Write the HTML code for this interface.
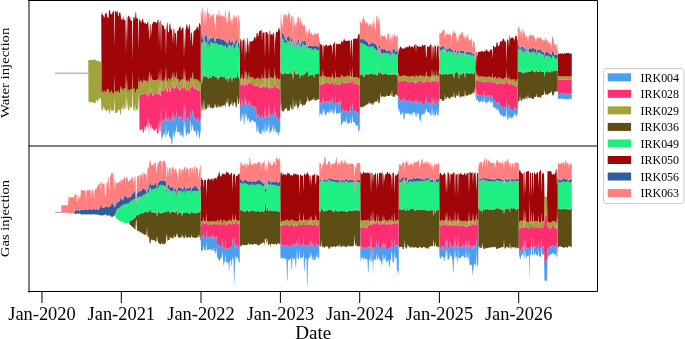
<!DOCTYPE html>
<html><head><meta charset="utf-8"><style>
html,body{margin:0;padding:0;background:#fff;width:685px;height:339px;overflow:hidden}
svg{display:block}
.t{font-family:"Liberation Serif",serif;font-size:18px;fill:#000}
.y{font-family:"Liberation Serif",serif;font-size:12.6px;fill:#000}
.l{font-family:"Liberation Serif",serif;font-size:11.6px;fill:#000}
</style></head><body>
<svg width="685" height="339" viewBox="0 0 685 339">
<rect width="685" height="339" fill="#fff"/>
<g>
<line x1="55" y1="73.2" x2="88.5" y2="73.2" stroke="#a08c8c" stroke-width="0.9"/>
<path fill="#4b9ef0" d="M160.75 108.6l0.25 0l0.5 15.3l0.5 -1.1l0.5 -0.1l0.5 -2.4l0.5 -0.2l0.5 0l0.5 -1.7l0.5 2.3l0.5 0.3l0.5 -12.9l0.5 13.5l0.5 -0.6l0.5 0.7l0.5 -4.3l0.5 -0.3l0.5 -0.3l0.5 3.9l0.5 2.7l0.5 -1.6l0.5 -3l0.5 -0.6l0.5 -0.6l0.5 -6.6l0.5 10.8l0.5 -0.7l0.5 -7.5l0.5 8.6l0.5 -4.4l0.5 0l0.5 -1.6l0.5 -6.3l0.5 7.9l0.5 -0.1l0.5 0.9l0.5 -1.2l0.5 -1.2l0.5 1l0.5 1.4l0.5 0.3l0.5 -3.5l0.5 4.6l0.5 0l0.5 -0.1l0.5 1.1l0.5 -0.7l0.5 -17.6l0.5 13.8l0.5 -10.1l0.5 9.8l0.5 4.4l0.5 1.8l0.5 -1.8l0.5 -3.1l0.5 0l0.5 0.4l0.5 0.8l0.5 1.9l0.5 -1.5l0.5 -9.6l0.5 7.7l0.5 -0.6l0.5 -0.4l0.5 -6.4l0.5 0.5l0.5 5.1l0.5 1.6l0.5 0.6l0.5 0l0.5 0.6l0.5 0.2l0.5 3.3l0.5 1l0.5 -2.9l0.5 -1l0.5 -2.1l0.5 3.2l0.5 3.3l0.5 0.3l0.5 -4.3l0.25 0L200.75 131.2l-0.25 0l-0.5 4.3l-0.5 4.4l-0.5 -3.3l-0.5 -3.1l-0.5 -4.2l-0.5 1.1l-0.5 6.7l-0.5 -0.9l-0.5 -3.2l-0.5 -1.8l-0.5 -0.6l-0.5 0l-0.5 1.2l-0.5 -1.5l-0.5 -5.1l-0.5 -0.5l-0.5 6.1l-0.5 0.5l-0.5 -8.5l-0.5 -1.8l-0.5 11.6l-0.5 1.5l-0.5 -1.8l-0.5 2.1l-0.5 -0.3l-0.5 -2.9l-0.5 3.2l-0.5 1.8l-0.5 -1.7l-0.5 -3.9l-0.5 -9.7l-0.5 10.1l-0.5 -13.8l-0.5 20l-0.5 0.7l-0.5 -2.5l-0.5 0.2l-0.5 0l-0.5 -4.6l-0.5 4.8l-0.5 -0.3l-0.5 -2.8l-0.5 -1.1l-0.5 -0.2l-0.5 1.3l-0.5 -0.8l-0.5 0l-0.5 -7.8l-0.5 6.3l-0.5 1.7l-0.5 1.3l-0.5 6.2l-0.5 -8.6l-0.5 7.6l-0.5 -8.8l-0.5 12.2l-0.5 2.3l-0.5 0.6l-0.5 -9.2l-0.5 3l-0.5 0.5l-0.5 -2.6l-0.5 -2.2l-0.5 -4.5l-0.5 1l-0.5 4.3l-0.5 -0.6l-0.5 0.6l-0.5 -11.4l-0.5 13.8l-0.5 -0.3l-0.5 -5.4l-0.5 1.8l-0.5 1.1l-0.5 0.6l-0.5 2.4l-0.5 0.2l-0.5 2.7l-0.5 -14.4ZM239.75 105.1l0.25 0l0.5 1.4l0.5 -1.2l0.5 -0.4l0.5 -7.9l0.5 8.1l0.5 0.5l0.5 0.7l0.5 -0.6l0.5 -1.8l0.5 -8.8l0.5 13.1l0.5 -7.4l0.5 -0.1l0.5 5.8l0.5 1l0.5 -3.8l0.5 2l0.5 -6.1l0.5 6.2l0.5 -0.6l0.5 -0.1l0.5 -0.2l0.5 0.3l0.5 1.4l0.5 0l0.5 0.3l0.5 -1.1l0.5 1.4l0.5 0.2l0.5 0l0.5 0.1l0.5 -1.2l0.5 9.7l0.5 1.9l0.5 -2.3l0.5 -1.2l0.5 -0.4l0.5 1l0.5 2.6l0.5 0.5l0.5 0l0.5 0.3l0.5 -0.5l0.5 -3.8l0.5 4l0.5 0.7l0.5 -1.4l0.5 0.5l0.5 -0.7l0.5 -12.3l0.5 12.8l0.5 -0.3l0.5 0l0.5 0.1l0.5 -2.3l0.5 0.3l0.5 -0.3l0.5 -10.9l0.5 13.3l0.5 0.8l0.5 -2.2l0.5 -1.4l0.5 -0.2l0.5 -1.4l0.5 0.4l0.5 1.2l0.5 1.6l0.5 -0.1l0.5 -10.1l0.5 11.4l0.5 -6.4l0.5 5l0.5 0l0.5 0.1l0.5 0.7l0.5 1.9l0.5 1.7l0.5 0.5l0.5 -1.1l0.5 -3.1l0.25 0L280.25 130.8l-0.25 0l-0.5 3.2l-0.5 -3.6l-0.5 5.9l-0.5 -1.6l-0.5 -1.9l-0.5 -0.7l-0.5 -0.2l-0.5 0l-0.5 -3.8l-0.5 6.4l-0.5 -10.2l-0.5 8.6l-0.5 -2l-0.5 -1.6l-0.5 -5l-0.5 5.3l-0.5 1.3l-0.5 0.3l-0.5 1.3l-0.5 1.1l-0.5 -0.8l-0.5 -13.3l-0.5 11l-0.5 -5.5l-0.5 4l-0.5 2.3l-0.5 -0.1l-0.5 0.6l-0.5 -1.9l-0.5 -8.5l-0.5 12.3l-0.5 -1.7l-0.5 0.2l-0.5 -4.3l-0.5 4.4l-0.5 -4.1l-0.5 6.5l-0.5 -0.8l-0.5 -0.3l-0.5 0l-0.5 -0.5l-0.5 -0.9l-0.5 -1l-0.5 -6.1l-0.5 4.7l-0.5 2.4l-0.5 -0.2l-0.5 -10.5l-0.5 0.4l-0.5 0l-0.5 0.7l-0.5 -0.2l-0.5 -2.4l-0.5 0.9l-0.5 -0.3l-0.5 0.1l-0.5 -1.5l-0.5 3l-0.5 0.2l-0.5 -1.6l-0.5 3.2l-0.5 -6.1l-0.5 1.9l-0.5 -2l-0.5 3.8l-0.5 -1.2l-0.5 -5.8l-0.5 0l-0.5 4.1l-0.5 -7.4l-0.5 12.3l-0.5 1.8l-0.5 -5.8l-0.5 -7.2l-0.5 7.2l-0.5 -7l-0.5 7.9l-0.5 0.4l-0.5 1.2l-0.5 -7.2ZM319.25 105.8l0.25 0l0.5 -1.6l0.5 -2l0.5 2.6l0.5 0.1l0.5 -3.5l0.5 3.2l0.5 -8.7l0.5 6.3l0.5 0.2l0.5 -0.8l0.5 1.2l0.5 -0.2l0.5 -0.1l0.5 -1.7l0.5 1.4l0.5 -0.8l0.5 -0.3l0.5 1.6l0.5 0.1l0.5 0.6l0.5 -4.6l0.5 3.3l0.5 0.1l0.5 -0.7l0.5 0.3l0.5 -5.2l0.5 5.5l0.5 0.5l0.5 0.4l0.5 1.7l0.5 -0.4l0.5 -8.1l0.5 7l0.5 0.5l0.5 0.1l0.5 -2l0.5 2.1l0.5 -1.7l0.5 -0.3l0.5 0.2l0.5 0.1l0.5 -3.7l0.5 13.6l0.5 0l0.5 0.1l0.5 -0.4l0.5 -3.2l0.5 1.6l0.5 0.7l0.5 0.8l0.5 -0.8l0.5 0l0.5 1.8l0.5 -2.9l0.5 2.6l0.5 0.1l0.5 0l0.5 -0.1l0.5 -1.8l0.5 0.1l0.5 1.2l0.5 -7.4l0.5 7l0.5 -0.5l0.5 0.1l0.5 -9.5l0.5 9.1l0.5 0.5l0.5 0l0.5 0.2l0.5 -1l0.5 0l0.5 2.4l0.5 -1.1l0.5 0.1l0.5 0.9l0.5 1.2l0.5 0.7l0.5 -1.2l0.5 2.3l0.25 0L359.75 129.9l-0.25 0l-0.5 1.3l-0.5 1.1l-0.5 -6.4l-0.5 -1.3l-0.5 1l-0.5 0l-0.5 1l-0.5 -2.4l-0.5 -0.8l-0.5 -1.2l-0.5 -0.1l-0.5 -0.1l-0.5 0.6l-0.5 -9.2l-0.5 9.5l-0.5 0.3l-0.5 0.5l-0.5 -7l-0.5 7.4l-0.5 -1.4l-0.5 0l-0.5 1.8l-0.5 -1.6l-0.5 -0.1l-0.5 0l-0.5 -7.2l-0.5 8.8l-0.5 -3.2l-0.5 -0.1l-0.5 0.8l-0.5 -0.7l-0.5 0.7l-0.5 -1.5l-0.5 3.1l-0.5 0.5l-0.5 1.4l-0.5 0l-0.5 -15.6l-0.5 3.3l-0.5 0.3l-0.5 -0.2l-0.5 -0.7l-0.5 1.7l-0.5 -2l-0.5 2l-0.5 -0.1l-0.5 -0.5l-0.5 -8.5l-0.5 8.1l-0.5 -3.8l-0.5 4.7l-0.5 -0.4l-0.5 -0.5l-0.5 -5.2l-0.5 5.2l-0.5 -2.9l-0.5 3.2l-0.5 -2l-0.5 -3.2l-0.5 4.5l-0.5 -0.6l-0.5 1.1l-0.5 -1.6l-0.5 0.3l-0.5 0.9l-0.5 0.5l-0.5 1.8l-0.5 0l-0.5 0.2l-0.5 -3.7l-0.5 -2l-0.5 3.3l-0.5 -6.2l-0.5 8.6l-0.5 -3.1l-0.5 3.1l-0.5 -0.1l-0.5 -2.6l-0.5 2l-0.5 2.9ZM397.75 97.3l0.25 0l0.5 -1.3l0.5 4.3l0.5 -1.8l0.5 1l0.5 2.6l0.5 -0.4l0.5 -0.7l0.5 -1.6l0.5 1l0.5 -1.5l0.5 -0.6l0.5 0.4l0.5 0l0.5 2.7l0.5 0.1l0.5 0l0.5 -0.1l0.5 -0.2l0.5 0l0.5 -1.2l0.5 0.8l0.5 -0.2l0.5 0.7l0.5 -0.6l0.5 -0.6l0.5 2.7l0.5 -0.5l0.5 -0.2l0.5 0.6l0.5 -1.2l0.5 0.1l0.5 -0.7l0.5 0.5l0.5 1.8l0.5 -0.1l0.5 -5.9l0.5 6l0.5 0l0.5 -0.9l0.5 -0.7l0.5 0.3l0.5 0.2l0.5 -0.4l0.5 -0.4l0.5 1.5l0.5 0.1l0.5 0.2l0.5 -0.8l0.5 2.2l0.5 0.3l0.5 -0.8l0.5 -0.3l0.5 0.2l0.5 -0.9l0.5 -0.2l0.5 -5.1l0.5 -1.4l0.5 5.6l0.5 0.7l0.5 -0.2l0.5 -0.7l0.5 0l0.5 0.6l0.5 0.1l0.5 2.8l0.5 0.7l0.5 -1l0.5 -8.7l0.5 8.2l0.5 -1l0.5 -0.4l0.5 -5.5l0.5 7.2l0.5 -0.7l0.5 0.4l0.5 -0.8l0.5 -6.1l0.5 7.3l0.5 -1.3l0.5 0.3l0.5 0l0.5 -6.4l0.25 0L439.25 106.2l-0.25 0l-0.5 9.8l-0.5 -1.3l-0.5 -0.3l-0.5 1.3l-0.5 -6.6l-0.5 6.1l-0.5 0.8l-0.5 -1.2l-0.5 1.9l-0.5 -7.2l-0.5 5.5l-0.5 0.1l-0.5 -0.5l-0.5 -8.4l-0.5 8.7l-0.5 1l-0.5 -0.1l-0.5 -2.8l-0.5 0.2l-0.5 -0.6l-0.5 0l-0.5 -0.5l-0.5 0.2l-0.5 -0.7l-0.5 -3.1l-0.5 1.3l-0.5 3.8l-0.5 -3.3l-0.5 4.4l-0.5 -0.2l-0.5 0.3l-0.5 -2.3l-0.5 2.9l-0.5 -1.4l-0.5 0.8l-0.5 6.4l-0.5 0l-0.5 -1.8l-0.5 0.5l-0.5 -6.2l-0.5 0l-0.5 -0.2l-0.5 -0.3l-0.5 3.9l-0.5 0l-0.5 -6l-0.5 6l-0.5 -2.2l-0.5 -2.3l-0.5 -0.5l-0.5 0.6l-0.5 -0.4l-0.5 1.2l-0.5 3.9l-0.5 -4.3l-0.5 0.8l-0.5 0l-0.5 0.6l-0.5 0.7l-0.5 -3.1l-0.5 1.8l-0.5 -0.9l-0.5 0.5l-0.5 -0.1l-0.5 0.3l-0.5 0.1l-0.5 -1l-0.5 -0.2l-0.5 7l-0.5 0l-0.5 -0.4l-0.5 -9.1l-0.5 3.4l-0.5 -1l-0.5 1.7l-0.5 0.7l-0.5 0.2l-0.5 -2.6l-0.5 -3.1l-0.5 3.4l-0.5 -4.3l-0.5 -0.1ZM475.25 94.4l0.25 0l0.5 -6.5l0.5 7.6l0.5 0.1l0.5 -2.8l0.5 2.5l0.5 0.1l0.5 -0.6l0.5 0.7l0.5 -0.2l0.5 -0.7l0.5 1.3l0.5 -0.4l0.5 0.6l0.5 -0.1l0.5 -0.2l0.5 -0.8l0.5 -4.7l0.5 6.4l0.5 -1l0.5 0l0.5 1.2l0.5 0.4l0.5 -1.7l0.5 0.1l0.5 0.5l0.5 -0.5l0.5 -0.9l0.5 0.4l0.5 0.9l0.5 1.5l0.5 -0.9l0.5 -0.3l0.5 0.1l0.5 -2.5l0.5 5.7l0.5 0.3l0.5 0.5l0.5 -0.5l0.5 1.3l0.5 0.4l0.5 0.4l0.5 2.1l0.5 -0.9l0.5 0.3l0.5 -1.8l0.5 0.1l0.5 0.7l0.5 0.2l0.5 1.7l0.5 1.4l0.5 0.4l0.5 0.3l0.5 -0.4l0.5 1.5l0.5 0.7l0.5 -0.5l0.5 0.6l0.5 -0.9l0.5 -0.4l0.5 0.2l0.5 0.2l0.5 -9.6l0.5 9.7l0.5 1.1l0.5 -0.7l0.5 -1.4l0.5 -2.9l0.5 6l0.5 0l0.5 -1.8l0.5 1.9l0.5 -0.1l0.5 0.2l0.5 -0.1l0.5 -0.9l0.5 -0.1l0.5 -0.2l0.5 -3.3l0.5 2.5l0.5 0.3l0.5 2.3l0.5 -0.2l0.5 -1.7l0.5 -1l0.25 0L517.75 113.8l-0.25 0l-0.5 1.3l-0.5 1.1l-0.5 0.3l-0.5 -2l-0.5 -0.1l-0.5 -1.8l-0.5 3.3l-0.5 0.3l-0.5 0.4l-0.5 1.1l-0.5 1.3l-0.5 -1.5l-0.5 0.9l-0.5 -1.9l-0.5 1.9l-0.5 0.3l-0.5 -4l-0.5 3.1l-0.5 1.7l-0.5 0.7l-0.5 -2.6l-0.5 -11.8l-0.5 11.5l-0.5 -0.3l-0.5 -1.3l-0.5 0.3l-0.5 1l-0.5 -0.6l-0.5 0.4l-0.5 -0.9l-0.5 -1.3l-0.5 1l-0.5 -0.4l-0.5 -0.5l-0.5 -0.5l-0.5 -1.8l-0.5 -0.3l-0.5 -2.9l-0.5 -0.2l-0.5 1.7l-0.5 -3.3l-0.5 3.3l-0.5 -2.2l-0.5 0l-0.5 -0.5l-0.5 -1.4l-0.5 1.1l-0.5 0.3l-0.5 -1.7l-0.5 -5.8l-0.5 2l-0.5 -0.2l-0.5 0.2l-0.5 0.4l-0.5 -3.7l-0.5 2.4l-0.5 -0.9l-0.5 1l-0.5 0.5l-0.5 -0.5l-0.5 0.5l-0.5 1.3l-0.5 -0.4l-0.5 -1.7l-0.5 -0.1l-0.5 1.7l-0.5 -6.4l-0.5 4.8l-0.5 0.7l-0.5 0.2l-0.5 -1.1l-0.5 -0.6l-0.5 0.4l-0.5 0.5l-0.5 0.7l-0.5 0.2l-0.5 -0.7l-0.5 -0.2l-0.5 -0.2l-0.5 -2.4l-0.5 1.6l-0.5 0.9l-0.5 -7.6l-0.5 6.5ZM557.75 93.9l0.25 0l0.5 0.2l0.5 -0.4l0.5 0l0.5 -0.2l0.5 0.2l0.5 -0.4l0.5 -0.4l0.5 0.6l0.5 -0.1l0.5 0.3l0.5 -0.1l0.5 0.6l0.5 -0.4l0.5 -0.1l0.5 0.2l0.5 -0.1l0.5 -0.3l0.5 0.9l0.5 0.3l0.5 -0.8l0.5 0.7l0.5 -1.1l0.5 0.4l0.5 -0.8l0.5 1l0.5 -0.7l0.5 1.1l0.25 0L571.75 99.8l-0.25 0l-0.5 -1l-0.5 0.7l-0.5 -1.3l-0.5 0.9l-0.5 -0.4l-0.5 1.2l-0.5 -1l-0.5 0.9l-0.5 0l-0.5 -0.7l-0.5 0.1l-0.5 0.1l-0.5 -0.2l-0.5 0l-0.5 0.5l-0.5 -0.8l-0.5 0.2l-0.5 -0.4l-0.5 0.2l-0.5 -0.5l-0.5 0.6l-0.5 0.2l-0.5 -0.3l-0.5 0l-0.5 0.1l-0.5 0l-0.5 0.2Z"/>
<path fill="#fd2f72" d="M139.25 94.8l0.25 0l0.5 0l0.5 0.7l0.5 -1.3l0.5 -0.7l0.5 1.4l0.5 0.4l0.5 -1.1l0.5 -1l0.5 0l0.5 -1.8l0.5 3.2l0.5 -1.7l0.5 1.2l0.5 0.2l0.5 0l0.5 -0.5l0.5 4.1l0.5 -9.5l0.5 9.2l0.5 -11.7l0.5 1.1l0.5 6.4l0.5 0.6l0.5 -6.3l0.5 5.4l0.5 1.8l0.5 1.2l0.5 0.1l0.5 -2.5l0.5 0.2l0.5 -0.1l0.5 -0.1l0.5 0.3l0.5 0l0.5 -0.1l0.5 0.6l0.5 -0.2l0.5 0l0.5 -11.2l0.5 10.8l0.5 1.7l0.5 0.9l0.5 -18.3l0.5 13.3l0.5 -1.1l0.5 -0.1l0.5 0.5l0.5 -0.2l0.5 0.1l0.5 -1.7l0.5 -0.8l0.5 0.3l0.5 -12.4l0.5 13.5l0.5 2.9l0.5 -0.2l0.5 -4.2l0.5 -0.3l0.5 -0.3l0.5 3.9l0.5 0.7l0.5 -1.6l0.5 -1.3l0.5 -0.6l0.5 -0.5l0.5 -6.6l0.5 7.3l0.5 -0.6l0.5 -7.5l0.5 8.6l0.5 -1.4l0.5 0.1l0.5 -1.7l0.5 -6.8l0.5 7.9l0.5 0l0.5 0.9l0.5 1l0.5 -1.2l0.5 1.1l0.5 1.3l0.5 -0.8l0.5 -1.5l0.5 -0.2l0.5 0l0.5 -0.4l0.5 1.1l0.5 -0.6l0.5 -13.1l0.5 13.8l0.5 -10l0.5 9.7l0.5 0.7l0.5 1.8l0.5 0.1l0.5 -2.2l0.5 0l0.5 0.4l0.5 0.8l0.5 1.9l0.5 -1.5l0.5 -9.6l0.5 7.2l0.5 -0.6l0.5 0l0.5 -6.3l0.5 0.6l0.5 5.1l0.5 1.5l0.5 -0.2l0.5 0l0.5 0.6l0.5 0.2l0.5 -0.7l0.5 0.9l0.5 1.9l0.5 -1l0.5 -2.1l0.5 3.2l0.5 -0.8l0.5 0.3l0.5 0.3l0.25 0L200.75 119.2l-0.25 0l-0.5 4.3l-0.5 -0.3l-0.5 -3.3l-0.5 -3.2l-0.5 2.1l-0.5 1l-0.5 2.9l-0.5 -1l-0.5 -3.3l-0.5 -0.2l-0.5 -0.6l-0.5 0l-0.5 -0.6l-0.5 -1.6l-0.5 -5.1l-0.5 -0.5l-0.5 6.4l-0.5 0.4l-0.5 0.6l-0.5 -7.7l-0.5 9.6l-0.5 1.5l-0.5 -1.9l-0.5 -0.8l-0.5 -0.4l-0.5 0l-0.5 3.1l-0.5 1.8l-0.5 -1.8l-0.5 -4.4l-0.5 -9.8l-0.5 10.1l-0.5 -13.8l-0.5 17.6l-0.5 0.7l-0.5 -1.1l-0.5 0.1l-0.5 0l-0.5 -4.6l-0.5 3.5l-0.5 -0.3l-0.5 -1.4l-0.5 -1l-0.5 1.2l-0.5 1.2l-0.5 -0.9l-0.5 0.1l-0.5 -7.9l-0.5 6.3l-0.5 1.6l-0.5 0l-0.5 4.4l-0.5 -8.6l-0.5 7.5l-0.5 0.7l-0.5 -10.8l-0.5 6.6l-0.5 0.6l-0.5 0.6l-0.5 3l-0.5 1.6l-0.5 -2.7l-0.5 -3.9l-0.5 0.3l-0.5 0.3l-0.5 4.3l-0.5 -0.7l-0.5 0.6l-0.5 -13.5l-0.5 12.9l-0.5 -0.3l-0.5 -2.3l-0.5 1.7l-0.5 0l-0.5 0.2l-0.5 2.4l-0.5 0.1l-0.5 1.1l-0.5 -15.3l-0.5 23.3l-0.5 -1.1l-0.5 -0.6l-0.5 -10.9l-0.5 14.3l-0.5 0l-0.5 0.1l-0.5 -0.5l-0.5 -5.2l-0.5 0l-0.5 2.5l-0.5 0.1l-0.5 0.1l-0.5 -0.2l-0.5 -0.9l-0.5 -0.1l-0.5 -1.2l-0.5 0.2l-0.5 -5.4l-0.5 6.3l-0.5 -0.6l-0.5 -4.9l-0.5 -1.1l-0.5 11.7l-0.5 -9.2l-0.5 -9.2l-0.5 13.7l-0.5 -3.9l-0.5 0l-0.5 -0.3l-0.5 5.3l-0.5 -1.6l-0.5 -3.3l-0.5 6.3l-0.5 -0.2l-0.5 1l-0.5 -4.6l-0.5 1.7l-0.5 -1.4l-0.5 0.6l-0.5 1.3l-0.5 -0.7l-0.5 0ZM239.75 83.2l0.25 0l0.5 1.4l0.5 0.3l0.5 -0.4l0.5 -8l0.5 8.2l0.5 0.4l0.5 -0.6l0.5 1.2l0.5 -1.8l0.5 -8.8l0.5 12.3l0.5 -7.4l0.5 -0.1l0.5 5.9l0.5 -0.3l0.5 -3.8l0.5 2l0.5 -6l0.5 6l0.5 -0.5l0.5 -0.1l0.5 -0.2l0.5 1.5l0.5 -0.4l0.5 0l0.5 0.3l0.5 0.2l0.5 0.9l0.5 0l0.5 0l0.5 0.1l0.5 -1.2l0.5 1.5l0.5 0.5l0.5 0l0.5 -1.1l0.5 -0.4l0.5 0.9l0.5 1.5l0.5 0.5l0.5 0.1l0.5 0.2l0.5 0.1l0.5 -5.6l0.5 4.1l0.5 0.7l0.5 -0.8l0.5 0.6l0.5 0l0.5 -12.3l0.5 12.7l0.5 -0.3l0.5 0l0.5 0.1l0.5 -0.3l0.5 0.3l0.5 -0.3l0.5 -10.9l0.5 12.7l0.5 0.8l0.5 -2.2l0.5 -1.3l0.5 1.9l0.5 -1.4l0.5 0.4l0.5 1.2l0.5 -1.1l0.5 -0.1l0.5 -10.6l0.5 11.3l0.5 -5.2l0.5 4.9l0.5 0l0.5 0.1l0.5 -0.1l0.5 -0.4l0.5 1.6l0.5 0.6l0.5 -1.1l0.5 -0.8l0.25 0L280.25 116.9l-0.25 0l-0.5 3.1l-0.5 1.1l-0.5 -0.5l-0.5 -1.7l-0.5 -1.9l-0.5 -0.7l-0.5 -0.1l-0.5 0l-0.5 -5l-0.5 6.4l-0.5 -11.4l-0.5 10.1l-0.5 0.1l-0.5 -1.6l-0.5 -1.2l-0.5 -0.4l-0.5 1.4l-0.5 0.2l-0.5 1.4l-0.5 2.2l-0.5 -0.8l-0.5 -13.3l-0.5 10.9l-0.5 0.3l-0.5 -0.3l-0.5 2.3l-0.5 -0.1l-0.5 0l-0.5 0.3l-0.5 -12.8l-0.5 12.3l-0.5 0.7l-0.5 -0.5l-0.5 1.4l-0.5 -0.7l-0.5 -4l-0.5 3.8l-0.5 0.5l-0.5 -0.3l-0.5 0l-0.5 -0.5l-0.5 -2.6l-0.5 -1l-0.5 0.4l-0.5 1.2l-0.5 2.3l-0.5 -1.9l-0.5 -9.7l-0.5 1.2l-0.5 -0.1l-0.5 0l-0.5 -0.2l-0.5 -1.4l-0.5 1.1l-0.5 -0.3l-0.5 0l-0.5 -1.4l-0.5 -0.3l-0.5 0.2l-0.5 0.1l-0.5 0.6l-0.5 -6.2l-0.5 6.1l-0.5 -2l-0.5 3.8l-0.5 -1l-0.5 -5.8l-0.5 0.1l-0.5 7.4l-0.5 -13.1l-0.5 8.8l-0.5 1.8l-0.5 0.6l-0.5 -0.7l-0.5 -0.5l-0.5 -8.1l-0.5 7.9l-0.5 0.4l-0.5 1.2l-0.5 -1.4ZM319.25 83.9l0.25 0l0.5 -0.1l0.5 0.5l0.5 0.8l0.5 0l0.5 -1.4l0.5 1.2l0.5 -8.7l0.5 7.9l0.5 0.2l0.5 -2.3l0.5 1.2l0.5 0l0.5 -0.1l0.5 0.2l0.5 -0.2l0.5 -0.8l0.5 -1.4l0.5 1.6l0.5 0l0.5 0.7l0.5 1l0.5 -0.5l0.5 -0.2l0.5 -0.6l0.5 0.3l0.5 -4.6l0.5 5.5l0.5 -0.1l0.5 -0.4l0.5 1.7l0.5 -0.5l0.5 -8l0.5 7.1l0.5 0.4l0.5 0l0.5 -2l0.5 2.1l0.5 0.2l0.5 -0.3l0.5 0l0.5 0l0.5 0.3l0.5 -3.4l0.5 0.1l0.5 0.1l0.5 -0.5l0.5 0.3l0.5 1.5l0.5 0.8l0.5 -0.1l0.5 -0.8l0.5 0l0.5 -0.4l0.5 1.2l0.5 -1.1l0.5 0.1l0.5 0l0.5 -0.1l0.5 0.5l0.5 0.1l0.5 -0.5l0.5 -7.4l0.5 8.1l0.5 -0.5l0.5 0.1l0.5 -9.5l0.5 10.3l0.5 0.4l0.5 0.1l0.5 0.1l0.5 0.1l0.5 0l0.5 -0.4l0.5 -1.1l0.5 0l0.5 0.8l0.5 1.3l0.5 0.6l0.5 -1.1l0.5 0.7l0.25 0L359.75 115.7l-0.25 0l-0.5 -2.3l-0.5 1.2l-0.5 -0.7l-0.5 -1.2l-0.5 -0.9l-0.5 -0.1l-0.5 1.1l-0.5 -2.4l-0.5 0l-0.5 1l-0.5 -0.2l-0.5 0l-0.5 -0.5l-0.5 -9.1l-0.5 9.5l-0.5 -0.1l-0.5 0.5l-0.5 -7l-0.5 7.4l-0.5 -1.2l-0.5 -0.1l-0.5 1.8l-0.5 0.1l-0.5 0l-0.5 -0.1l-0.5 -2.6l-0.5 2.9l-0.5 -1.8l-0.5 0l-0.5 0.8l-0.5 -0.8l-0.5 -0.7l-0.5 -1.6l-0.5 3.2l-0.5 0.4l-0.5 -0.1l-0.5 0l-0.5 -13.6l-0.5 3.7l-0.5 -0.1l-0.5 -0.2l-0.5 0.3l-0.5 1.7l-0.5 -2.1l-0.5 2l-0.5 -0.1l-0.5 -0.5l-0.5 -7l-0.5 8.1l-0.5 0.4l-0.5 -1.7l-0.5 -0.4l-0.5 -0.5l-0.5 -5.5l-0.5 5.2l-0.5 -0.3l-0.5 0.7l-0.5 -0.1l-0.5 -3.3l-0.5 4.6l-0.5 -0.6l-0.5 -0.1l-0.5 -1.6l-0.5 0.3l-0.5 0.8l-0.5 -1.4l-0.5 1.7l-0.5 0.1l-0.5 0.2l-0.5 -1.2l-0.5 0.8l-0.5 -0.2l-0.5 -6.3l-0.5 8.7l-0.5 -3.2l-0.5 3.5l-0.5 -0.1l-0.5 -2.6l-0.5 2l-0.5 1.6ZM397.75 79.7l0.25 0l0.5 -1.4l0.5 4.2l0.5 -1.8l0.5 0.9l0.5 -0.3l0.5 -0.4l0.5 -0.8l0.5 0.4l0.5 -0.2l0.5 0.9l0.5 -0.6l0.5 0.3l0.5 0l0.5 0.2l0.5 0l0.5 -0.1l0.5 -0.1l0.5 1.2l0.5 0l0.5 -0.8l0.5 0.8l0.5 0.2l0.5 0.6l0.5 -0.6l0.5 -0.7l0.5 0.5l0.5 -0.5l0.5 -0.3l0.5 0.6l0.5 -0.2l0.5 0l0.5 0.5l0.5 0.4l0.5 0.8l0.5 -0.1l0.5 -4.1l0.5 3.1l0.5 0l0.5 0.1l0.5 -0.7l0.5 -0.3l0.5 0.2l0.5 -0.4l0.5 -0.5l0.5 0.1l0.5 0l0.5 0.2l0.5 -0.4l0.5 2.1l0.5 0.2l0.5 -0.8l0.5 0.1l0.5 0.1l0.5 0.2l0.5 -0.2l0.5 -5.2l0.5 -0.9l0.5 5.5l0.5 0.6l0.5 -0.2l0.5 -1.2l0.5 -0.1l0.5 0.6l0.5 0.1l0.5 0.6l0.5 0.5l0.5 -1l0.5 -8l0.5 8.1l0.5 -1.1l0.5 0.4l0.5 -5.5l0.5 6.2l0.5 -0.8l0.5 0.3l0.5 0.2l0.5 -6.2l0.5 6.8l0.5 -1.3l0.5 1.2l0.5 -0.1l0.5 -6.4l0.25 0L439.25 97.4l-0.25 0l-0.5 6.4l-0.5 0l-0.5 -0.3l-0.5 1.3l-0.5 -7.3l-0.5 6.1l-0.5 0.8l-0.5 -0.4l-0.5 0.7l-0.5 -7.2l-0.5 5.5l-0.5 0.4l-0.5 1l-0.5 -8.2l-0.5 8.7l-0.5 1l-0.5 -0.7l-0.5 -2.8l-0.5 -0.1l-0.5 -0.6l-0.5 0l-0.5 0.7l-0.5 0.2l-0.5 -0.7l-0.5 -5.6l-0.5 1.4l-0.5 5.1l-0.5 0.2l-0.5 0.9l-0.5 -0.2l-0.5 0.3l-0.5 0.8l-0.5 -0.3l-0.5 -2.2l-0.5 0.8l-0.5 -0.2l-0.5 -0.1l-0.5 -1.5l-0.5 0.4l-0.5 0.4l-0.5 -0.2l-0.5 -0.3l-0.5 0.7l-0.5 0.9l-0.5 0l-0.5 -6l-0.5 5.9l-0.5 0.1l-0.5 -1.8l-0.5 -0.5l-0.5 0.7l-0.5 -0.1l-0.5 1.2l-0.5 -0.6l-0.5 0.2l-0.5 0.5l-0.5 -2.7l-0.5 0.6l-0.5 0.6l-0.5 -0.7l-0.5 0.2l-0.5 -0.8l-0.5 1.2l-0.5 0l-0.5 0.2l-0.5 0.1l-0.5 0l-0.5 -0.1l-0.5 -2.7l-0.5 0l-0.5 -0.4l-0.5 0.6l-0.5 1.5l-0.5 -1l-0.5 1.6l-0.5 0.7l-0.5 0.4l-0.5 -2.6l-0.5 -1l-0.5 1.8l-0.5 -4.3l-0.5 1.3ZM475.25 80.8l0.25 0l0.5 -6.6l0.5 6.8l0.5 0.1l0.5 -2.9l0.5 2.3l0.5 0.1l0.5 0.1l0.5 0.7l0.5 -0.4l0.5 -0.8l0.5 1.3l0.5 0.1l0.5 0.6l0.5 -0.3l0.5 -0.8l0.5 -0.9l0.5 2.5l0.5 -0.9l0.5 -0.3l0.5 0l0.5 1.1l0.5 -0.8l0.5 -0.7l0.5 0l0.5 0.6l0.5 -0.6l0.5 0.2l0.5 -0.1l0.5 0.9l0.5 0l0.5 0.3l0.5 -0.5l0.5 -0.3l0.5 -4.5l0.5 6.1l0.5 0l0.5 0.1l0.5 -0.8l0.5 -0.8l0.5 0.1l0.5 0l0.5 1.8l0.5 0.9l0.5 -0.1l0.5 -2.1l0.5 -0.6l0.5 0.5l0.5 0.4l0.5 1.4l0.5 -0.6l0.5 -0.1l0.5 0l0.5 -0.6l0.5 1.2l0.5 -0.1l0.5 0.5l0.5 0.2l0.5 -1.1l0.5 -0.6l0.5 -0.1l0.5 0.1l0.5 -9.9l0.5 9.8l0.5 0.9l0.5 -0.3l0.5 -1.3l0.5 -2.7l0.5 5.4l0.5 0.1l0.5 -1.6l0.5 0.8l0.5 0.1l0.5 0.3l0.5 0.1l0.5 -0.1l0.5 0l0.5 0.1l0.5 -1l0.5 2.7l0.5 0.4l0.5 -0.5l0.5 0.1l0.5 -1.6l0.5 -0.8l0.25 0L517.75 107.6l-0.25 0l-0.5 1l-0.5 1.7l-0.5 0.2l-0.5 -2.3l-0.5 -0.3l-0.5 -2.5l-0.5 3.3l-0.5 0.2l-0.5 0.1l-0.5 0.9l-0.5 0.1l-0.5 -0.2l-0.5 0.1l-0.5 -1.9l-0.5 1.8l-0.5 0l-0.5 -6l-0.5 2.9l-0.5 1.4l-0.5 0.7l-0.5 -1.1l-0.5 -9.7l-0.5 9.6l-0.5 -0.2l-0.5 -0.2l-0.5 0.4l-0.5 0.9l-0.5 -0.6l-0.5 0.5l-0.5 -0.7l-0.5 -1.5l-0.5 0.4l-0.5 -0.3l-0.5 -0.4l-0.5 -1.4l-0.5 -1.7l-0.5 -0.2l-0.5 -0.7l-0.5 -0.1l-0.5 1.8l-0.5 -0.3l-0.5 0.9l-0.5 -2.1l-0.5 -0.4l-0.5 -0.4l-0.5 -1.3l-0.5 0.5l-0.5 -0.5l-0.5 -0.3l-0.5 -5.7l-0.5 2.5l-0.5 -0.1l-0.5 0.3l-0.5 0.9l-0.5 -1.5l-0.5 -0.9l-0.5 -0.4l-0.5 0.9l-0.5 0.5l-0.5 -0.5l-0.5 -0.1l-0.5 1.7l-0.5 -0.4l-0.5 -1.2l-0.5 0l-0.5 1l-0.5 -6.4l-0.5 4.7l-0.5 0.8l-0.5 0.2l-0.5 0.1l-0.5 -0.6l-0.5 0.4l-0.5 -1.3l-0.5 0.7l-0.5 0.2l-0.5 -0.7l-0.5 0.6l-0.5 -0.1l-0.5 -2.5l-0.5 2.8l-0.5 -0.1l-0.5 -7.6l-0.5 6.5ZM557.75 79.5l0.25 0l0.5 0.1l0.5 0l0.5 -0.3l0.5 0.1l0.5 0.4l0.5 0.1l0.5 -0.2l0.5 0.1l0.5 0.2l0.5 -0.7l0.5 -0.2l0.5 0.6l0.5 -0.2l0.5 0.4l0.5 -0.5l0.5 0.4l0.5 0.3l0.5 -0.5l0.5 0l0.5 0.4l0.5 0l0.5 -0.3l0.5 0.3l0.5 -0.7l0.5 0.1l0.5 0.1l0.5 0.2l0.25 0L571.75 94.5l-0.25 0l-0.5 -1.1l-0.5 0.7l-0.5 -1l-0.5 0.8l-0.5 -0.4l-0.5 1.1l-0.5 -0.7l-0.5 0.8l-0.5 -0.3l-0.5 -0.9l-0.5 0.3l-0.5 0.1l-0.5 -0.2l-0.5 0.1l-0.5 0.4l-0.5 -0.6l-0.5 0.1l-0.5 -0.3l-0.5 0.1l-0.5 -0.6l-0.5 0.4l-0.5 0.4l-0.5 -0.2l-0.5 0.2l-0.5 0l-0.5 0.4l-0.5 -0.2Z"/>
<path fill="#a2a33a" d="M88.25 60.2l0.25 0l0.5 0l0.5 0l0.5 -0.2l0.5 0l0.5 0l0.5 0.1l0.5 0l0.5 0l0.5 0l0.5 -0.4l0.5 -0.1l0.5 0l0.5 0l0.5 0l0.5 1.5l0.5 0l0.5 -0.7l0.5 0l0.5 0l0.5 1l0.5 0l0.5 0.3l0.5 0l0.5 0l0.5 0l0.5 29.7l0.5 1.6l0.5 -1.7l0.5 0l0.5 2.4l0.5 -3.5l0.5 0.2l0.5 1.9l0.5 0l0.5 -0.1l0.5 -0.8l0.5 -2.2l0.5 -0.4l0.5 0l0.5 0.5l0.5 3.4l0.5 -0.9l0.5 0.5l0.5 2.7l0.5 -4.4l0.5 0l0.5 1.2l0.5 1.1l0.5 -0.1l0.5 0.9l0.5 0.5l0.5 -18.7l0.5 17.1l0.5 -1.1l0.5 -0.1l0.5 0l0.5 -0.1l0.5 2l0.5 -3l0.5 -0.1l0.5 3l0.5 0l0.5 -1.4l0.5 -4.2l0.5 -1.8l0.5 2.2l0.5 1.3l0.5 -0.6l0.5 2.6l0.5 -1.1l0.5 -2.1l0.5 0.3l0.5 -0.3l0.5 0l0.5 -16.1l0.5 19.8l0.5 -13.7l0.5 13.8l0.5 -0.9l0.5 -1.3l0.5 -0.2l0.5 3.4l0.5 -3.2l0.5 -0.7l0.5 0l0.5 0l0.5 -0.4l0.5 -17.7l0.5 17.6l0.5 0.2l0.5 0l0.5 -0.1l0.5 3.1l0.5 1.9l0.5 -1.6l0.5 -3.2l0.5 0l0.5 0.1l0.5 0l0.5 -13.3l0.5 13.4l0.5 -7.6l0.5 0l0.5 -0.3l0.5 -1.3l0.5 1.4l0.5 1.4l0.5 0.3l0.5 -1l0.5 -2.1l0.5 0l0.5 2l0.5 -1.5l0.5 -0.5l0.5 1.2l0.5 -0.1l0.5 0l0.5 0.5l0.5 4.2l0.5 -10.1l0.5 7.2l0.5 -10.7l0.5 1.1l0.5 6.4l0.5 -0.2l0.5 -5.1l0.5 5.4l0.5 -0.2l0.5 0.6l0.5 0.1l0.5 0.2l0.5 -0.1l0.5 0l0.5 -0.1l0.5 0.6l0.5 0l0.5 -1.9l0.5 0.6l0.5 1.3l0.5 0l0.5 -11.2l0.5 10.8l0.5 -0.4l0.5 0.9l0.5 -13l0.5 13.4l0.5 -0.8l0.5 -0.1l0.5 0.6l0.5 0.1l0.5 0.1l0.5 -1.7l0.5 -0.8l0.5 -0.1l0.5 -12.4l0.5 13.6l0.5 2.9l0.5 -0.1l0.5 -4.2l0.5 0.1l0.5 -0.3l0.5 3.9l0.5 -0.9l0.5 -1.5l0.5 -1.3l0.5 -0.7l0.5 0.3l0.5 -6.6l0.5 8l0.5 -0.6l0.5 -7.5l0.5 7l0.5 -1.3l0.5 0l0.5 0.8l0.5 -6.8l0.5 7.9l0.5 0l0.5 -0.4l0.5 1l0.5 2.6l0.5 -0.5l0.5 -0.7l0.5 0l0.5 -1.5l0.5 -0.2l0.5 -0.3l0.5 1.5l0.5 -0.6l0.5 -0.7l0.5 -13.1l0.5 13.9l0.5 -9.2l0.5 9.7l0.5 -0.8l0.5 1.8l0.5 0.5l0.5 1.2l0.5 -3.4l0.5 -0.2l0.5 3.5l0.5 -0.8l0.5 -1.5l0.5 -4.9l0.5 3l0.5 -0.6l0.5 0.1l0.5 -6.4l0.5 2.2l0.5 5.1l0.5 0.3l0.5 -0.2l0.5 0l0.5 0.6l0.5 -0.3l0.5 -0.7l0.5 1l0.5 0.8l0.5 0.5l0.5 -2.1l0.5 3.2l0.5 -0.7l0.5 0.2l0.5 0.4l0.25 0L200.75 91.0l-0.25 0l-0.5 -0.3l-0.5 -0.3l-0.5 0.8l-0.5 -3.2l-0.5 2.1l-0.5 1l-0.5 -1.9l-0.5 -0.9l-0.5 0.7l-0.5 -0.2l-0.5 -0.6l-0.5 0l-0.5 0.2l-0.5 -1.5l-0.5 -5.1l-0.5 -0.6l-0.5 6.3l-0.5 0l-0.5 0.6l-0.5 -7.2l-0.5 9.6l-0.5 1.5l-0.5 -1.9l-0.5 -0.8l-0.5 -0.4l-0.5 0l-0.5 2.2l-0.5 -0.1l-0.5 -1.8l-0.5 -0.7l-0.5 -9.7l-0.5 10l-0.5 -13.8l-0.5 13.1l-0.5 0.6l-0.5 -1.1l-0.5 0.4l-0.5 0l-0.5 0.2l-0.5 1.5l-0.5 0.8l-0.5 -1.3l-0.5 -1.1l-0.5 1.2l-0.5 -1l-0.5 -0.9l-0.5 0l-0.5 -7.9l-0.5 6.8l-0.5 1.7l-0.5 -0.1l-0.5 1.4l-0.5 -8.6l-0.5 7.5l-0.5 0.6l-0.5 -7.3l-0.5 6.6l-0.5 0.5l-0.5 0.6l-0.5 1.3l-0.5 1.6l-0.5 -0.7l-0.5 -3.9l-0.5 0.3l-0.5 0.3l-0.5 4.2l-0.5 0.2l-0.5 -2.9l-0.5 -13.5l-0.5 12.4l-0.5 -0.3l-0.5 0.8l-0.5 1.7l-0.5 -0.1l-0.5 0.2l-0.5 -0.5l-0.5 0.1l-0.5 1.1l-0.5 -13.3l-0.5 18.3l-0.5 -0.9l-0.5 -1.7l-0.5 -10.8l-0.5 11.2l-0.5 0l-0.5 0.2l-0.5 -0.6l-0.5 0.1l-0.5 0l-0.5 -0.3l-0.5 0.1l-0.5 0.1l-0.5 -0.2l-0.5 2.5l-0.5 -0.1l-0.5 -1.2l-0.5 -1.8l-0.5 -5.4l-0.5 6.3l-0.5 -0.6l-0.5 -6.4l-0.5 -1.1l-0.5 11.7l-0.5 -9.2l-0.5 9.5l-0.5 -4.1l-0.5 0.5l-0.5 0l-0.5 -0.2l-0.5 -1.2l-0.5 1.7l-0.5 -3.2l-0.5 1.8l-0.5 0l-0.5 1l-0.5 1.1l-0.5 -0.4l-0.5 -1.4l-0.5 0.7l-0.5 1.3l-0.5 -0.7l-0.5 0l-0.5 15.8l-0.5 -17.6l-0.5 16l-0.5 0l-0.5 0.4l-0.5 0.1l-0.5 3.1l-0.5 -3.4l-0.5 -5.3l-0.5 6.9l-0.5 0l-0.5 0l-0.5 -4.8l-0.5 -17.6l-0.5 17.8l-0.5 0.9l-0.5 0.1l-0.5 0l-0.5 3.8l-0.5 -7.1l-0.5 6.9l-0.5 0.2l-0.5 -2.7l-0.5 -2l-0.5 -8.4l-0.5 13.8l-0.5 -19.2l-0.5 16l-0.5 0.1l-0.5 -0.6l-0.5 0.7l-0.5 2l-0.5 -7.1l-0.5 5.7l-0.5 -1.1l-0.5 0.4l-0.5 5l-0.5 1.8l-0.5 -3l-0.5 -2.9l-0.5 0l-0.5 0.2l-0.5 0l-0.5 3l-0.5 0l-0.5 0l-0.5 0.1l-0.5 0l-0.5 0.7l-0.5 -17l-0.5 13.7l-0.5 1.3l-0.5 -0.8l-0.5 0l-0.5 -1.1l-0.5 1.6l-0.5 0.1l-0.5 -4.5l-0.5 6.1l-0.5 1.2l-0.5 -1.8l-0.5 -3.4l-0.5 1.1l-0.5 0.1l-0.5 0.3l-0.5 2.2l-0.5 -2.7l-0.5 0.1l-0.5 0l-0.5 -1.9l-0.5 0.6l-0.5 -2.7l-0.5 3.7l-0.5 0.1l-0.5 1.5l-0.5 -1.6l-0.5 -11.1l-0.5 0l-0.5 0l-0.5 0l-0.5 0.5l-0.5 0l-0.5 2.2l-0.5 0l-0.5 0l-0.5 -1.4l-0.5 0l-0.5 3.3l-0.5 0l-0.5 0l-0.5 0l-0.5 -0.2l-0.5 -0.9l-0.5 0l-0.5 0l-0.5 0l-0.5 0.1l-0.5 0l-0.5 0l-0.5 -0.4l-0.5 0l-0.5 0ZM239.75 77.5l0.25 0l0.5 1.4l0.5 0.3l0.5 -1.3l0.5 -4.9l0.5 5.6l0.5 0.4l0.5 -0.6l0.5 0.9l0.5 -1.7l0.5 -9.5l0.5 11l0.5 -7l0.5 0.1l0.5 7.1l0.5 -0.2l0.5 -3.9l0.5 2.1l0.5 -6.1l0.5 6.9l0.5 -0.6l0.5 -0.1l0.5 -0.2l0.5 0.4l0.5 -0.3l0.5 0l0.5 0.2l0.5 0.3l0.5 1.6l0.5 0l0.5 0.1l0.5 0l0.5 -1.3l0.5 -0.3l0.5 0.1l0.5 0.7l0.5 -1.1l0.5 -0.4l0.5 2.6l0.5 -0.8l0.5 -0.3l0.5 0.1l0.5 0.2l0.5 0.1l0.5 -6l0.5 6.5l0.5 -1.7l0.5 0l0.5 -0.2l0.5 0l0.5 -12.2l0.5 12.7l0.5 0.2l0.5 0.1l0.5 0.1l0.5 -0.4l0.5 0.3l0.5 -0.3l0.5 -11l0.5 10.8l0.5 0.8l0.5 -2.2l0.5 0.6l0.5 0.9l0.5 -0.6l0.5 0.4l0.5 1.3l0.5 -1.4l0.5 -0.2l0.5 -10.6l0.5 11.4l0.5 -4.4l0.5 5l0.5 0l0.5 -0.6l0.5 -0.1l0.5 -0.4l0.5 1.5l0.5 0.4l0.5 0l0.5 -0.8l0.25 0L280.25 87.3l-0.25 0l-0.5 0.8l-0.5 1.1l-0.5 -0.6l-0.5 -1.6l-0.5 0.4l-0.5 0.1l-0.5 -0.1l-0.5 0l-0.5 -4.9l-0.5 5.2l-0.5 -11.3l-0.5 10.6l-0.5 0.1l-0.5 1.1l-0.5 -1.2l-0.5 -0.4l-0.5 1.4l-0.5 -1.9l-0.5 1.3l-0.5 2.2l-0.5 -0.8l-0.5 -12.7l-0.5 10.9l-0.5 0.3l-0.5 -0.3l-0.5 0.3l-0.5 -0.1l-0.5 0l-0.5 0.3l-0.5 -12.7l-0.5 12.3l-0.5 0l-0.5 -0.6l-0.5 0.8l-0.5 -0.7l-0.5 -4.1l-0.5 5.6l-0.5 -0.1l-0.5 -0.2l-0.5 -0.1l-0.5 -0.5l-0.5 -1.5l-0.5 -0.9l-0.5 0.4l-0.5 1.1l-0.5 0l-0.5 -0.5l-0.5 -1.5l-0.5 1.2l-0.5 -0.1l-0.5 0l-0.5 0l-0.5 -0.9l-0.5 -0.2l-0.5 -0.3l-0.5 0l-0.5 0.4l-0.5 -1.5l-0.5 0.2l-0.5 0.1l-0.5 0.5l-0.5 -6l-0.5 6l-0.5 -2l-0.5 3.8l-0.5 0.3l-0.5 -5.9l-0.5 0.1l-0.5 7.4l-0.5 -12.3l-0.5 8.8l-0.5 1.8l-0.5 -1.2l-0.5 0.6l-0.5 -0.4l-0.5 -8.2l-0.5 8l-0.5 0.4l-0.5 -0.3l-0.5 -1.4ZM319.25 77.6l0.25 0l0.5 -0.7l0.5 0.5l0.5 -1.8l0.5 0.1l0.5 0.5l0.5 -1l0.5 -6.1l0.5 7.9l0.5 0.2l0.5 -1.1l0.5 -0.1l0.5 0.1l0.5 1.3l0.5 0.1l0.5 -0.1l0.5 -0.9l0.5 0.9l0.5 -0.7l0.5 0.1l0.5 0.3l0.5 1.1l0.5 -0.6l0.5 -0.1l0.5 -0.8l0.5 -0.3l0.5 -4.3l0.5 5.5l0.5 -0.1l0.5 0l0.5 1.7l0.5 -1.3l0.5 -8.1l0.5 6.9l0.5 0.5l0.5 0l0.5 0.3l0.5 -0.2l0.5 0.2l0.5 0l0.5 0l0.5 0l0.5 1l0.5 -3.2l0.5 0l0.5 0.1l0.5 0.3l0.5 0.3l0.5 1.5l0.5 -0.1l0.5 -0.1l0.5 -0.9l0.5 0.1l0.5 -0.5l0.5 1.2l0.5 -1.5l0.5 0l0.5 0.1l0.5 0l0.5 0.5l0.5 0.1l0.5 -0.2l0.5 -7.4l0.5 8.2l0.5 -0.5l0.5 0.1l0.5 -9.5l0.5 10.2l0.5 0l0.5 0.1l0.5 -0.1l0.5 0.1l0.5 0l0.5 -1l0.5 0.6l0.5 0.1l0.5 -0.2l0.5 1.3l0.5 0.6l0.5 -0.7l0.5 0.6l0.25 0L359.75 85.0l-0.25 0l-0.5 -0.7l-0.5 1.1l-0.5 -0.6l-0.5 -1.3l-0.5 -0.8l-0.5 0l-0.5 1.1l-0.5 0.4l-0.5 0l-0.5 -0.1l-0.5 -0.1l-0.5 -0.1l-0.5 -0.4l-0.5 -10.3l-0.5 9.5l-0.5 -0.1l-0.5 0.5l-0.5 -8.1l-0.5 7.4l-0.5 0.5l-0.5 -0.1l-0.5 -0.5l-0.5 0.1l-0.5 0l-0.5 -0.1l-0.5 1.1l-0.5 -1.2l-0.5 0.4l-0.5 0l-0.5 0.8l-0.5 0.1l-0.5 -0.8l-0.5 -1.5l-0.5 -0.3l-0.5 0.5l-0.5 -0.1l-0.5 -0.1l-0.5 3.4l-0.5 -0.3l-0.5 0l-0.5 0l-0.5 0.3l-0.5 -0.2l-0.5 -2.1l-0.5 2l-0.5 0l-0.5 -0.4l-0.5 -7.1l-0.5 8l-0.5 0.5l-0.5 -1.7l-0.5 0.4l-0.5 0.1l-0.5 -5.5l-0.5 4.6l-0.5 -0.3l-0.5 0.6l-0.5 0.2l-0.5 0.5l-0.5 -1l-0.5 -0.7l-0.5 0l-0.5 -1.6l-0.5 1.4l-0.5 0.8l-0.5 0.2l-0.5 -0.2l-0.5 0.1l-0.5 0l-0.5 -1.2l-0.5 2.3l-0.5 -0.2l-0.5 -7.9l-0.5 8.7l-0.5 -1.2l-0.5 1.4l-0.5 0l-0.5 -0.8l-0.5 -0.5l-0.5 0.1ZM397.75 76.4l0.25 0l0.5 -3.5l0.5 4.2l0.5 -1.5l0.5 1l0.5 -0.4l0.5 0.2l0.5 -0.8l0.5 0.4l0.5 -0.2l0.5 0.3l0.5 -0.6l0.5 -0.6l0.5 0l0.5 1.2l0.5 -0.1l0.5 0l0.5 -0.1l0.5 0.5l0.5 0.1l0.5 -0.8l0.5 1l0.5 0.2l0.5 0.6l0.5 -1.1l0.5 -0.6l0.5 0.4l0.5 0l0.5 -0.3l0.5 0.1l0.5 -0.2l0.5 0l0.5 1.2l0.5 0.5l0.5 -0.6l0.5 -0.1l0.5 -2.7l0.5 2.1l0.5 0l0.5 0.6l0.5 -0.6l0.5 0l0.5 -0.1l0.5 -0.4l0.5 -0.3l0.5 -0.5l0.5 0l0.5 0.6l0.5 1.7l0.5 -0.9l0.5 0.2l0.5 -0.8l0.5 0.1l0.5 1l0.5 0.6l0.5 -0.2l0.5 -5.2l0.5 -0.9l0.5 5.5l0.5 -0.2l0.5 -0.3l0.5 0.4l0.5 -0.1l0.5 0.6l0.5 0.1l0.5 -0.9l0.5 0.5l0.5 -0.6l0.5 -8.1l0.5 8.2l0.5 -1.1l0.5 0.9l0.5 -5.6l0.5 6.2l0.5 -0.8l0.5 -0.3l0.5 0.2l0.5 -6.2l0.5 7.1l0.5 -1.3l0.5 1.1l0.5 -0.1l0.5 -6.3l0.25 0L439.25 75.4l-0.25 0l-0.5 6.4l-0.5 0.1l-0.5 -1.2l-0.5 1.3l-0.5 -6.8l-0.5 6.2l-0.5 -0.2l-0.5 -0.3l-0.5 0.8l-0.5 -6.2l-0.5 5.5l-0.5 -0.4l-0.5 1.1l-0.5 -8.1l-0.5 8l-0.5 1l-0.5 -0.5l-0.5 -0.6l-0.5 -0.1l-0.5 -0.6l-0.5 0.1l-0.5 1.2l-0.5 0.2l-0.5 -0.6l-0.5 -5.5l-0.5 0.9l-0.5 5.2l-0.5 0.2l-0.5 -0.2l-0.5 -0.1l-0.5 -0.1l-0.5 0.8l-0.5 -0.2l-0.5 -2.1l-0.5 0.4l-0.5 -0.2l-0.5 0l-0.5 -0.1l-0.5 0.5l-0.5 0.4l-0.5 -0.2l-0.5 0.3l-0.5 0.7l-0.5 -0.1l-0.5 0l-0.5 -3.1l-0.5 4.1l-0.5 0.1l-0.5 -0.8l-0.5 -0.4l-0.5 -0.5l-0.5 0l-0.5 0.2l-0.5 -0.6l-0.5 0.3l-0.5 0.5l-0.5 -0.5l-0.5 0.7l-0.5 0.6l-0.5 -0.6l-0.5 -0.2l-0.5 -0.8l-0.5 0.8l-0.5 0l-0.5 -1.2l-0.5 0.1l-0.5 0.1l-0.5 0l-0.5 -0.2l-0.5 0l-0.5 -0.3l-0.5 0.6l-0.5 -0.9l-0.5 0.2l-0.5 -0.4l-0.5 0.8l-0.5 0.4l-0.5 0.3l-0.5 -0.9l-0.5 1.8l-0.5 -4.2l-0.5 1.4ZM475.25 76.1l0.25 0l0.5 -6.5l0.5 6.7l0.5 0.1l0.5 -2.4l0.5 2.3l0.5 0.1l0.5 0.1l0.5 -0.2l0.5 -0.5l0.5 1.1l0.5 -0.4l0.5 0.2l0.5 -0.3l0.5 -0.3l0.5 0.3l0.5 0.4l0.5 1.4l0.5 -1.5l0.5 -0.3l0.5 0l0.5 1l0.5 0.1l0.5 -0.7l0.5 0.1l0.5 0.5l0.5 -1.2l0.5 0.2l0.5 -0.1l0.5 0.9l0.5 -0.4l0.5 0.3l0.5 0.4l0.5 -0.2l0.5 -4.6l0.5 5.2l0.5 0l0.5 0.1l0.5 -0.8l0.5 -0.4l0.5 0l0.5 0.1l0.5 1.8l0.5 0.5l0.5 -0.1l0.5 -2.1l0.5 0.2l0.5 -0.3l0.5 0.5l0.5 1.2l0.5 0l0.5 -0.2l0.5 0l0.5 -0.6l0.5 1.2l0.5 -0.1l0.5 0.5l0.5 -0.1l0.5 -1.1l0.5 -0.7l0.5 0l0.5 0.1l0.5 -9.9l0.5 11.3l0.5 -0.5l0.5 -0.2l0.5 0.6l0.5 -3.7l0.5 5.4l0.5 0.1l0.5 -1.5l0.5 0.1l0.5 0.1l0.5 0.3l0.5 0.1l0.5 -0.5l0.5 0.1l0.5 0l0.5 -0.7l0.5 2.7l0.5 -0.2l0.5 -0.5l0.5 0.1l0.5 -1.6l0.5 -0.6l0.25 0L517.75 83.8l-0.25 0l-0.5 0.8l-0.5 1.6l-0.5 -0.1l-0.5 0.5l-0.5 -0.4l-0.5 -2.7l-0.5 1l-0.5 -0.1l-0.5 0l-0.5 0.1l-0.5 -0.1l-0.5 -0.3l-0.5 -0.1l-0.5 -0.8l-0.5 1.6l-0.5 -0.1l-0.5 -5.4l-0.5 2.7l-0.5 1.3l-0.5 0.3l-0.5 -0.9l-0.5 -9.8l-0.5 9.9l-0.5 -0.1l-0.5 0.1l-0.5 0.6l-0.5 1.1l-0.5 -0.2l-0.5 -0.5l-0.5 0.1l-0.5 -1.2l-0.5 0.6l-0.5 0l-0.5 0.1l-0.5 0.6l-0.5 -1.4l-0.5 -0.4l-0.5 -0.5l-0.5 0.6l-0.5 2.1l-0.5 0.1l-0.5 -0.9l-0.5 -1.8l-0.5 0l-0.5 -0.1l-0.5 0.8l-0.5 0.8l-0.5 -0.1l-0.5 0l-0.5 -6.1l-0.5 4.5l-0.5 0.3l-0.5 0.5l-0.5 -0.3l-0.5 0l-0.5 -0.9l-0.5 0.1l-0.5 -0.2l-0.5 0.6l-0.5 -0.6l-0.5 0l-0.5 0.7l-0.5 0.8l-0.5 -1.1l-0.5 0l-0.5 0.3l-0.5 0.9l-0.5 -2.5l-0.5 0.9l-0.5 0.8l-0.5 0.3l-0.5 -0.6l-0.5 -0.1l-0.5 -1.3l-0.5 0.8l-0.5 0.4l-0.5 -0.7l-0.5 -0.1l-0.5 -0.1l-0.5 -2.3l-0.5 2.9l-0.5 -0.1l-0.5 -6.8l-0.5 6.6ZM557.75 76.1l0.25 0l0.5 0.3l0.5 -0.2l0.5 -0.1l0.5 0.3l0.5 0.1l0.5 -0.1l0.5 0.1l0.5 0l0.5 0.1l0.5 -0.5l0.5 -0.1l0.5 0.5l0.5 -0.3l0.5 0.2l0.5 -0.2l0.5 0.2l0.5 0.4l0.5 -0.6l0.5 0.1l0.5 0.2l0.5 0.2l0.5 -0.3l0.5 0.2l0.5 -0.4l0.5 -0.2l0.5 0.4l0.5 -0.1l0.25 0L571.75 79.7l-0.25 0l-0.5 -0.2l-0.5 -0.1l-0.5 -0.1l-0.5 0.7l-0.5 -0.3l-0.5 0.3l-0.5 0l-0.5 -0.4l-0.5 0l-0.5 0.5l-0.5 -0.3l-0.5 -0.4l-0.5 0.5l-0.5 -0.4l-0.5 0.2l-0.5 -0.6l-0.5 0.2l-0.5 0.7l-0.5 -0.2l-0.5 -0.1l-0.5 0.2l-0.5 -0.1l-0.5 -0.4l-0.5 -0.1l-0.5 0.3l-0.5 0l-0.5 -0.1Z"/>
<path fill="#5c4e15" d="M200.75 78.3l0.25 0l0.5 0.2l0.5 6.5l0.5 -7l0.5 0l0.5 -1.6l0.5 -9.2l0.5 10.3l0.5 -3l0.5 3.1l0.5 -2l0.5 0.8l0.5 -0.1l0.5 2.3l0.5 -4.1l0.5 4.4l0.5 0.2l0.5 -8l0.5 7.3l0.5 -0.7l0.5 0.1l0.5 0l0.5 -2.3l0.5 0.5l0.5 -0.1l0.5 -0.2l0.5 0.1l0.5 -1l0.5 3.5l0.5 -4.4l0.5 4l0.5 -0.6l0.5 -1l0.5 0.4l0.5 3.5l0.5 -2.5l0.5 0.5l0.5 -0.9l0.5 -0.1l0.5 -1.7l0.5 0.1l0.5 1.3l0.5 0l0.5 -0.8l0.5 1l0.5 0.2l0.5 0l0.5 -0.2l0.5 -0.1l0.5 1.4l0.5 1.6l0.5 -2.4l0.5 -0.5l0.5 0.7l0.5 5.2l0.5 -5.7l0.5 1.3l0.5 0l0.5 -0.7l0.5 -2.5l0.5 2.3l0.5 0.2l0.5 4.5l0.5 -5l0.5 0l0.5 -1l0.5 2.1l0.5 0l0.5 -0.6l0.5 -2.6l0.5 2.8l0.5 0l0.5 -2.5l0.5 -7.8l0.5 9.7l0.5 -0.5l0.5 -0.2l0.5 2.7l0.25 0L239.75 98.9l-0.25 0l-0.5 5l-0.5 0.3l-0.5 -1.7l-0.5 -7.2l-0.5 9.6l-0.5 2.7l-0.5 0.1l-0.5 -2.7l-0.5 -3.3l-0.5 0.8l-0.5 0l-0.5 2.4l-0.5 1.1l-0.5 0.1l-0.5 -6.4l-0.5 4.9l-0.5 -0.1l-0.5 -0.8l-0.5 2.6l-0.5 0.4l-0.5 0.1l-0.5 -1.2l-0.5 -8.5l-0.5 6.6l-0.5 -0.6l-0.5 0.6l-0.5 -3.8l-0.5 7.7l-0.5 -1.3l-0.5 -1.7l-0.5 0.7l-0.5 0.1l-0.5 -0.1l-0.5 1.5l-0.5 -1.3l-0.5 0.1l-0.5 2l-0.5 -0.1l-0.5 -1.7l-0.5 0.6l-0.5 1l-0.5 -0.4l-0.5 -3.2l-0.5 4.2l-0.5 -0.3l-0.5 -0.6l-0.5 0.7l-0.5 -2.1l-0.5 -2.8l-0.5 3.8l-0.5 1.1l-0.5 0.3l-0.5 0.3l-0.5 0l-0.5 -0.4l-0.5 -0.4l-0.5 0l-0.5 0l-0.5 0.8l-0.5 -5.3l-0.5 4.5l-0.5 -0.2l-0.5 -4.3l-0.5 4.1l-0.5 1.7l-0.5 0.1l-0.5 -0.7l-0.5 0.2l-0.5 3.6l-0.5 -3.7l-0.5 -10.2l-0.5 10.4l-0.5 1.6l-0.5 0.1l-0.5 -9.5l-0.5 9.2l-0.5 -0.1ZM280.25 73.3l0.25 0l0.5 -8.5l0.5 8.9l0.5 0.4l0.5 -0.4l0.5 0.6l0.5 0.7l0.5 -2.1l0.5 0l0.5 -0.5l0.5 0l0.5 1.2l0.5 0.9l0.5 -2.3l0.5 1.6l0.5 -0.1l0.5 -0.1l0.5 0.2l0.5 -0.8l0.5 1l0.5 -5.2l0.5 5l0.5 0.3l0.5 -1.5l0.5 0l0.5 8.5l0.5 -7.9l0.5 0l0.5 -7.6l0.5 6.9l0.5 2.3l0.5 -5.8l0.5 6l0.5 -0.7l0.5 0l0.5 -1.9l0.5 1.1l0.5 0.2l0.5 0l0.5 5.5l0.5 -4.8l0.5 0.1l0.5 -0.2l0.5 0.3l0.5 1.4l0.5 -0.5l0.5 -1.7l0.5 0.7l0.5 0l0.5 -0.5l0.5 -1.6l0.5 0.4l0.5 -4.7l0.5 5.4l0.5 -6.1l0.5 6.6l0.5 2.8l0.5 -1.4l0.5 -0.2l0.5 -0.2l0.5 0l0.5 0.2l0.5 0.1l0.5 -0.8l0.5 -0.3l0.5 0.1l0.5 -0.1l0.5 4l0.5 -3.1l0.5 -0.7l0.5 -0.9l0.5 -0.1l0.5 0l0.5 0l0.5 0.2l0.5 0l0.5 -0.1l0.5 -0.3l0.25 0L319.25 98.9l-0.25 0l-0.5 0.4l-0.5 0.2l-0.5 0.1l-0.5 0.2l-0.5 0.1l-0.5 0l-0.5 0.2l-0.5 1.1l-0.5 -0.8l-0.5 -3.3l-0.5 2.5l-0.5 0.2l-0.5 0l-0.5 -0.6l-0.5 1.2l-0.5 0l-0.5 -0.1l-0.5 0.5l-0.5 0.5l-0.5 0.4l-0.5 -2.3l-0.5 2.5l-0.5 -6.3l-0.5 6.7l-0.5 -1.3l-0.5 2.8l-0.5 -0.2l-0.5 1.9l-0.5 -0.6l-0.5 0.2l-0.5 -0.5l-0.5 1.9l-0.5 -0.5l-0.5 -1.2l-0.5 -1.3l-0.5 0.4l-0.5 0.8l-0.5 -6.2l-0.5 6l-0.5 2.3l-0.5 0l-0.5 3.3l-0.5 -2.2l-0.5 -2.8l-0.5 0.8l-0.5 -5.8l-0.5 5.9l-0.5 1.6l-0.5 -3.2l-0.5 4.1l-0.5 0.3l-0.5 -11.9l-0.5 13.1l-0.5 0.2l-0.5 -1.7l-0.5 -0.1l-0.5 -4.6l-0.5 5.3l-0.5 1.3l-0.5 0.3l-0.5 -0.1l-0.5 0.3l-0.5 0.3l-0.5 -2l-0.5 -1.2l-0.5 -0.7l-0.5 1.7l-0.5 0.1l-0.5 0.6l-0.5 0.3l-0.5 1.9l-0.5 -0.5l-0.5 -0.5l-0.5 0.5l-0.5 -1.4l-0.5 -8.8l-0.5 12.6ZM359.75 75.2l0.25 0l0.5 -0.7l0.5 0.1l0.5 -0.2l0.5 -0.7l0.5 0.4l0.5 2l0.5 0.9l0.5 -0.3l0.5 -0.8l0.5 -1.3l0.5 -0.1l0.5 -1.4l0.5 1.1l0.5 0l0.5 -0.3l0.5 0.8l0.5 -1.2l0.5 1.8l0.5 -2.2l0.5 0.6l0.5 0l0.5 0.1l0.5 0l0.5 -1.5l0.5 1.2l0.5 0.3l0.5 0.8l0.5 0.7l0.5 -0.8l0.5 -0.8l0.5 -0.1l0.5 1.1l0.5 0.5l0.5 0.4l0.5 0l0.5 -9l0.5 5.8l0.5 0.4l0.5 0l0.5 1.7l0.5 -7.4l0.5 6.4l0.5 0.1l0.5 0.7l0.5 0l0.5 0.7l0.5 -2.1l0.5 0.4l0.5 0.5l0.5 0l0.5 -0.2l0.5 0l0.5 0.4l0.5 -0.5l0.5 1.5l0.5 0l0.5 0.1l0.5 0l0.5 -0.7l0.5 -0.5l0.5 -1.5l0.5 2.9l0.5 0l0.5 -6.2l0.5 5.6l0.5 0l0.5 -0.7l0.5 0.4l0.5 0.1l0.5 -1l0.5 1.2l0.5 0l0.5 -0.1l0.5 0.6l0.5 0.2l0.25 0L397.75 95.8l-0.25 0l-0.5 -0.1l-0.5 -0.6l-0.5 -0.9l-0.5 0.1l-0.5 1.6l-0.5 1l-0.5 0l-0.5 -0.3l-0.5 0.1l-0.5 0l-0.5 -7.1l-0.5 6.3l-0.5 0.1l-0.5 -3l-0.5 2.4l-0.5 0.5l-0.5 0.1l-0.5 0.1l-0.5 -0.1l-0.5 0.1l-0.5 -1l-0.5 0.7l-0.5 0.6l-0.5 0.1l-0.5 0.3l-0.5 0l-0.5 0.2l-0.5 -0.3l-0.5 -0.1l-0.5 -0.6l-0.5 0l-0.5 1.4l-0.5 0l-0.5 -5.4l-0.5 8.4l-0.5 2.8l-0.5 0.3l-0.5 -0.2l-0.5 -5.5l-0.5 3.6l-0.5 0.3l-0.5 -0.2l-0.5 -0.3l-0.5 0.4l-0.5 0.3l-0.5 -0.3l-0.5 2.1l-0.5 -0.6l-0.5 2l-0.5 0l-0.5 -1.1l-0.5 -1l-0.5 0.2l-0.5 0l-0.5 1.1l-0.5 -0.3l-0.5 -2.7l-0.5 2l-0.5 1.2l-0.5 -0.6l-0.5 0.5l-0.5 0.2l-0.5 1.6l-0.5 -1.3l-0.5 0.4l-0.5 1.5l-0.5 -0.5l-0.5 0.5l-0.5 -0.7l-0.5 1.9l-0.5 -0.3l-0.5 -1.3l-0.5 0.4l-0.5 0.1l-0.5 1.2ZM439.25 73.2l0.25 0l0.5 0l0.5 0.6l0.5 0.5l0.5 0.1l0.5 0.9l0.5 -1.6l0.5 0l0.5 0.3l0.5 -0.6l0.5 2.3l0.5 -6.8l0.5 4.9l0.5 0.3l0.5 -0.9l0.5 1.5l0.5 0.3l0.5 -0.1l0.5 -1.1l0.5 0.1l0.5 -0.4l0.5 -0.3l0.5 0l0.5 1l0.5 -0.4l0.5 0.5l0.5 -1.4l0.5 1.3l0.5 0l0.5 4.5l0.5 -4.1l0.5 -2l0.5 0.5l0.5 0l0.5 -3.5l0.5 2.6l0.5 0.9l0.5 -0.2l0.5 0.5l0.5 6.4l0.5 -6.4l0.5 0l0.5 0.8l0.5 0l0.5 0.3l0.5 0l0.5 -0.9l0.5 -0.8l0.5 0.3l0.5 -0.5l0.5 0.4l0.5 5.8l0.5 -6l0.5 -0.3l0.5 0.2l0.5 0.1l0.5 0.3l0.5 0.3l0.5 0.2l0.5 -1l0.5 1.2l0.5 -0.3l0.5 0.2l0.5 -0.1l0.5 -0.8l0.5 0.3l0.5 -0.7l0.5 2.5l0.5 -2l0.5 -0.1l0.5 -0.1l0.5 -4.3l0.25 0L475.25 88.3l-0.25 0l-0.5 4.4l-0.5 0l-0.5 1.2l-0.5 -2.6l-0.5 2.1l-0.5 0.7l-0.5 -0.4l-0.5 0.8l-0.5 0.1l-0.5 -0.1l-0.5 0.4l-0.5 -1.1l-0.5 0.9l-0.5 1l-0.5 0l-0.5 -0.1l-0.5 -0.1l-0.5 -0.2l-0.5 1l-0.5 -7.6l-0.5 8l-0.5 -0.3l-0.5 -0.2l-0.5 -0.2l-0.5 0.9l-0.5 -0.3l-0.5 0l-0.5 -0.1l-0.5 0l-0.5 1.1l-0.5 0.1l-0.5 -7.8l-0.5 6.2l-0.5 -0.5l-0.5 0.3l-0.5 0.4l-0.5 -2.5l-0.5 3.6l-0.5 0.1l-0.5 0.7l-0.5 -1.4l-0.5 -5.2l-0.5 5l-0.5 0.1l-0.5 0.8l-0.5 -0.7l-0.5 -0.4l-0.5 0.5l-0.5 1.4l-0.5 0.1l-0.5 0.3l-0.5 -0.4l-0.5 0l-0.5 -1.3l-0.5 0.1l-0.5 -0.2l-0.5 1.9l-0.5 0.7l-0.5 -0.3l-0.5 -5.6l-0.5 6.9l-0.5 -0.1l-0.5 0.6l-0.5 -0.2l-0.5 0.1l-0.5 -0.8l-0.5 -0.9l-0.5 0l-0.5 -0.4l-0.5 0.8l-0.5 0.1ZM517.75 71.9l0.25 0l0.5 0.1l0.5 -0.9l0.5 1l0.5 -6.7l0.5 6.1l0.5 0.6l0.5 0.1l0.5 -1.9l0.5 2.4l0.5 0.9l0.5 -0.2l0.5 -3.6l0.5 3.2l0.5 -0.5l0.5 -0.3l0.5 -2.7l0.5 3.1l0.5 -0.1l0.5 -0.2l0.5 -5.4l0.5 5.1l0.5 -0.5l0.5 0l0.5 0.3l0.5 -0.2l0.5 -0.3l0.5 -0.7l0.5 -0.5l0.5 0.5l0.5 0l0.5 1.2l0.5 0.3l0.5 0l0.5 0.1l0.5 0.1l0.5 -0.4l0.5 -3.6l0.5 3.4l0.5 0.1l0.5 0.2l0.5 -0.3l0.5 0l0.5 -0.1l0.5 -0.7l0.5 0l0.5 0.1l0.5 1l0.5 -0.2l0.5 0l0.5 0.6l0.5 -0.8l0.5 0.1l0.5 5.1l0.5 -4.2l0.5 -1.3l0.5 0.7l0.5 0.5l0.5 -1.6l0.5 0l0.5 -0.4l0.5 1.7l0.5 -0.2l0.5 0.1l0.5 -0.4l0.5 0.5l0.5 0.5l0.5 -6.3l0.5 6.1l0.5 -1.6l0.5 -0.3l0.5 -0.1l0.5 -0.8l0.5 1.6l0.5 0l0.5 -0.3l0.5 -0.6l0.5 0l0.5 -0.4l0.5 0.7l0.25 0L557.75 91.5l-0.25 0l-0.5 -0.5l-0.5 0.6l-0.5 0.2l-0.5 -0.6l-0.5 0.5l-0.5 0.1l-0.5 2.3l-0.5 0.8l-0.5 0.3l-0.5 0.5l-0.5 -1.9l-0.5 -3.5l-0.5 3l-0.5 -1.5l-0.5 0.9l-0.5 0.5l-0.5 0.2l-0.5 0.3l-0.5 0.7l-0.5 0.6l-0.5 0.2l-0.5 -1.2l-0.5 -0.4l-0.5 1.6l-0.5 -0.9l-0.5 -4.9l-0.5 4.9l-0.5 0.2l-0.5 0.9l-0.5 -0.5l-0.5 0.1l-0.5 0.5l-0.5 2.1l-0.5 0.2l-0.5 0.2l-0.5 -1.3l-0.5 0.2l-0.5 0.1l-0.5 0.4l-0.5 -0.5l-0.5 0l-0.5 -3.3l-0.5 3.7l-0.5 -0.6l-0.5 0.1l-0.5 -0.1l-0.5 1.2l-0.5 1.1l-0.5 -0.1l-0.5 0.1l-0.5 -0.4l-0.5 -0.5l-0.5 -0.3l-0.5 0.4l-0.5 -0.4l-0.5 0.3l-0.5 0.1l-0.5 0.2l-0.5 -5l-0.5 5.4l-0.5 -0.2l-0.5 0.1l-0.5 -3l-0.5 2.8l-0.5 0.4l-0.5 1.5l-0.5 -3.1l-0.5 1.5l-0.5 0.3l-0.5 -0.8l-0.5 4.1l-0.5 -2.4l-0.5 -0.1l-0.5 0.9l-0.5 -6l-0.5 6.8l-0.5 -1l-0.5 1.4l-0.5 0Z"/>
<path fill="#1fef82" d="M200.75 42.7l0.25 0l0.5 -0.3l0.5 6.6l0.5 -7l0.5 0.1l0.5 1.1l0.5 12.6l0.5 -12.9l0.5 -2.9l0.5 3.1l0.5 -1.3l0.5 0.7l0.5 0.2l0.5 2.3l0.5 5.3l0.5 -6.8l0.5 0.4l0.5 6.9l0.5 -7.4l0.5 -1.4l0.5 0.1l0.5 0.2l0.5 0.2l0.5 0.6l0.5 0.1l0.5 0.3l0.5 0.2l0.5 -1l0.5 3.7l0.5 -3.7l0.5 1.1l0.5 -0.5l0.5 0l0.5 0.5l0.5 3.1l0.5 -2.4l0.5 0.6l0.5 -0.4l0.5 0.7l0.5 -1.4l0.5 0.2l0.5 1.3l0.5 0l0.5 -0.7l0.5 1.1l0.5 0.1l0.5 0.1l0.5 -0.2l0.5 0l0.5 -1.8l0.5 6l0.5 -2.3l0.5 -0.5l0.5 -0.7l0.5 5.3l0.5 -5.6l0.5 -1.5l0.5 0.1l0.5 -0.7l0.5 2.4l0.5 -0.9l0.5 0.3l0.5 3l0.5 -5l0.5 0.1l0.5 1.9l0.5 2.2l0.5 0.1l0.5 1.2l0.5 -2.6l0.5 -3.9l0.5 0.1l0.5 3.2l0.5 11.3l0.5 -9.8l0.5 -0.4l0.5 -0.1l0.5 4.1l0.25 0L239.75 79.5l-0.25 0l-0.5 -2.7l-0.5 0.2l-0.5 0.5l-0.5 -9.7l-0.5 7.8l-0.5 2.5l-0.5 0l-0.5 -2.8l-0.5 2.6l-0.5 0.6l-0.5 0l-0.5 -2.1l-0.5 1l-0.5 0l-0.5 5l-0.5 -4.5l-0.5 -0.2l-0.5 -2.3l-0.5 2.5l-0.5 0.7l-0.5 0l-0.5 -1.3l-0.5 5.7l-0.5 -5.2l-0.5 -0.7l-0.5 0.5l-0.5 2.4l-0.5 -1.6l-0.5 -1.4l-0.5 0.1l-0.5 0.2l-0.5 0l-0.5 -0.2l-0.5 -1l-0.5 0.8l-0.5 0l-0.5 -1.3l-0.5 -0.1l-0.5 1.7l-0.5 0.1l-0.5 0.9l-0.5 -0.5l-0.5 2.5l-0.5 -3.5l-0.5 -0.4l-0.5 1l-0.5 0.6l-0.5 -4l-0.5 4.4l-0.5 -3.5l-0.5 1l-0.5 -0.1l-0.5 0.2l-0.5 0.1l-0.5 -0.5l-0.5 2.3l-0.5 0l-0.5 -0.1l-0.5 0.7l-0.5 -7.3l-0.5 8l-0.5 -0.2l-0.5 -4.4l-0.5 4.1l-0.5 -2.3l-0.5 0.1l-0.5 -0.8l-0.5 2l-0.5 -3.1l-0.5 3l-0.5 -10.3l-0.5 9.2l-0.5 1.6l-0.5 0l-0.5 7l-0.5 -6.5l-0.5 -0.2ZM280.25 38.4l0.25 0l0.5 15l0.5 -11.5l0.5 -3.3l0.5 -0.3l0.5 0.6l0.5 0.8l0.5 2.4l0.5 0.1l0.5 0l0.5 0.2l0.5 1.3l0.5 0.2l0.5 -2.2l0.5 -2.1l0.5 1.4l0.5 0.1l0.5 0.4l0.5 -0.7l0.5 1.2l0.5 6.2l0.5 -6l0.5 0.4l0.5 -1.3l0.5 0.1l0.5 8.7l0.5 -7.8l0.5 0.2l0.5 6.3l0.5 -6.6l0.5 2.4l0.5 7.5l0.5 -6.6l0.5 -0.5l0.5 -2.7l0.5 -1.7l0.5 4.3l0.5 0.3l0.5 0.2l0.5 6.1l0.5 -4.7l0.5 0.2l0.5 -0.1l0.5 -1.5l0.5 -2.3l0.5 -0.4l0.5 2.4l0.5 -0.2l0.5 0.2l0.5 -0.4l0.5 0.8l0.5 0.5l0.5 4.2l0.5 -3.1l0.5 8.5l0.5 -8.2l0.5 1.8l0.5 -1.2l0.5 -0.1l0.5 0.2l0.5 0.2l0.5 0.3l0.5 0.3l0.5 1.2l0.5 -0.8l0.5 0.2l0.5 0.2l0.5 1.8l0.5 -2.9l0.5 -0.6l0.5 1.5l0.5 0.1l0.5 0l0.5 0.2l0.5 0.4l0.5 0.1l0.5 0.1l0.5 0l0.25 0L319.25 73.2l-0.25 0l-0.5 0.3l-0.5 0.1l-0.5 0l-0.5 -0.2l-0.5 0l-0.5 0l-0.5 0.1l-0.5 0.9l-0.5 0.7l-0.5 3.1l-0.5 -4l-0.5 0.1l-0.5 -0.1l-0.5 0.3l-0.5 0.8l-0.5 -0.1l-0.5 -0.2l-0.5 0l-0.5 0.2l-0.5 0.2l-0.5 1.4l-0.5 -2.8l-0.5 -6.6l-0.5 6.1l-0.5 -5.4l-0.5 4.7l-0.5 -0.4l-0.5 1.6l-0.5 0.5l-0.5 0l-0.5 -0.7l-0.5 1.7l-0.5 0.5l-0.5 -1.4l-0.5 -0.3l-0.5 0.2l-0.5 -0.1l-0.5 4.8l-0.5 -5.5l-0.5 0l-0.5 -0.2l-0.5 -1.1l-0.5 1.9l-0.5 0l-0.5 0.7l-0.5 -6l-0.5 5.8l-0.5 -2.3l-0.5 -6.9l-0.5 7.6l-0.5 0l-0.5 7.9l-0.5 -8.5l-0.5 0l-0.5 1.5l-0.5 -0.3l-0.5 -5l-0.5 5.2l-0.5 -1l-0.5 0.8l-0.5 -0.2l-0.5 0.1l-0.5 0.1l-0.5 -1.6l-0.5 2.3l-0.5 -0.9l-0.5 -1.2l-0.5 0l-0.5 0.5l-0.5 0l-0.5 2.1l-0.5 -0.7l-0.5 -0.6l-0.5 0.4l-0.5 -0.4l-0.5 -8.9l-0.5 8.5ZM359.75 42.2l0.25 0l0.5 1.2l0.5 0l0.5 0l0.5 -1.1l0.5 0.7l0.5 2.1l0.5 -0.9l0.5 0l0.5 -0.6l0.5 1.8l0.5 0.1l0.5 -0.5l0.5 1.3l0.5 0.2l0.5 0.6l0.5 -1.4l0.5 1.1l0.5 1.9l0.5 -2l0.5 -0.6l0.5 1l0.5 0.4l0.5 0.1l0.5 -1.3l0.5 -0.7l0.5 0.5l0.5 1l0.5 1l0.5 1.1l0.5 -0.6l0.5 0.2l0.5 1.4l0.5 0.7l0.5 -0.8l0.5 0.1l0.5 5.4l0.5 -7.1l0.5 -0.3l0.5 0.3l0.5 1.9l0.5 9.8l0.5 -7.5l0.5 0.1l0.5 1.2l0.5 0l0.5 -1.3l0.5 0.5l0.5 -0.4l0.5 0.5l0.5 0l0.5 -0.5l0.5 -0.1l0.5 0.5l0.5 0.7l0.5 -0.3l0.5 0l0.5 -0.1l0.5 0.1l0.5 -1.3l0.5 1.9l0.5 3.4l0.5 -3.8l0.5 0.2l0.5 7.9l0.5 -8.5l0.5 0l0.5 -0.5l0.5 0.3l0.5 0.1l0.5 0.6l0.5 1.2l0.5 -0.1l0.5 -0.7l0.5 -0.6l0.5 -0.2l0.25 0L397.75 75.4l-0.25 0l-0.5 -0.2l-0.5 -0.6l-0.5 0.1l-0.5 0l-0.5 -1.2l-0.5 1l-0.5 -0.1l-0.5 -0.4l-0.5 0.7l-0.5 0l-0.5 -5.6l-0.5 6.2l-0.5 0l-0.5 -2.9l-0.5 1.5l-0.5 0.5l-0.5 0.7l-0.5 0l-0.5 -0.1l-0.5 0l-0.5 -1.5l-0.5 0.5l-0.5 -0.4l-0.5 0l-0.5 0.2l-0.5 0l-0.5 -0.5l-0.5 -0.4l-0.5 2.1l-0.5 -0.7l-0.5 0l-0.5 -0.7l-0.5 -0.1l-0.5 -6.4l-0.5 7.4l-0.5 -1.7l-0.5 0l-0.5 -0.4l-0.5 -5.8l-0.5 9l-0.5 0l-0.5 -0.4l-0.5 -0.5l-0.5 -1.1l-0.5 0.1l-0.5 0.8l-0.5 0.8l-0.5 -0.7l-0.5 -0.8l-0.5 -0.3l-0.5 -1.2l-0.5 1.5l-0.5 0l-0.5 -0.1l-0.5 0l-0.5 -0.6l-0.5 2.2l-0.5 -1.8l-0.5 1.2l-0.5 -0.8l-0.5 0.3l-0.5 0l-0.5 -1.1l-0.5 1.4l-0.5 0.1l-0.5 1.3l-0.5 0.8l-0.5 0.3l-0.5 -0.9l-0.5 -2l-0.5 -0.4l-0.5 0.7l-0.5 0.2l-0.5 -0.1l-0.5 0.7ZM439.25 49.9l0.25 0l0.5 0.1l0.5 0.7l0.5 -0.5l0.5 0.1l0.5 -1.1l0.5 -0.5l0.5 0l0.5 0.4l0.5 0.5l0.5 -0.8l0.5 8.8l0.5 -8.1l0.5 0.5l0.5 1l0.5 1.5l0.5 -0.3l0.5 0.1l0.5 -1.2l0.5 0.2l0.5 -0.3l0.5 0.4l0.5 0l0.5 1.1l0.5 -1.1l0.5 1.1l0.5 -0.4l0.5 1.4l0.5 0.1l0.5 3.7l0.5 -4l0.5 -1.4l0.5 0.6l0.5 0.1l0.5 4.7l0.5 -4.7l0.5 1l0.5 -0.2l0.5 0.7l0.5 4.1l0.5 -6.3l0.5 0.1l0.5 0.9l0.5 -0.2l0.5 0.4l0.5 0.1l0.5 0.1l0.5 1l0.5 -0.9l0.5 -0.4l0.5 -0.1l0.5 6.4l0.5 -5.9l0.5 1l0.5 -0.5l0.5 0.2l0.5 0.3l0.5 -0.2l0.5 0.2l0.5 1.3l0.5 -1.4l0.5 0.4l0.5 -0.2l0.5 0l0.5 1.4l0.5 -0.6l0.5 -0.6l0.5 2.6l0.5 -1.9l0.5 1.2l0.5 0l0.5 5.4l0.25 0L475.25 68.4l-0.25 0l-0.5 4.3l-0.5 0.1l-0.5 0.1l-0.5 2l-0.5 -2.5l-0.5 0.7l-0.5 -0.3l-0.5 0.8l-0.5 0.1l-0.5 -0.2l-0.5 0.3l-0.5 -1.2l-0.5 1l-0.5 -0.2l-0.5 -0.3l-0.5 -0.3l-0.5 -0.1l-0.5 -0.2l-0.5 0.3l-0.5 6l-0.5 -5.8l-0.5 -0.4l-0.5 0.5l-0.5 -0.3l-0.5 0.8l-0.5 0.9l-0.5 0l-0.5 -0.3l-0.5 0l-0.5 -0.8l-0.5 0l-0.5 6.4l-0.5 -6.4l-0.5 -0.5l-0.5 0.2l-0.5 -0.9l-0.5 -2.6l-0.5 3.5l-0.5 0l-0.5 -0.5l-0.5 2l-0.5 4.1l-0.5 -4.5l-0.5 0l-0.5 -1.3l-0.5 1.4l-0.5 -0.5l-0.5 0.4l-0.5 -1l-0.5 0l-0.5 0.3l-0.5 0.4l-0.5 -0.1l-0.5 1.1l-0.5 0.1l-0.5 -0.3l-0.5 -1.5l-0.5 0.9l-0.5 -0.3l-0.5 -4.9l-0.5 6.8l-0.5 -2.3l-0.5 0.6l-0.5 -0.3l-0.5 0l-0.5 1.6l-0.5 -0.9l-0.5 -0.1l-0.5 -0.5l-0.5 -0.6l-0.5 0ZM517.75 48.8l0.25 0l0.5 0.2l0.5 1.9l0.5 -1.2l0.5 8.1l0.5 -8l0.5 0.6l0.5 0.2l0.5 -1.8l0.5 2.5l0.5 1l0.5 -0.1l0.5 1.8l0.5 -4l0.5 0.8l0.5 0.6l0.5 3.5l0.5 -4l0.5 0.1l0.5 -0.2l0.5 6.8l0.5 -6.5l0.5 1.2l0.5 0l0.5 0.4l0.5 -0.1l0.5 0.5l0.5 -0.6l0.5 -0.4l0.5 -0.7l0.5 0.1l0.5 0.3l0.5 0.3l0.5 1l0.5 0.1l0.5 -0.9l0.5 0.6l0.5 4.7l0.5 -4.8l0.5 0.2l0.5 -0.2l0.5 -0.3l0.5 0.1l0.5 0.5l0.5 -0.6l0.5 0.2l0.5 0.2l0.5 1.8l0.5 -0.1l0.5 0.1l0.5 -0.6l0.5 1.2l0.5 0.2l0.5 4.2l0.5 -3.9l0.5 -0.4l0.5 0.8l0.5 0.1l0.5 -0.8l0.5 0.2l0.5 -0.2l0.5 0.2l0.5 0.4l0.5 0.2l0.5 0.5l0.5 0.7l0.5 -0.5l0.5 4.1l0.5 -4l0.5 -1.4l0.5 -0.1l0.5 0l0.5 0.5l0.5 1.8l0.5 0.1l0.5 1l0.5 -0.5l0.5 0.2l0.5 -0.2l0.5 0.3l0.25 0L557.75 70.7l-0.25 0l-0.5 -0.7l-0.5 0.4l-0.5 0l-0.5 0.6l-0.5 0.3l-0.5 0l-0.5 -1.6l-0.5 0.8l-0.5 0.1l-0.5 0.3l-0.5 1.6l-0.5 -6.1l-0.5 6.3l-0.5 -0.5l-0.5 -0.5l-0.5 0.4l-0.5 -0.1l-0.5 0.2l-0.5 -1.7l-0.5 0.4l-0.5 0l-0.5 1.6l-0.5 -0.5l-0.5 -0.7l-0.5 1.3l-0.5 4.2l-0.5 -5.1l-0.5 -0.1l-0.5 0.8l-0.5 -0.6l-0.5 0l-0.5 0.2l-0.5 -1l-0.5 -0.1l-0.5 0l-0.5 0.7l-0.5 0.1l-0.5 0l-0.5 0.3l-0.5 -0.2l-0.5 -0.1l-0.5 -3.4l-0.5 3.6l-0.5 0.4l-0.5 -0.1l-0.5 -0.1l-0.5 0l-0.5 -0.3l-0.5 -1.2l-0.5 0l-0.5 -0.5l-0.5 0.5l-0.5 0.7l-0.5 0.3l-0.5 0.2l-0.5 -0.3l-0.5 0l-0.5 0.5l-0.5 -5.1l-0.5 5.4l-0.5 0.2l-0.5 0.1l-0.5 -3.1l-0.5 2.7l-0.5 0.3l-0.5 0.5l-0.5 -3.2l-0.5 3.6l-0.5 0.2l-0.5 -0.9l-0.5 -2.4l-0.5 1.9l-0.5 -0.1l-0.5 -0.6l-0.5 -6.1l-0.5 6.7l-0.5 -1l-0.5 0.9l-0.5 -0.1Z"/>
<path fill="#a00508" d="M101.25 14.8l0.25 0l0.5 -3.5l0.5 3.6l0.5 0.1l0.5 0.7l0.5 1.6l0.5 0.4l0.5 -4.2l0.5 0l0.5 0.1l0.5 -1.7l0.5 4.9l0.5 0.8l0.5 0l0.5 0.6l0.5 -7.5l0.5 -0.7l0.5 0.6l0.5 2.8l0.5 0.8l0.5 0.1l0.5 0.1l0.5 -2.3l0.5 0.1l0.5 -1.8l0.5 0.6l0.5 36.1l0.5 -37.4l0.5 2l0.5 0.1l0.5 0.1l0.5 0.1l0.5 -2.4l0.5 6.6l0.5 0l0.5 -3.3l0.5 0.1l0.5 -1.3l0.5 2.1l0.5 4l0.5 2.3l0.5 -1.2l0.5 -0.4l0.5 2.6l0.5 -5.8l0.5 4.5l0.5 0.4l0.5 -0.2l0.5 0l0.5 35.4l0.5 -43l0.5 30.3l0.5 -25.1l0.5 -0.8l0.5 -1.2l0.5 0.4l0.5 2.8l0.5 -3.2l0.5 4.6l0.5 0.1l0.5 0l0.5 1.4l0.5 39.1l0.5 -38.8l0.5 -5l0.5 0l0.5 0.1l0.5 3.2l0.5 -7.5l0.5 -1.5l0.5 6.9l0.5 0.1l0.5 0.2l0.5 0.1l0.5 31.9l0.5 -33.6l0.5 3.7l0.5 0l0.5 -0.3l0.5 2.9l0.5 -1.1l0.5 -3l0.5 0.4l0.5 -1l0.5 3.4l0.5 0l0.5 2l0.5 -1.5l0.5 0.4l0.5 1.3l0.5 -0.2l0.5 0.1l0.5 -2.8l0.5 1.5l0.5 10.4l0.5 -17.9l0.5 24.5l0.5 -2.3l0.5 -13.2l0.5 -0.3l0.5 12.4l0.5 -12l0.5 -0.2l0.5 -2l0.5 -0.3l0.5 0.3l0.5 -0.1l0.5 0.1l0.5 0.2l0.5 0.7l0.5 0l0.5 -0.8l0.5 -1.3l0.5 -1.4l0.5 0l0.5 26.5l0.5 -23.9l0.5 -0.4l0.5 -2.2l0.5 33.4l0.5 -30.4l0.5 2.4l0.5 0.2l0.5 0.5l0.5 0.2l0.5 0.1l0.5 3.8l0.5 -0.8l0.5 -0.1l0.5 27.7l0.5 -29.4l0.5 -4.4l0.5 -0.1l0.5 9.4l0.5 0.2l0.5 -0.3l0.5 -8.2l0.5 -0.8l0.5 3.2l0.5 3.9l0.5 -0.6l0.5 0.2l0.5 13.7l0.5 -14.4l0.5 -0.5l0.5 16.5l0.5 -17l0.5 5.1l0.5 0.1l0.5 0.8l0.5 14.7l0.5 -17.4l0.5 0.1l0.5 -0.4l0.5 -0.9l0.5 -2.2l0.5 -0.5l0.5 -0.7l0.5 0l0.5 4.9l0.5 -2.5l0.5 0.3l0.5 -1.5l0.5 -0.7l0.5 1.5l0.5 32l0.5 -30.4l0.5 21.1l0.5 -21.4l0.5 -1.8l0.5 -4l0.5 0.5l0.5 1.3l0.5 3.4l0.5 -0.1l0.5 -4.4l0.5 -0.9l0.5 3.2l0.5 16l0.5 -10l0.5 -0.5l0.5 0.2l0.5 14l0.5 -3.3l0.5 -11.2l0.5 -1.8l0.5 0.3l0.5 0l0.5 -1.4l0.5 -0.2l0.5 -0.7l0.5 -2.2l0.5 0.8l0.5 0.5l0.5 3.2l0.5 -7l0.5 -0.7l0.5 0.3l0.5 2l0.25 0L200.75 82.1l-0.25 0l-0.5 -0.4l-0.5 -0.2l-0.5 0.7l-0.5 -3.2l-0.5 2.1l-0.5 -0.5l-0.5 -0.8l-0.5 -1l-0.5 0.7l-0.5 0.3l-0.5 -0.6l-0.5 0l-0.5 0.2l-0.5 -0.3l-0.5 -5.1l-0.5 -2.2l-0.5 6.4l-0.5 -0.1l-0.5 0.6l-0.5 -3l-0.5 4.9l-0.5 1.5l-0.5 0.8l-0.5 -3.5l-0.5 0.2l-0.5 3.4l-0.5 -1.2l-0.5 -0.5l-0.5 -1.8l-0.5 0.8l-0.5 -9.7l-0.5 9.2l-0.5 -13.9l-0.5 13.1l-0.5 0.7l-0.5 0.6l-0.5 -1.5l-0.5 0.3l-0.5 0.2l-0.5 1.5l-0.5 0l-0.5 0.7l-0.5 0.5l-0.5 -2.6l-0.5 -1l-0.5 0.4l-0.5 0l-0.5 -7.9l-0.5 6.8l-0.5 -0.8l-0.5 0l-0.5 1.3l-0.5 -7l-0.5 7.5l-0.5 0.6l-0.5 -8l-0.5 6.6l-0.5 -0.3l-0.5 0.7l-0.5 1.3l-0.5 1.5l-0.5 0.9l-0.5 -3.9l-0.5 0.3l-0.5 -0.1l-0.5 4.2l-0.5 0.1l-0.5 -2.9l-0.5 -13.6l-0.5 12.4l-0.5 0.1l-0.5 0.8l-0.5 1.7l-0.5 -0.1l-0.5 -0.1l-0.5 -0.6l-0.5 0.1l-0.5 0.8l-0.5 -13.4l-0.5 13l-0.5 -0.9l-0.5 0.4l-0.5 -10.8l-0.5 11.2l-0.5 0l-0.5 -1.3l-0.5 -0.6l-0.5 1.9l-0.5 0l-0.5 -0.6l-0.5 0.1l-0.5 0l-0.5 0.1l-0.5 -0.2l-0.5 -0.1l-0.5 -0.6l-0.5 0.2l-0.5 -5.4l-0.5 5.1l-0.5 0.2l-0.5 -6.4l-0.5 -1.1l-0.5 10.7l-0.5 -7.2l-0.5 10.1l-0.5 -4.2l-0.5 -0.5l-0.5 0l-0.5 0.1l-0.5 -1.2l-0.5 0.5l-0.5 1.5l-0.5 -2l-0.5 0l-0.5 2.1l-0.5 1l-0.5 -0.3l-0.5 -1.4l-0.5 -1.4l-0.5 1.3l-0.5 0.3l-0.5 0l-0.5 7.6l-0.5 -13.4l-0.5 13.3l-0.5 0l-0.5 -0.1l-0.5 0l-0.5 3.2l-0.5 1.6l-0.5 -1.9l-0.5 -3.1l-0.5 0.1l-0.5 0l-0.5 -0.2l-0.5 -17.6l-0.5 17.7l-0.5 0.4l-0.5 0l-0.5 0l-0.5 0.7l-0.5 3.2l-0.5 -3.4l-0.5 0.2l-0.5 1.3l-0.5 0.9l-0.5 -13.8l-0.5 13.7l-0.5 -19.8l-0.5 16.1l-0.5 0l-0.5 0.3l-0.5 -0.3l-0.5 2.1l-0.5 1.1l-0.5 -2.6l-0.5 0.6l-0.5 -1.3l-0.5 -2.2l-0.5 1.8l-0.5 4.2l-0.5 1.4l-0.5 0l-0.5 -3l-0.5 0.1l-0.5 3l-0.5 -2l-0.5 0.1l-0.5 0l-0.5 0.1l-0.5 1.1l-0.5 -17.1l-0.5 18.7l-0.5 -0.5l-0.5 -0.9l-0.5 0.1l-0.5 -1.1l-0.5 -1.2l-0.5 0l-0.5 4.4l-0.5 -2.7l-0.5 -0.5l-0.5 0.9l-0.5 -3.4l-0.5 -0.5l-0.5 0l-0.5 0.4l-0.5 2.2l-0.5 0.8l-0.5 0.1l-0.5 0l-0.5 -1.9l-0.5 -0.2l-0.5 3.5l-0.5 -2.4l-0.5 0l-0.5 1.7l-0.5 -1.6ZM239.75 43.0l0.25 0l0.5 -4.3l0.5 0.2l0.5 2l0.5 13.8l0.5 -14.5l0.5 0.4l0.5 -0.7l0.5 -2.5l0.5 3.9l0.5 20.9l0.5 -24.9l0.5 15.2l0.5 0l0.5 -14.4l0.5 -0.3l0.5 8.5l0.5 -4.5l0.5 12.5l0.5 -14.3l0.5 1.7l0.5 -0.1l0.5 0.3l0.5 -0.4l0.5 -0.4l0.5 0l0.5 -0.5l0.5 0.2l0.5 -3.4l0.5 -0.1l0.5 0.1l0.5 -0.1l0.5 2.6l0.5 -6.3l0.5 -1.1l0.5 0.6l0.5 3.2l0.5 -0.4l0.5 -4.1l0.5 -0.8l0.5 -0.3l0.5 0l0.5 -0.6l0.5 -0.1l0.5 12.2l0.5 -11.8l0.5 2.4l0.5 -0.1l0.5 -0.1l0.5 -0.1l0.5 27l0.5 -27.2l0.5 -0.4l0.5 0.1l0.5 -0.3l0.5 2l0.5 0.2l0.5 -0.5l0.5 24.1l0.5 -26l0.5 -1.7l0.5 4.6l0.5 0.6l0.5 -1.6l0.5 1.9l0.5 0.3l0.5 -3.4l0.5 1.1l0.5 -0.1l0.5 22.7l0.5 -24.8l0.5 11.2l0.5 -10.7l0.5 0l0.5 0.6l0.5 -0.2l0.5 -0.5l0.5 -3.5l0.5 0.3l0.5 0.1l0.5 3.2l0.25 0L280.25 79.0l-0.25 0l-0.5 0.8l-0.5 0l-0.5 -0.4l-0.5 -1.5l-0.5 0.4l-0.5 0.1l-0.5 0.6l-0.5 0l-0.5 -5l-0.5 4.4l-0.5 -11.4l-0.5 10.6l-0.5 0.2l-0.5 1.4l-0.5 -1.3l-0.5 -0.4l-0.5 0.6l-0.5 -0.9l-0.5 -0.6l-0.5 2.2l-0.5 -0.8l-0.5 -10.8l-0.5 11l-0.5 0.3l-0.5 -0.3l-0.5 0.4l-0.5 -0.1l-0.5 -0.1l-0.5 -0.2l-0.5 -12.7l-0.5 12.2l-0.5 0l-0.5 0.2l-0.5 0l-0.5 1.7l-0.5 -6.5l-0.5 6l-0.5 -0.1l-0.5 -0.2l-0.5 -0.1l-0.5 0.3l-0.5 0.8l-0.5 -2.6l-0.5 0.4l-0.5 1.1l-0.5 -0.7l-0.5 -0.1l-0.5 0.3l-0.5 1.3l-0.5 0l-0.5 -0.1l-0.5 0l-0.5 -1.6l-0.5 -0.3l-0.5 -0.2l-0.5 0l-0.5 0.3l-0.5 -0.4l-0.5 0.2l-0.5 0.1l-0.5 0.6l-0.5 -6.9l-0.5 6.1l-0.5 -2.1l-0.5 3.9l-0.5 0.2l-0.5 -7.1l-0.5 -0.1l-0.5 7l-0.5 -11l-0.5 9.5l-0.5 1.7l-0.5 -0.9l-0.5 0.6l-0.5 -0.4l-0.5 -5.6l-0.5 4.9l-0.5 1.3l-0.5 -0.3l-0.5 -1.4ZM319.25 41.7l0.25 0l0.5 2.1l0.5 0.4l0.5 0.3l0.5 -0.2l0.5 2l0.5 -1.1l0.5 15.9l0.5 -16.3l0.5 0.1l0.5 2.2l0.5 -1.6l0.5 0l0.5 -1.4l0.5 0.8l0.5 -0.2l0.5 1.8l0.5 -0.3l0.5 -0.7l0.5 0l0.5 -1l0.5 1l0.5 -1l0.5 -0.3l0.5 2.1l0.5 -0.4l0.5 10.1l0.5 -12l0.5 -0.2l0.5 0l0.5 -2.4l0.5 1.1l0.5 17.8l0.5 -15.7l0.5 -1l0.5 -0.1l0.5 1.6l0.5 -1.8l0.5 0.8l0.5 0l0.5 -0.1l0.5 0l0.5 0.9l0.5 -3.4l0.5 0l0.5 0l0.5 0.1l0.5 1.5l0.5 -3.4l0.5 -0.4l0.5 -0.3l0.5 1.9l0.5 -0.1l0.5 -0.6l0.5 1l0.5 -0.2l0.5 -0.1l0.5 -0.2l0.5 -0.2l0.5 0.3l0.5 -0.1l0.5 -0.4l0.5 16.2l0.5 -17.2l0.5 1.1l0.5 -0.1l0.5 20.8l0.5 -21.8l0.5 -0.3l0.5 -0.1l0.5 -0.1l0.5 0l0.5 -0.2l0.5 0l0.5 0.4l0.5 -0.2l0.5 -0.3l0.5 -2.8l0.5 -2.5l0.5 2l0.5 -1.7l0.25 0L359.75 78.7l-0.25 0l-0.5 -0.6l-0.5 0.7l-0.5 -0.6l-0.5 -1.3l-0.5 0.2l-0.5 -0.1l-0.5 -0.6l-0.5 1l-0.5 0l-0.5 -0.1l-0.5 0.1l-0.5 -0.1l-0.5 0l-0.5 -10.2l-0.5 9.5l-0.5 -0.1l-0.5 0.5l-0.5 -8.2l-0.5 7.4l-0.5 0.2l-0.5 -0.1l-0.5 -0.5l-0.5 0l-0.5 -0.1l-0.5 0l-0.5 1.5l-0.5 -1.2l-0.5 0.5l-0.5 -0.1l-0.5 0.9l-0.5 0.1l-0.5 0.1l-0.5 -1.5l-0.5 -0.3l-0.5 -0.3l-0.5 -0.1l-0.5 0l-0.5 3.2l-0.5 -1l-0.5 0l-0.5 0l-0.5 0l-0.5 -0.2l-0.5 0.2l-0.5 -0.3l-0.5 0l-0.5 -0.5l-0.5 -6.9l-0.5 8.1l-0.5 1.3l-0.5 -1.7l-0.5 0l-0.5 0.1l-0.5 -5.5l-0.5 4.3l-0.5 0.3l-0.5 0.8l-0.5 0.1l-0.5 0.6l-0.5 -1.1l-0.5 -0.3l-0.5 -0.1l-0.5 0.7l-0.5 -0.9l-0.5 0.9l-0.5 0.1l-0.5 -0.1l-0.5 -1.3l-0.5 -0.1l-0.5 0.1l-0.5 1.1l-0.5 -0.2l-0.5 -7.9l-0.5 6.1l-0.5 1l-0.5 -0.5l-0.5 -0.1l-0.5 1.8l-0.5 -0.5l-0.5 0.7ZM397.75 50.1l0.25 0l0.5 5.2l0.5 -9.3l0.5 4l0.5 -2.6l0.5 -1l0.5 0.2l0.5 1.6l0.5 0.4l0.5 -0.3l0.5 0.6l0.5 -0.7l0.5 0.5l0.5 -0.1l0.5 -1.2l0.5 0l0.5 -0.1l0.5 0.2l0.5 -1l0.5 0l0.5 1.8l0.5 -2l0.5 0.1l0.5 -1.9l0.5 2l0.5 1.3l0.5 -1.8l0.5 0.7l0.5 -0.3l0.5 0.1l0.5 1l0.5 -0.1l0.5 -1.2l0.5 -1.2l0.5 -0.7l0.5 -0.1l0.5 8.4l0.5 -7.4l0.5 -0.1l0.5 0.5l0.5 1.2l0.5 -0.1l0.5 0l0.5 -0.5l0.5 0.9l0.5 -0.5l0.5 0l0.5 0.4l0.5 -1.4l0.5 -0.9l0.5 0.1l0.5 1.2l0.5 0l0.5 -1.4l0.5 0.5l0.5 -0.2l0.5 11.1l0.5 2.3l0.5 -11.8l0.5 -0.3l0.5 0.4l0.5 0.3l0.5 0.1l0.5 -1.3l0.5 -0.1l0.5 -0.9l0.5 -1.1l0.5 1.7l0.5 18.2l0.5 -18.1l0.5 2.1l0.5 -1l0.5 12.1l0.5 -14.2l0.5 2l0.5 -0.3l0.5 0.2l0.5 13.6l0.5 -15.5l0.5 2.9l0.5 -2l0.5 -0.1l0.5 14.7l0.25 0L439.25 70.0l-0.25 0l-0.5 6.3l-0.5 0.1l-0.5 -1.1l-0.5 1.3l-0.5 -7.1l-0.5 6.2l-0.5 -0.2l-0.5 0.3l-0.5 0.8l-0.5 -6.2l-0.5 5.6l-0.5 -0.9l-0.5 1.1l-0.5 -8.2l-0.5 8.1l-0.5 0.6l-0.5 -0.5l-0.5 0.9l-0.5 -0.1l-0.5 -0.6l-0.5 0.1l-0.5 -0.4l-0.5 0.3l-0.5 0.2l-0.5 -5.5l-0.5 0.9l-0.5 5.2l-0.5 0.2l-0.5 -0.6l-0.5 -1l-0.5 -0.1l-0.5 0.8l-0.5 -0.2l-0.5 0.9l-0.5 -1.7l-0.5 -0.6l-0.5 0l-0.5 0.5l-0.5 0.3l-0.5 0.4l-0.5 0.1l-0.5 0l-0.5 0.6l-0.5 -0.6l-0.5 0l-0.5 -2.1l-0.5 2.7l-0.5 0.1l-0.5 0.6l-0.5 -0.5l-0.5 -1.2l-0.5 0l-0.5 0.2l-0.5 -0.1l-0.5 0.3l-0.5 0l-0.5 -0.4l-0.5 0.6l-0.5 1.1l-0.5 -0.6l-0.5 -0.2l-0.5 -1l-0.5 0.8l-0.5 -0.1l-0.5 -0.5l-0.5 0.1l-0.5 0l-0.5 0.1l-0.5 -1.2l-0.5 0l-0.5 0.6l-0.5 0.6l-0.5 -0.3l-0.5 0.2l-0.5 -0.4l-0.5 0.8l-0.5 -0.2l-0.5 0.4l-0.5 -1l-0.5 1.5l-0.5 -4.2l-0.5 3.5ZM475.25 52.8l0.25 0l0.5 14.4l0.5 -15.4l0.5 0l0.5 5.4l0.5 -5.2l0.5 -0.1l0.5 0l0.5 -0.4l0.5 0.8l0.5 -0.6l0.5 -0.5l0.5 0.1l0.5 -0.4l0.5 0.3l0.5 0.2l0.5 0.3l0.5 0.2l0.5 -1.7l0.5 1.3l0.5 -0.1l0.5 -2.5l0.5 0l0.5 2l0.5 0l0.5 -1.2l0.5 2.1l0.5 0.1l0.5 -0.2l0.5 -1.3l0.5 -0.8l0.5 -0.1l0.5 0l0.5 0.3l0.5 8.7l0.5 -12.2l0.5 -0.4l0.5 -0.3l0.5 1.6l0.5 0.2l0.5 -0.4l0.5 -0.3l0.5 -4.2l0.5 0.1l0.5 -0.6l0.5 4.4l0.5 -0.1l0.5 -0.7l0.5 -0.8l0.5 -3.1l0.5 -0.4l0.5 0l0.5 -0.3l0.5 1.4l0.5 -2.7l0.5 -0.4l0.5 -0.5l0.5 -0.3l0.5 2.2l0.5 1.4l0.5 -0.3l0.5 -0.2l0.5 21.9l0.5 -23.7l0.5 -0.8l0.5 0.8l0.5 0.7l0.5 7.3l0.5 -11.8l0.5 -0.2l0.5 3.6l0.5 -1.5l0.5 0l0.5 -0.8l0.5 0.1l0.5 1.2l0.5 0l0.5 0.1l0.5 3.2l0.5 -5.6l0.5 -0.2l0.5 -0.5l0.5 0l0.5 3.5l0.5 1.7l0.25 0L517.75 78.6l-0.25 0l-0.5 0.6l-0.5 1.6l-0.5 -0.1l-0.5 0.5l-0.5 0.2l-0.5 -2.7l-0.5 0.7l-0.5 0l-0.5 -0.1l-0.5 0.5l-0.5 -0.1l-0.5 -0.3l-0.5 -0.1l-0.5 -0.1l-0.5 1.5l-0.5 -0.1l-0.5 -5.4l-0.5 3.7l-0.5 -0.6l-0.5 0.2l-0.5 0.5l-0.5 -11.3l-0.5 9.9l-0.5 -0.1l-0.5 0l-0.5 0.7l-0.5 1.1l-0.5 0.1l-0.5 -0.5l-0.5 0.1l-0.5 -1.2l-0.5 0.6l-0.5 0l-0.5 0.2l-0.5 0l-0.5 -1.2l-0.5 -0.5l-0.5 0.3l-0.5 -0.2l-0.5 2.1l-0.5 0.1l-0.5 -0.5l-0.5 -1.8l-0.5 -0.1l-0.5 0l-0.5 0.4l-0.5 0.8l-0.5 -0.1l-0.5 0l-0.5 -5.2l-0.5 4.6l-0.5 0.2l-0.5 -0.4l-0.5 -0.3l-0.5 0.4l-0.5 -0.9l-0.5 0.1l-0.5 -0.2l-0.5 1.2l-0.5 -0.5l-0.5 -0.1l-0.5 0.7l-0.5 -0.1l-0.5 -1l-0.5 0l-0.5 0.3l-0.5 1.5l-0.5 -1.4l-0.5 -0.4l-0.5 -0.3l-0.5 0.3l-0.5 0.3l-0.5 -0.2l-0.5 0.4l-0.5 -1.1l-0.5 0.5l-0.5 0.2l-0.5 -0.1l-0.5 -0.1l-0.5 -2.3l-0.5 2.4l-0.5 -0.1l-0.5 -6.7l-0.5 6.5ZM557.75 53.7l0.25 0l0.5 -0.4l0.5 0.4l0.5 0.3l0.5 -0.3l0.5 -0.4l0.5 0.1l0.5 0.3l0.5 -0.3l0.5 -0.2l0.5 0.7l0.5 0.3l0.5 -1.2l0.5 0.6l0.5 -0.3l0.5 0.3l0.5 -0.3l0.5 -0.5l0.5 0.5l0.5 -0.4l0.5 0.1l0.5 -0.6l0.5 1.1l0.5 -0.5l0.5 1.2l0.5 -0.5l0.5 0l0.5 -0.7l0.25 0L571.75 76.3l-0.25 0l-0.5 0.1l-0.5 -0.4l-0.5 0.2l-0.5 0.4l-0.5 -0.2l-0.5 0.3l-0.5 -0.2l-0.5 -0.2l-0.5 -0.1l-0.5 0.6l-0.5 -0.4l-0.5 -0.2l-0.5 0.2l-0.5 -0.2l-0.5 0.3l-0.5 -0.5l-0.5 0.1l-0.5 0.5l-0.5 -0.1l-0.5 0l-0.5 -0.1l-0.5 0.1l-0.5 -0.1l-0.5 -0.3l-0.5 0.1l-0.5 0.2l-0.5 -0.3Z"/>
<path fill="#2e5e9e" d="M200.75 31.7l0.25 0l0.5 -0.1l0.5 9l0.5 -6.9l0.5 0.1l0.5 1.7l0.5 13.8l0.5 -13l0.5 -2.8l0.5 2.3l0.5 -1.2l0.5 1.4l0.5 0.2l0.5 2.4l0.5 5.3l0.5 -7.2l0.5 -1.1l0.5 6.9l0.5 -7.3l0.5 3.1l0.5 0.2l0.5 0.2l0.5 0.3l0.5 -2.2l0.5 0.1l0.5 0.4l0.5 0.3l0.5 2l0.5 3.6l0.5 -3.6l0.5 -3.2l0.5 2.7l0.5 -1l0.5 -1.6l0.5 3.1l0.5 -2.4l0.5 0.7l0.5 0.7l0.5 0.6l0.5 -0.9l0.5 0.3l0.5 1.3l0.5 0.1l0.5 -1.5l0.5 1.1l0.5 0.2l0.5 0.1l0.5 1.5l0.5 -2l0.5 -1.8l0.5 6l0.5 -1.2l0.5 -0.5l0.5 -0.9l0.5 5.3l0.5 -6.4l0.5 -1.4l0.5 0.1l0.5 2.2l0.5 2.4l0.5 -2.9l0.5 0.3l0.5 3l0.5 -4.2l0.5 0.1l0.5 2.7l0.5 2.2l0.5 -0.1l0.5 -1.6l0.5 -2.5l0.5 -3.8l0.5 0.1l0.5 5.4l0.5 11.3l0.5 -10.3l0.5 -0.4l0.5 -0.1l0.5 4.2l0.25 0L239.75 51.4l-0.25 0l-0.5 -4.1l-0.5 0.1l-0.5 0.4l-0.5 9.8l-0.5 -11.3l-0.5 -3.2l-0.5 -0.1l-0.5 3.9l-0.5 2.6l-0.5 -1.2l-0.5 -0.1l-0.5 -2.2l-0.5 -1.9l-0.5 -0.1l-0.5 5l-0.5 -3l-0.5 -0.3l-0.5 0.9l-0.5 -2.4l-0.5 0.7l-0.5 -0.1l-0.5 1.5l-0.5 5.6l-0.5 -5.3l-0.5 0.7l-0.5 0.5l-0.5 2.3l-0.5 -6l-0.5 1.8l-0.5 0l-0.5 0.2l-0.5 -0.1l-0.5 -0.1l-0.5 -1.1l-0.5 0.7l-0.5 0l-0.5 -1.3l-0.5 -0.2l-0.5 1.4l-0.5 -0.7l-0.5 0.4l-0.5 -0.6l-0.5 2.4l-0.5 -3.1l-0.5 -0.5l-0.5 0l-0.5 0.5l-0.5 -1.1l-0.5 3.7l-0.5 -3.7l-0.5 1l-0.5 -0.2l-0.5 -0.3l-0.5 -0.1l-0.5 -0.6l-0.5 -0.2l-0.5 -0.2l-0.5 -0.1l-0.5 1.4l-0.5 7.4l-0.5 -6.9l-0.5 -0.4l-0.5 6.8l-0.5 -5.3l-0.5 -2.3l-0.5 -0.2l-0.5 -0.7l-0.5 1.3l-0.5 -3.1l-0.5 2.9l-0.5 12.9l-0.5 -12.6l-0.5 -1.1l-0.5 -0.1l-0.5 7l-0.5 -6.6l-0.5 0.3ZM280.25 30.6l0.25 0l0.5 15.2l0.5 -10.4l0.5 -3.2l0.5 1l0.5 -0.8l0.5 0.9l0.5 2.6l0.5 0.2l0.5 3.5l0.5 0.2l0.5 1.4l0.5 -2.4l0.5 -0.6l0.5 -2.8l0.5 -1.1l0.5 1.5l0.5 0.6l0.5 0.9l0.5 1.3l0.5 6.2l0.5 -6l0.5 -0.4l0.5 -1.3l0.5 0.4l0.5 8.7l0.5 -7.6l0.5 0.2l0.5 6.5l0.5 -6.6l0.5 1.4l0.5 7.5l0.5 -8.7l0.5 2.8l0.5 -1.6l0.5 -1.7l0.5 1.1l0.5 0.3l0.5 3.1l0.5 4.8l0.5 -4.7l0.5 0.3l0.5 -0.5l0.5 -1.5l0.5 -1.1l0.5 -0.3l0.5 2.4l0.5 -1.4l0.5 0.2l0.5 -0.3l0.5 0.9l0.5 1.6l0.5 4.1l0.5 -3l0.5 8.4l0.5 -8.2l0.5 1.4l0.5 -1.3l0.5 0.9l0.5 0.2l0.5 0.2l0.5 -0.9l0.5 0.3l0.5 1.2l0.5 -0.8l0.5 -0.1l0.5 0.1l0.5 1l0.5 -1.4l0.5 -0.5l0.5 1.1l0.5 0.1l0.5 0l0.5 0l0.5 0.4l0.5 0.1l0.5 0.5l0.5 -0.4l0.25 0L319.25 50.4l-0.25 0l-0.5 0l-0.5 -0.1l-0.5 -0.1l-0.5 -0.4l-0.5 -0.2l-0.5 0l-0.5 -0.1l-0.5 -1.5l-0.5 0.6l-0.5 2.9l-0.5 -1.8l-0.5 -0.2l-0.5 -0.2l-0.5 0.8l-0.5 -1.2l-0.5 -0.3l-0.5 -0.3l-0.5 -0.2l-0.5 -0.2l-0.5 0.1l-0.5 1.2l-0.5 -1.8l-0.5 8.2l-0.5 -8.5l-0.5 3.1l-0.5 -4.2l-0.5 -0.5l-0.5 -0.8l-0.5 0.4l-0.5 -0.2l-0.5 0.2l-0.5 -2.4l-0.5 0.4l-0.5 2.3l-0.5 1.5l-0.5 0.1l-0.5 -0.2l-0.5 4.7l-0.5 -6.1l-0.5 -0.2l-0.5 -0.3l-0.5 -4.3l-0.5 1.7l-0.5 2.7l-0.5 0.5l-0.5 6.6l-0.5 -7.5l-0.5 -2.4l-0.5 6.6l-0.5 -6.3l-0.5 -0.2l-0.5 7.8l-0.5 -8.7l-0.5 -0.1l-0.5 1.3l-0.5 -0.4l-0.5 6l-0.5 -6.2l-0.5 -1.2l-0.5 0.7l-0.5 -0.4l-0.5 -0.1l-0.5 -1.4l-0.5 2.1l-0.5 2.2l-0.5 -0.2l-0.5 -1.3l-0.5 -0.2l-0.5 0l-0.5 -0.1l-0.5 -2.4l-0.5 -0.8l-0.5 -0.6l-0.5 0.3l-0.5 3.3l-0.5 11.5l-0.5 -15ZM359.75 37.8l0.25 0l0.5 1.2l0.5 0l0.5 1.1l0.5 -1.1l0.5 -1.7l0.5 2.2l0.5 -1l0.5 0l0.5 0.4l0.5 1.9l0.5 0l0.5 -0.8l0.5 1.3l0.5 0.2l0.5 0.6l0.5 0.3l0.5 1.1l0.5 1.9l0.5 -2l0.5 -0.4l0.5 1l0.5 -0.5l0.5 0.2l0.5 -1.3l0.5 -0.7l0.5 -0.9l0.5 2.8l0.5 -0.3l0.5 1.1l0.5 -0.9l0.5 0.1l0.5 1.4l0.5 0.7l0.5 0.3l0.5 0.2l0.5 6.2l0.5 -7.1l0.5 -0.3l0.5 0.3l0.5 0.4l0.5 10.7l0.5 -8.4l0.5 0.1l0.5 1.2l0.5 0l0.5 -0.3l0.5 0.5l0.5 -0.4l0.5 -0.3l0.5 0l0.5 1.5l0.5 -0.1l0.5 0.5l0.5 0.7l0.5 -1l0.5 0l0.5 0l0.5 0l0.5 -1.6l0.5 1.8l0.5 2l0.5 -3.8l0.5 0.1l0.5 8l0.5 -8.5l0.5 0l0.5 0.1l0.5 0.4l0.5 -0.7l0.5 2.7l0.5 1.2l0.5 0l0.5 -1l0.5 -0.7l0.5 -0.1l0.25 0L397.75 53.5l-0.25 0l-0.5 0.2l-0.5 0.6l-0.5 0.7l-0.5 0.1l-0.5 -1.2l-0.5 -0.6l-0.5 -0.1l-0.5 -0.3l-0.5 0.5l-0.5 0l-0.5 8.5l-0.5 -7.9l-0.5 -0.2l-0.5 3.8l-0.5 -3.4l-0.5 -1.9l-0.5 1.3l-0.5 -0.1l-0.5 0.1l-0.5 0l-0.5 0.3l-0.5 -0.7l-0.5 -0.5l-0.5 0.1l-0.5 0.5l-0.5 0l-0.5 -0.5l-0.5 0.4l-0.5 -0.5l-0.5 1.3l-0.5 0l-0.5 -1.2l-0.5 -0.1l-0.5 7.5l-0.5 -9.8l-0.5 -1.9l-0.5 -0.3l-0.5 0.3l-0.5 7.1l-0.5 -5.4l-0.5 -0.1l-0.5 0.8l-0.5 -0.7l-0.5 -1.4l-0.5 -0.2l-0.5 0.6l-0.5 -1.1l-0.5 -1l-0.5 -1l-0.5 -0.5l-0.5 0.7l-0.5 1.3l-0.5 -0.1l-0.5 -0.4l-0.5 -1l-0.5 0.6l-0.5 2l-0.5 -1.9l-0.5 -1.1l-0.5 1.4l-0.5 -0.6l-0.5 -0.2l-0.5 -1.3l-0.5 0.5l-0.5 -0.1l-0.5 -1.8l-0.5 0.6l-0.5 0l-0.5 0.9l-0.5 -2.1l-0.5 -0.7l-0.5 1.1l-0.5 0l-0.5 0l-0.5 -1.2ZM439.25 46.7l0.25 0l0.5 0.1l0.5 0.7l0.5 -0.2l0.5 -0.6l0.5 -1.1l0.5 0.8l0.5 0.1l0.5 -1.1l0.5 1.1l0.5 -0.9l0.5 8.8l0.5 -8l0.5 0.7l0.5 0.9l0.5 1.5l0.5 -0.2l0.5 0.4l0.5 -1.2l0.5 -0.6l0.5 -0.3l0.5 0.4l0.5 0.7l0.5 1.1l0.5 -1l0.5 1.1l0.5 0.3l0.5 0.4l0.5 0.1l0.5 3.7l0.5 -4l0.5 -1.5l0.5 0.5l0.5 0.5l0.5 4.4l0.5 -4.1l0.5 1.1l0.5 -1.6l0.5 0.6l0.5 4.9l0.5 -5.6l0.5 0.2l0.5 0.9l0.5 -0.5l0.5 0.4l0.5 0.1l0.5 -0.3l0.5 1l0.5 -0.9l0.5 0.6l0.5 -0.1l0.5 6.2l0.5 -5.9l0.5 1.1l0.5 -0.6l0.5 -0.5l0.5 0.4l0.5 0.1l0.5 0.2l0.5 1.2l0.5 -1.6l0.5 0.3l0.5 -0.2l0.5 0.1l0.5 1.8l0.5 -0.5l0.5 -0.7l0.5 2.6l0.5 -1.9l0.5 1.2l0.5 -0.2l0.5 5.3l0.25 0L475.25 62.0l-0.25 0l-0.5 -5.4l-0.5 0l-0.5 -1.2l-0.5 1.9l-0.5 -2.6l-0.5 0.6l-0.5 0.6l-0.5 -1.4l-0.5 0l-0.5 0.2l-0.5 -0.4l-0.5 1.4l-0.5 -1.3l-0.5 -0.2l-0.5 0.2l-0.5 -0.3l-0.5 -0.2l-0.5 0.5l-0.5 -1l-0.5 5.9l-0.5 -6.4l-0.5 0.1l-0.5 0.4l-0.5 0.9l-0.5 -1l-0.5 -0.1l-0.5 -0.1l-0.5 -0.4l-0.5 0.2l-0.5 -0.9l-0.5 -0.1l-0.5 6.3l-0.5 -4.1l-0.5 -0.7l-0.5 0.2l-0.5 -1l-0.5 4.7l-0.5 -4.7l-0.5 -0.1l-0.5 -0.6l-0.5 1.4l-0.5 4l-0.5 -3.7l-0.5 -0.1l-0.5 -1.4l-0.5 0.4l-0.5 -1.1l-0.5 1.1l-0.5 -1.1l-0.5 0l-0.5 -0.4l-0.5 0.3l-0.5 -0.2l-0.5 1.2l-0.5 -0.1l-0.5 0.3l-0.5 -1.5l-0.5 -1l-0.5 -0.5l-0.5 8.1l-0.5 -8.8l-0.5 0.8l-0.5 -0.5l-0.5 -0.4l-0.5 0l-0.5 0.5l-0.5 1.1l-0.5 -0.1l-0.5 0.5l-0.5 -0.7l-0.5 -0.1ZM517.75 44.5l0.25 0l0.5 0.3l0.5 1.9l0.5 -1.2l0.5 8.2l0.5 -7.6l0.5 0.6l0.5 0.2l0.5 -1.8l0.5 1.4l0.5 0.2l0.5 -0.1l0.5 3.6l0.5 -4l0.5 1.4l0.5 0.6l0.5 3.6l0.5 -3.8l0.5 0.1l0.5 -0.2l0.5 7.1l0.5 -6.5l0.5 -0.3l0.5 0.1l0.5 0.4l0.5 -0.9l0.5 0.6l0.5 0.5l0.5 -0.4l0.5 -0.7l0.5 0.1l0.5 -1.2l0.5 2l0.5 1l0.5 -0.4l0.5 -1l0.5 0.7l0.5 4.7l0.5 -3.7l0.5 -0.2l0.5 -1.3l0.5 1.7l0.5 0.1l0.5 -0.2l0.5 -1.9l0.5 0.2l0.5 0.2l0.5 1.8l0.5 1.4l0.5 0l0.5 -0.5l0.5 1l0.5 0.2l0.5 3.7l0.5 -3.9l0.5 -0.4l0.5 0.8l0.5 -1.2l0.5 -0.7l0.5 0.1l0.5 1.7l0.5 0.3l0.5 0.3l0.5 0.2l0.5 0.7l0.5 0.6l0.5 -2.9l0.5 4.1l0.5 -4l0.5 -1.5l0.5 1.3l0.5 0.8l0.5 0.4l0.5 1.8l0.5 0.2l0.5 0.2l0.5 -0.4l0.5 0.1l0.5 -0.2l0.5 1l0.25 0L557.75 58.8l-0.25 0l-0.5 -0.3l-0.5 0.2l-0.5 -0.2l-0.5 0.5l-0.5 -1l-0.5 -0.1l-0.5 -1.8l-0.5 -0.5l-0.5 0l-0.5 0.1l-0.5 1.4l-0.5 4l-0.5 -4.1l-0.5 0.5l-0.5 -0.7l-0.5 -0.5l-0.5 -0.2l-0.5 -0.4l-0.5 -0.2l-0.5 0.2l-0.5 -0.2l-0.5 0.8l-0.5 -0.1l-0.5 -0.8l-0.5 0.4l-0.5 3.9l-0.5 -4.2l-0.5 -0.2l-0.5 -1.2l-0.5 0.6l-0.5 -0.1l-0.5 0.1l-0.5 -1.8l-0.5 -0.2l-0.5 -0.2l-0.5 0.6l-0.5 -0.5l-0.5 -0.1l-0.5 0.3l-0.5 0.2l-0.5 -0.2l-0.5 4.8l-0.5 -4.7l-0.5 -0.6l-0.5 0.9l-0.5 -0.1l-0.5 -1l-0.5 -0.3l-0.5 -0.3l-0.5 -0.1l-0.5 0.7l-0.5 0.4l-0.5 0.6l-0.5 -0.5l-0.5 0.1l-0.5 -0.4l-0.5 0l-0.5 -1.2l-0.5 6.5l-0.5 -6.8l-0.5 0.2l-0.5 -0.1l-0.5 4l-0.5 -3.5l-0.5 -0.6l-0.5 -0.8l-0.5 4l-0.5 -1.8l-0.5 0.1l-0.5 -1l-0.5 -2.5l-0.5 1.8l-0.5 -0.2l-0.5 -0.6l-0.5 8l-0.5 -8.1l-0.5 1.2l-0.5 -1.9l-0.5 -0.2Z"/>
<path fill="#ff7f7f" d="M200.75 11.3l0.25 0l0.5 -0.1l0.5 7.2l0.5 -10.8l0.5 0.2l0.5 6.1l0.5 13.8l0.5 -14.7l0.5 -2.7l0.5 2.3l0.5 12.8l0.5 -12.2l0.5 0.3l0.5 -7.4l0.5 5.4l0.5 2.4l0.5 -1.1l0.5 6.2l0.5 -7.3l0.5 6.6l0.5 -1.2l0.5 -1.3l0.5 0.4l0.5 -2.2l0.5 0.2l0.5 0.5l0.5 0.2l0.5 9.4l0.5 -1.9l0.5 10.7l0.5 -20.5l0.5 2.7l0.5 0.1l0.5 -1.7l0.5 3.2l0.5 -2.3l0.5 -7.9l0.5 8.7l0.5 0.7l0.5 -0.9l0.5 -2.4l0.5 4l0.5 0.1l0.5 -1.4l0.5 1.4l0.5 -1.5l0.5 0.1l0.5 2.7l0.5 -7.2l0.5 -1.7l0.5 14.9l0.5 -9.9l0.5 8l0.5 -0.9l0.5 3.4l0.5 -12.6l0.5 -1.7l0.5 0.2l0.5 2.3l0.5 8.6l0.5 -0.6l0.5 -2.9l0.5 7.2l0.5 -6.3l0.5 0.2l0.5 -3.3l0.5 -0.8l0.5 0l0.5 5.1l0.5 -2.5l0.5 -1.5l0.5 0.2l0.5 0.2l0.5 15.5l0.5 -10.3l0.5 -8.5l0.5 3.5l0.5 4.2l0.25 0L239.75 46.6l-0.25 0l-0.5 -4.2l-0.5 0.1l-0.5 0.4l-0.5 10.3l-0.5 -11.3l-0.5 -5.4l-0.5 -0.1l-0.5 3.8l-0.5 2.5l-0.5 1.6l-0.5 0.1l-0.5 -2.2l-0.5 -2.7l-0.5 -0.1l-0.5 4.2l-0.5 -3l-0.5 -0.3l-0.5 2.9l-0.5 -2.4l-0.5 -2.2l-0.5 -0.1l-0.5 1.4l-0.5 6.4l-0.5 -5.3l-0.5 0.9l-0.5 0.5l-0.5 1.2l-0.5 -6l-0.5 1.8l-0.5 2l-0.5 -1.5l-0.5 -0.1l-0.5 -0.2l-0.5 -1.1l-0.5 1.5l-0.5 -0.1l-0.5 -1.3l-0.5 -0.3l-0.5 0.9l-0.5 -0.6l-0.5 -0.7l-0.5 -0.7l-0.5 2.4l-0.5 -3.1l-0.5 1.6l-0.5 1l-0.5 -2.7l-0.5 3.2l-0.5 3.6l-0.5 -3.6l-0.5 -2l-0.5 -0.3l-0.5 -0.4l-0.5 -0.1l-0.5 2.2l-0.5 -0.3l-0.5 -0.2l-0.5 -0.2l-0.5 -3.1l-0.5 7.3l-0.5 -6.9l-0.5 1.1l-0.5 7.2l-0.5 -5.3l-0.5 -2.4l-0.5 -0.2l-0.5 -1.4l-0.5 1.2l-0.5 -2.3l-0.5 2.8l-0.5 13l-0.5 -13.8l-0.5 -1.7l-0.5 -0.1l-0.5 6.9l-0.5 -9l-0.5 0.1ZM280.25 13.1l0.25 0l0.5 14.6l0.5 -12.6l0.5 9l0.5 3.4l0.5 -4.8l0.5 -10.2l0.5 2.5l0.5 1.2l0.5 -2l0.5 0.1l0.5 1.3l0.5 -2.5l0.5 6.1l0.5 -3l0.5 -1.1l0.5 -1.1l0.5 -3.8l0.5 4.6l0.5 -0.7l0.5 10.4l0.5 -6l0.5 -2.5l0.5 -0.6l0.5 0.3l0.5 22.5l0.5 -21.1l0.5 0.2l0.5 6.4l0.5 3.2l0.5 -5.7l0.5 7.8l0.5 -8.5l0.5 3.1l0.5 -5.6l0.5 -1.4l0.5 1.5l0.5 -1.8l0.5 8.7l0.5 -2.8l0.5 -5.8l0.5 3.8l0.5 4.8l0.5 -1.1l0.5 0.6l0.5 -0.1l0.5 1.8l0.5 -1l0.5 0.4l0.5 -0.9l0.5 11l0.5 -7.4l0.5 4.5l0.5 -1.9l0.5 8.7l0.5 -8.7l0.5 1.8l0.5 -5.1l0.5 1.3l0.5 2.5l0.5 3l0.5 -1l0.5 -1.5l0.5 2.2l0.5 0.9l0.5 -0.2l0.5 0.1l0.5 0.9l0.5 -2.5l0.5 -0.9l0.5 1l0.5 0.9l0.5 0l0.5 -0.1l0.5 -1.2l0.5 0l0.5 0.4l0.5 4.3l0.25 0L319.25 46.7l-0.25 0l-0.5 0.4l-0.5 -0.5l-0.5 -0.1l-0.5 -0.4l-0.5 0l-0.5 0l-0.5 -0.1l-0.5 -1.1l-0.5 0.5l-0.5 1.4l-0.5 -1l-0.5 -0.1l-0.5 0.1l-0.5 0.8l-0.5 -1.2l-0.5 -0.3l-0.5 0.9l-0.5 -0.2l-0.5 -0.2l-0.5 -0.9l-0.5 1.3l-0.5 -1.4l-0.5 8.2l-0.5 -8.4l-0.5 3l-0.5 -4.1l-0.5 -1.6l-0.5 -0.9l-0.5 0.3l-0.5 -0.2l-0.5 1.4l-0.5 -2.4l-0.5 0.3l-0.5 1.1l-0.5 1.5l-0.5 0.5l-0.5 -0.3l-0.5 4.7l-0.5 -4.8l-0.5 -3.1l-0.5 -0.3l-0.5 -1.1l-0.5 1.7l-0.5 1.6l-0.5 -2.8l-0.5 8.7l-0.5 -7.5l-0.5 -1.4l-0.5 6.6l-0.5 -6.5l-0.5 -0.2l-0.5 7.6l-0.5 -8.7l-0.5 -0.4l-0.5 1.3l-0.5 0.4l-0.5 6l-0.5 -6.2l-0.5 -1.3l-0.5 -0.9l-0.5 -0.6l-0.5 -1.5l-0.5 1.1l-0.5 2.8l-0.5 0.6l-0.5 2.4l-0.5 -1.4l-0.5 -0.2l-0.5 -3.5l-0.5 -0.2l-0.5 -2.6l-0.5 -0.9l-0.5 0.8l-0.5 -1l-0.5 3.2l-0.5 10.4l-0.5 -15.2ZM359.75 19.3l0.25 0l0.5 3.2l0.5 0.1l0.5 1l0.5 -1.2l0.5 -2l0.5 -3.3l0.5 -1.3l0.5 3.7l0.5 0.3l0.5 1.8l0.5 2.3l0.5 -2.5l0.5 1.2l0.5 0.3l0.5 0.6l0.5 -0.8l0.5 3.9l0.5 -0.8l0.5 -2.1l0.5 -0.4l0.5 1.5l0.5 -0.5l0.5 0.7l0.5 3.5l0.5 -5.6l0.5 -1.2l0.5 2.8l0.5 -8.3l0.5 9l0.5 4.3l0.5 1.2l0.5 -8l0.5 -7.1l0.5 0.2l0.5 0.8l0.5 9.2l0.5 -7.2l0.5 -0.3l0.5 0.2l0.5 8.2l0.5 12.9l0.5 -4l0.5 -0.8l0.5 1.2l0.5 0.1l0.5 -0.3l0.5 0.9l0.5 -0.3l0.5 -1.2l0.5 0.1l0.5 1.5l0.5 1.2l0.5 0.9l0.5 0.8l0.5 -6.2l0.5 0.3l0.5 -0.1l0.5 0l0.5 10.6l0.5 -6.7l0.5 1.9l0.5 -3.7l0.5 0.2l0.5 8l0.5 -9.4l0.5 0l0.5 3.8l0.5 -4.7l0.5 0.5l0.5 1.5l0.5 1.2l0.5 1.1l0.5 -1.7l0.5 -0.7l0.5 -0.1l0.25 0L397.75 50.3l-0.25 0l-0.5 0.1l-0.5 0.7l-0.5 1l-0.5 0l-0.5 -1.2l-0.5 -2.7l-0.5 0.7l-0.5 -0.4l-0.5 -0.1l-0.5 0l-0.5 8.5l-0.5 -8l-0.5 -0.1l-0.5 3.8l-0.5 -2l-0.5 -1.8l-0.5 1.6l-0.5 0l-0.5 0l-0.5 0l-0.5 1l-0.5 -0.7l-0.5 -0.5l-0.5 0.1l-0.5 -1.5l-0.5 0l-0.5 0.3l-0.5 0.4l-0.5 -0.5l-0.5 0.3l-0.5 0l-0.5 -1.2l-0.5 -0.1l-0.5 8.4l-0.5 -10.7l-0.5 -0.4l-0.5 -0.3l-0.5 0.3l-0.5 7.1l-0.5 -6.2l-0.5 -0.2l-0.5 -0.3l-0.5 -0.7l-0.5 -1.4l-0.5 -0.1l-0.5 0.9l-0.5 -1.1l-0.5 0.3l-0.5 -2.8l-0.5 0.9l-0.5 0.7l-0.5 1.3l-0.5 -0.2l-0.5 0.5l-0.5 -1l-0.5 0.4l-0.5 2l-0.5 -1.9l-0.5 -1.1l-0.5 -0.3l-0.5 -0.6l-0.5 -0.2l-0.5 -1.3l-0.5 0.8l-0.5 0l-0.5 -1.9l-0.5 -0.4l-0.5 0l-0.5 1l-0.5 -2.2l-0.5 1.7l-0.5 1.1l-0.5 -1.1l-0.5 0l-0.5 -1.2ZM439.25 33.6l0.25 0l0.5 0l0.5 0.4l0.5 -1.4l0.5 0.6l0.5 -1.2l0.5 -1.6l0.5 0.1l0.5 -1.2l0.5 1.1l0.5 -0.5l0.5 8.8l0.5 -0.6l0.5 -5.6l0.5 0.9l0.5 1.5l0.5 -1l0.5 0.4l0.5 0l0.5 0.3l0.5 -0.3l0.5 0.4l0.5 -0.8l0.5 1.1l0.5 10.8l0.5 -11.1l0.5 -0.5l0.5 -3.4l0.5 0.3l0.5 3.7l0.5 -4.7l0.5 3l0.5 0.7l0.5 -0.7l0.5 4.6l0.5 4.5l0.5 -5.5l0.5 6.8l0.5 -8.7l0.5 4l0.5 -5.4l0.5 0.3l0.5 0.6l0.5 1.5l0.5 -3.9l0.5 0.3l0.5 -0.2l0.5 1.9l0.5 2.6l0.5 0.7l0.5 -2.3l0.5 6.5l0.5 -6.3l0.5 1.3l0.5 1.6l0.5 -0.3l0.5 -3.8l0.5 0.3l0.5 4.9l0.5 1.4l0.5 -1.6l0.5 1.4l0.5 0.2l0.5 0.4l0.5 -2.4l0.5 0l0.5 10.6l0.5 -5.6l0.5 -3.6l0.5 1.7l0.5 0.8l0.5 7.1l0.25 0L475.25 59.4l-0.25 0l-0.5 -5.3l-0.5 0.2l-0.5 -1.2l-0.5 1.9l-0.5 -2.6l-0.5 0.7l-0.5 0.5l-0.5 -1.8l-0.5 -0.1l-0.5 0.2l-0.5 -0.3l-0.5 1.6l-0.5 -1.2l-0.5 -0.2l-0.5 -0.1l-0.5 -0.4l-0.5 0.5l-0.5 0.6l-0.5 -1.1l-0.5 5.9l-0.5 -6.2l-0.5 0.1l-0.5 -0.6l-0.5 0.9l-0.5 -1l-0.5 0.3l-0.5 -0.1l-0.5 -0.4l-0.5 0.5l-0.5 -0.9l-0.5 -0.2l-0.5 5.6l-0.5 -4.9l-0.5 -0.6l-0.5 1.6l-0.5 -1.1l-0.5 4.1l-0.5 -4.4l-0.5 -0.5l-0.5 -0.5l-0.5 1.5l-0.5 4l-0.5 -3.7l-0.5 -0.1l-0.5 -0.4l-0.5 -0.3l-0.5 -1.1l-0.5 1l-0.5 -1.1l-0.5 -0.7l-0.5 -0.4l-0.5 0.3l-0.5 0.6l-0.5 1.2l-0.5 -0.4l-0.5 0.2l-0.5 -1.5l-0.5 -0.9l-0.5 -0.7l-0.5 8l-0.5 -8.8l-0.5 0.9l-0.5 -1.1l-0.5 1.1l-0.5 -0.1l-0.5 -0.8l-0.5 1.1l-0.5 0.6l-0.5 0.2l-0.5 -0.7l-0.5 -0.1ZM517.75 28.8l0.25 0l0.5 -1.6l0.5 0.1l0.5 -1.1l0.5 12.2l0.5 -7.6l0.5 1.7l0.5 -1.6l0.5 -2.6l0.5 11.4l0.5 -12.7l0.5 3.6l0.5 3.7l0.5 -3.9l0.5 4.7l0.5 0.4l0.5 3.6l0.5 -3.7l0.5 0.7l0.5 -0.1l0.5 7.2l0.5 -6.4l0.5 -1.6l0.5 0.4l0.5 -0.6l0.5 -0.7l0.5 0.6l0.5 0.9l0.5 -0.3l0.5 0.2l0.5 0.1l0.5 -1.8l0.5 2.1l0.5 2.2l0.5 -0.3l0.5 6l0.5 -7.5l0.5 5l0.5 -3.7l0.5 0l0.5 -1l0.5 1.8l0.5 -0.1l0.5 -0.1l0.5 -1.2l0.5 0.4l0.5 -0.4l0.5 1.9l0.5 1.3l0.5 0.1l0.5 -1l0.5 1.1l0.5 0.2l0.5 -0.4l0.5 -2.6l0.5 -0.4l0.5 4.1l0.5 -1.3l0.5 -0.7l0.5 0.2l0.5 2.3l0.5 0.3l0.5 0.3l0.5 0.1l0.5 0.7l0.5 1.5l0.5 -3.8l0.5 9.2l0.5 -12.8l0.5 -1.5l0.5 1.9l0.5 0.9l0.5 4.2l0.5 1.8l0.5 0l0.5 0.2l0.5 -0.5l0.5 0.2l0.5 6.1l0.5 -7.7l0.25 0L557.75 55.6l-0.25 0l-0.5 -1l-0.5 0.2l-0.5 -0.1l-0.5 0.4l-0.5 -0.2l-0.5 -0.2l-0.5 -1.8l-0.5 -0.4l-0.5 -0.8l-0.5 -1.3l-0.5 1.5l-0.5 4l-0.5 -4.1l-0.5 2.9l-0.5 -0.6l-0.5 -0.7l-0.5 -0.2l-0.5 -0.3l-0.5 -0.3l-0.5 -1.7l-0.5 -0.1l-0.5 0.7l-0.5 1.2l-0.5 -0.8l-0.5 0.4l-0.5 3.9l-0.5 -3.7l-0.5 -0.2l-0.5 -1l-0.5 0.5l-0.5 0l-0.5 -1.4l-0.5 -1.8l-0.5 -0.2l-0.5 -0.2l-0.5 1.9l-0.5 0.2l-0.5 -0.1l-0.5 -1.7l-0.5 1.3l-0.5 0.2l-0.5 3.7l-0.5 -4.7l-0.5 -0.7l-0.5 1l-0.5 0.4l-0.5 -1l-0.5 -2l-0.5 1.2l-0.5 -0.1l-0.5 0.7l-0.5 0.4l-0.5 -0.5l-0.5 -0.6l-0.5 0.9l-0.5 -0.4l-0.5 -0.1l-0.5 0.3l-0.5 6.5l-0.5 -7.1l-0.5 0.2l-0.5 -0.1l-0.5 3.8l-0.5 -3.6l-0.5 -0.6l-0.5 -1.4l-0.5 4l-0.5 -3.6l-0.5 0.1l-0.5 -0.2l-0.5 -1.4l-0.5 1.8l-0.5 -0.2l-0.5 -0.6l-0.5 7.6l-0.5 -8.2l-0.5 1.2l-0.5 -1.9l-0.5 -0.3Z"/>
</g>
<g>
<line x1="55" y1="212.3" x2="62" y2="212.3" stroke="#a08c8c" stroke-width="0.9"/>
<path fill="#4b9ef0" d="M200.75 238.2l0.25 0l0.5 -0.4l0.5 -1.4l0.5 0.3l0.5 0l0.5 -3.7l0.5 3.3l0.5 0.6l0.5 0l0.5 0.2l0.5 0l0.5 -7.7l0.5 7.7l0.5 0l0.5 0.9l0.5 -0.8l0.5 -0.3l0.5 -0.5l0.5 0l0.5 0.2l0.5 0l0.5 1.3l0.5 0.7l0.5 -0.5l0.5 -4l0.5 4.1l0.5 0.4l0.5 -0.2l0.5 -1.7l0.5 1.6l0.5 1l0.5 -4.4l0.5 8.4l0.5 2l0.5 1.6l0.5 -3.4l0.5 4l0.5 0.6l0.5 -1.6l0.5 -0.2l0.5 -0.4l0.5 0l0.5 2.3l0.5 -10.3l0.5 9.3l0.5 -0.5l0.5 0.1l0.5 2.4l0.5 0.8l0.5 -10.7l0.5 11.2l0.5 -1.4l0.5 -0.5l0.5 -0.2l0.5 -0.2l0.5 0l0.5 -0.3l0.5 -6l0.5 6l0.5 0.9l0.5 -0.9l0.5 -1l0.5 -1.3l0.5 -8.3l0.5 8.2l0.5 1.8l0.5 -1.3l0.5 -9.4l0.5 12.5l0.5 -6.4l0.5 5.1l0.5 -0.3l0.5 -2.6l0.5 0l0.5 1l0.5 -0.1l0.5 2.6l0.5 -0.4l0.25 0L239.75 262.4l-0.25 0l-0.5 0.4l-0.5 -2.6l-0.5 -2.3l-0.5 -0.7l-0.5 0l-0.5 2.6l-0.5 -4.9l-0.5 1.3l-0.5 6.4l-0.5 15l-0.5 9.4l-0.5 -27.3l-0.5 -1.8l-0.5 -1.5l-0.5 8.4l-0.5 1.3l-0.5 -6.3l-0.5 0.9l-0.5 -0.9l-0.5 7.1l-0.5 6l-0.5 -10.3l-0.5 0l-0.5 0.3l-0.5 -1.3l-0.5 0.5l-0.5 1.4l-0.5 -11.3l-0.5 10.1l-0.5 0.4l-0.5 -2.5l-0.5 7.5l-0.5 -7.8l-0.5 -9.2l-0.5 4.7l-0.5 2.8l-0.5 0l-0.5 0.4l-0.5 1.3l-0.5 0.7l-0.5 1.4l-0.5 -4l-0.5 1.3l-0.5 -1.7l-0.5 -2l-0.5 -8.4l-0.5 6.9l-0.5 -1l-0.5 -1.6l-0.5 -0.9l-0.5 0.1l-0.5 -0.3l-0.5 -3.5l-0.5 3.7l-0.5 0.5l-0.5 -0.6l-0.5 -1.3l-0.5 0l-0.5 -0.3l-0.5 0l-0.5 0.4l-0.5 0.6l-0.5 0.9l-0.5 -0.9l-0.5 0.1l-0.5 -7.7l-0.5 7.7l-0.5 0l-0.5 0.2l-0.5 0l-0.5 -2.1l-0.5 -2.7l-0.5 4.9l-0.5 0l-0.5 -0.2l-0.5 1.3l-0.5 -0.5ZM280.25 245.3l0.25 0l0.5 0.9l0.5 0l0.5 -2.1l0.5 1.8l0.5 -0.7l0.5 0.3l0.5 0l0.5 1.2l0.5 -0.1l0.5 -1.4l0.5 -0.1l0.5 0l0.5 -0.4l0.5 -0.5l0.5 1.4l0.5 1.3l0.5 -0.5l0.5 0.1l0.5 -1l0.5 -0.5l0.5 0l0.5 -0.7l0.5 0.1l0.5 0.4l0.5 0.2l0.5 1.6l0.5 -1.2l0.5 -0.6l0.5 -0.8l0.5 -0.5l0.5 1.3l0.5 0.7l0.5 -6l0.5 5.9l0.5 0l0.5 -0.4l0.5 0l0.5 -8.7l0.5 9.2l0.5 0.9l0.5 -1.4l0.5 -0.7l0.5 -0.3l0.5 0l0.5 0l0.5 -7.6l0.5 9.1l0.5 0.4l0.5 0.3l0.5 -0.8l0.5 -1l0.5 1.2l0.5 0.1l0.5 -1.6l0.5 3l0.5 -1l0.5 -0.6l0.5 0l0.5 -5.6l0.5 4.3l0.5 0.1l0.5 -4.8l0.5 6.4l0.5 0.2l0.5 -4.3l0.5 4.6l0.5 0.4l0.5 0.5l0.5 -0.1l0.5 -5l0.5 -0.4l0.5 3.7l0.5 0.3l0.5 -0.9l0.5 -0.1l0.5 0l0.5 0.1l0.25 0L319.25 257.4l-0.25 0l-0.5 1.1l-0.5 -0.1l-0.5 -1.2l-0.5 -4.4l-0.5 5l-0.5 -1.9l-0.5 3.3l-0.5 1.8l-0.5 -1l-0.5 -0.5l-0.5 -0.3l-0.5 -3.6l-0.5 4.3l-0.5 -0.1l-0.5 -7.5l-0.5 5l-0.5 -0.1l-0.5 -4.3l-0.5 5.7l-0.5 -0.5l-0.5 0.6l-0.5 1l-0.5 24.4l-0.5 1.6l-0.5 -26.2l-0.5 -1.3l-0.5 -0.1l-0.5 3l-0.5 9.8l-0.5 -0.4l-0.5 -19.1l-0.5 6.3l-0.5 -0.1l-0.5 0l-0.5 0.3l-0.5 -0.5l-0.5 1.4l-0.5 -0.7l-0.5 -9.3l-0.5 10.1l-0.5 0l-0.5 -0.6l-0.5 0l-0.5 -9.8l-0.5 9.9l-0.5 9.4l-0.5 -1.3l-0.5 -8.7l-0.5 0.8l-0.5 0.5l-0.5 1.2l-0.5 -1.8l-0.5 -1.7l-0.5 12.6l-0.5 -0.1l-0.5 -11l-0.5 0l-0.5 1.1l-0.5 0.9l-0.5 0l-0.5 0.6l-0.5 -2.1l-0.5 21.4l-0.5 0.5l-0.5 -22l-0.5 0l-0.5 0.1l-0.5 1.4l-0.5 -1.8l-0.5 -1.2l-0.5 1.7l-0.5 -0.8l-0.5 0.8l-0.5 -2.1l-0.5 2.1l-0.5 -0.2l-0.5 -1ZM360.25 249.7l0.25 0l0.5 0.3l0.5 -4.2l0.5 2.9l0.5 -2.1l0.5 0.1l0.5 3.1l0.5 -0.7l0.5 0.2l0.5 -1.9l0.5 0.4l0.5 0.3l0.5 -0.3l0.5 -1l0.5 2.1l0.5 -1.3l0.5 -0.1l0.5 -1.2l0.5 0.5l0.5 2.1l0.5 0l0.5 -14.9l0.5 15.3l0.5 -1.5l0.5 -0.4l0.5 14.7l0.5 -13l0.5 -2l0.5 0l0.5 0.5l0.5 0l0.5 0.6l0.5 -8.4l0.5 7.2l0.5 -0.4l0.5 0.4l0.5 -6.3l0.5 6.6l0.5 -0.1l0.5 1.6l0.5 0l0.5 0.3l0.5 -5l0.5 2.4l0.5 0.8l0.5 -6.3l0.5 5.9l0.5 -0.2l0.5 -2.9l0.5 4.2l0.5 -5.9l0.5 7.1l0.5 -0.4l0.5 0.1l0.5 0.1l0.5 0l0.5 -1l0.5 0.6l0.5 -0.1l0.5 1.2l0.5 -3l0.5 0l0.5 -8.5l0.5 1.2l0.5 8.7l0.5 -0.6l0.5 0.6l0.5 0.1l0.5 -11.3l0.5 9.8l0.5 -1.7l0.5 0l0.5 1l0.5 -0.9l0.5 0.6l0.5 -1.4l0.5 4.3l0.25 0L398.75 274.6l-0.25 0l-0.5 -4.3l-0.5 1.4l-0.5 -0.6l-0.5 -12.9l-0.5 -1l-0.5 0l-0.5 3.1l-0.5 -10.8l-0.5 11.3l-0.5 2.2l-0.5 -0.7l-0.5 -0.1l-0.5 -9.8l-0.5 -1l-0.5 8.5l-0.5 -0.4l-0.5 3l-0.5 5l-0.5 0.1l-0.5 -8l-0.5 1l-0.5 0l-0.5 1.8l-0.5 -0.1l-0.5 -1.7l-0.5 -7.1l-0.5 8.7l-0.5 -5.7l-0.5 3.4l-0.5 0.2l-0.5 -6.7l-0.5 6.3l-0.5 6.8l-0.5 -2.4l-0.5 -3.3l-0.5 -0.3l-0.5 0.9l-0.5 -2.6l-0.5 0l-0.5 -5.1l-0.5 6.3l-0.5 -0.3l-0.5 -0.6l-0.5 -7.3l-0.5 8.4l-0.5 -0.6l-0.5 0.1l-0.5 -0.6l-0.5 -0.1l-0.5 2.3l-0.5 13l-0.5 -14.9l-0.5 1.7l-0.5 1.4l-0.5 -15.3l-0.5 14.1l-0.5 0l-0.5 -2.2l-0.5 -0.5l-0.5 13.9l-0.5 0.1l-0.5 -12.3l-0.5 -2.1l-0.5 1l-0.5 0.3l-0.5 -0.2l-0.5 -0.3l-0.5 -2.5l-0.5 3l-0.5 0.7l-0.5 -3.1l-0.5 0.3l-0.5 2.1l-0.5 -2.9l-0.5 4.2l-0.5 0.5ZM439.25 247.4l0.25 0l0.5 1.1l0.5 -0.5l0.5 0l0.5 -0.8l0.5 -1.3l0.5 0l0.5 0.7l0.5 -0.2l0.5 3.9l0.5 0.6l0.5 -3.7l0.5 -0.2l0.5 -8.7l0.5 7.7l0.5 -8.1l0.5 10l0.5 0l0.5 0.8l0.5 -1l0.5 -0.2l0.5 -7.3l0.5 5.7l0.5 0.3l0.5 -0.4l0.5 1l0.5 0.6l0.5 -1.5l0.5 1.1l0.5 1l0.5 -1.8l0.5 -9.7l0.5 9.9l0.5 -0.1l0.5 0l0.5 0.9l0.5 -0.4l0.5 -11.8l0.5 12.7l0.5 -0.7l0.5 0l0.5 0.1l0.5 -0.2l0.5 1.4l0.5 -2.1l0.5 -0.2l0.5 -1.2l0.5 0l0.5 0.2l0.5 1.6l0.5 0l0.5 0l0.5 0l0.5 -8.1l0.5 8.6l0.5 0.9l0.5 -3.4l0.5 3.7l0.5 0.3l0.5 -9.5l0.5 8.8l0.5 -0.2l0.5 -1.3l0.5 0.4l0.5 -0.9l0.5 0l0.5 3.7l0.5 -5.2l0.5 5.7l0.5 -4.8l0.5 0l0.5 1.8l0.5 0.7l0.5 -4.1l0.5 -5.1l0.5 8.1l0.5 -0.8l0.5 0l0.25 0L478.25 264.5l-0.25 0l-0.5 1.8l-0.5 0.8l-0.5 -17.3l-0.5 14.2l-0.5 1.5l-0.5 -0.7l-0.5 -1.8l-0.5 1l-0.5 4.8l-0.5 2.6l-0.5 5.2l-0.5 -12.1l-0.5 0l-0.5 0.7l-0.5 -0.3l-0.5 1.2l-0.5 -2.5l-0.5 -13l-0.5 9.5l-0.5 -0.3l-0.5 -3.7l-0.5 2l-0.5 -1l-0.5 -8.5l-0.5 9.2l-0.5 0l-0.5 0l-0.5 0l-0.5 -2l-0.5 -0.2l-0.5 0l-0.5 0.9l-0.5 0.1l-0.5 2.2l-0.5 -1.4l-0.5 0.7l-0.5 -0.1l-0.5 0l-0.5 1.6l-0.5 -12.7l-0.5 19.9l-0.5 -7.7l-0.5 -2.3l-0.5 -0.1l-0.5 0.8l-0.5 -9.9l-0.5 9l-0.5 2.4l-0.5 14l-0.5 -1.1l-0.5 -12.7l-0.5 -0.5l-0.5 -3.1l-0.5 0.4l-0.5 -0.3l-0.5 -4.2l-0.5 6.4l-0.5 0.1l-0.5 2.2l-0.5 -0.8l-0.5 0l-0.5 -11.3l-0.5 8.2l-0.5 -7.8l-0.5 8.6l-0.5 0.2l-0.5 3.7l-0.5 0.1l-0.5 -4l-0.5 0.2l-0.5 -0.7l-0.5 -0.7l-0.5 1.4l-0.5 0.7l-0.5 0.7l-0.5 -0.9l-0.5 -0.9ZM518.75 247.9l0.25 0l0.5 1.7l0.5 3.3l0.5 -0.8l0.5 -3.3l0.5 0l0.5 -1.8l0.5 0l0.5 0.9l0.5 1.4l0.5 -11.6l0.5 12.1l0.5 -1l0.5 -10.2l0.5 9l0.5 1.2l0.5 0.5l0.5 -1.9l0.5 1.2l0.5 -0.5l0.5 0.1l0.5 12.3l0.5 -13.1l0.5 -0.1l0.5 1.1l0.5 -11.5l0.5 10.7l0.5 -0.9l0.5 0.8l0.5 -10.3l0.5 10.3l0.5 0.1l0.5 -1.2l0.5 -1.2l0.5 1.2l0.5 1.5l0.5 0.3l0.5 -0.1l0.5 0l0.5 -7.2l0.5 6.8l0.5 -0.1l0.5 0.9l0.5 0.1l0.5 1l0.5 -11.3l0.5 10.4l0.5 -2.8l0.5 0.2l0.5 1.7l0.5 0.5l0.5 12.4l0.5 0l0.5 0l0.5 0l0.5 0l0.5 0l0.5 -12l0.5 -0.2l0.5 -0.1l0.5 0l0.5 -2.2l0.5 0.6l0.5 -0.3l0.5 1.4l0.5 -1.2l0.5 -1.1l0.5 0l0.5 0.2l0.5 0.6l0.5 0.1l0.5 -1.4l0.5 1.4l0.5 0.2l0.5 2.8l0.5 -0.3l0.5 -7.6l0.5 7.7l0.25 0L557.75 256.0l-0.25 0l-0.5 -7.7l-0.5 8.7l-0.5 0.2l-0.5 -2.8l-0.5 0l-0.5 -1.2l-0.5 1l-0.5 -0.3l-0.5 -0.6l-0.5 -0.2l-0.5 -0.1l-0.5 1.2l-0.5 1.5l-0.5 -1.7l-0.5 0.8l-0.5 -0.2l-0.5 2.2l-0.5 0l-0.5 -0.2l-0.5 0.1l-0.5 24l-0.5 0l-0.5 0l-0.5 0l-0.5 0l-0.5 0l-0.5 -25.1l-0.5 -0.5l-0.5 -1.3l-0.5 -0.2l-0.5 2.4l-0.5 -10.4l-0.5 11.3l-0.5 0l-0.5 -0.2l-0.5 -0.8l-0.5 0l-0.5 -6.9l-0.5 7.2l-0.5 0l-0.5 -0.9l-0.5 -0.2l-0.5 -1.6l-0.5 -1.1l-0.5 1.5l-0.5 1.4l-0.5 0.3l-0.5 -10.2l-0.5 10.1l-0.5 -0.8l-0.5 0.9l-0.5 -13.9l-0.5 14.1l-0.5 -1.1l-0.5 -0.4l-0.5 27.2l-0.5 -26.4l-0.5 0.9l-0.5 0.5l-0.5 -1.2l-0.5 1.7l-0.5 -0.1l-0.5 1.5l-0.5 -9l-0.5 10.2l-0.5 -2l-0.5 -12.1l-0.5 11.6l-0.5 -1.6l-0.5 -1.7l-0.5 0l-0.5 2.5l-0.5 0l-0.5 3.3l-0.5 -0.1l-0.5 -3.2l-0.5 -1.8Z"/>
<path fill="#fd2f72" d="M200.75 225.7l0.25 0l0.5 -0.4l0.5 -1.3l0.5 -0.1l0.5 0l0.5 -3.7l0.5 3.3l0.5 0.2l0.5 0l0.5 0.1l0.5 0l0.5 -7.7l0.5 7.7l0.5 0l0.5 0.9l0.5 0l0.5 -0.2l0.5 -0.5l0.5 0l0.5 -0.2l0.5 0l0.5 1.2l0.5 -0.1l0.5 -0.5l0.5 -1l0.5 0.4l0.5 0.4l0.5 -0.2l0.5 0.2l0.5 -0.1l0.5 -0.9l0.5 1.6l0.5 -1.7l0.5 0.2l0.5 -0.2l0.5 2.2l0.5 -0.6l0.5 0.6l0.5 -1.8l0.5 -0.2l0.5 -0.4l0.5 0l0.5 1.8l0.5 1.4l0.5 -2.4l0.5 -0.5l0.5 0l0.5 -0.5l0.5 0.4l0.5 2.7l0.5 -1.9l0.5 1l0.5 -0.5l0.5 -0.1l0.5 -0.2l0.5 0l0.5 -1.8l0.5 1.4l0.5 -1.4l0.5 0.8l0.5 1.7l0.5 -1l0.5 0.3l0.5 -8.3l0.5 8.3l0.5 -0.4l0.5 -1.9l0.5 2.1l0.5 -0.4l0.5 -6.4l0.5 6l0.5 -0.3l0.5 0.6l0.5 0l0.5 1l0.5 -0.1l0.5 -0.7l0.5 -0.4l0.25 0L239.75 248.0l-0.25 0l-0.5 0.4l-0.5 -2.6l-0.5 0.1l-0.5 -1l-0.5 0l-0.5 2.6l-0.5 0.3l-0.5 -5.1l-0.5 6.4l-0.5 -12.5l-0.5 9.4l-0.5 1.3l-0.5 -1.8l-0.5 -8.2l-0.5 8.3l-0.5 1.3l-0.5 1l-0.5 0.9l-0.5 -0.9l-0.5 -6l-0.5 6l-0.5 0.3l-0.5 0l-0.5 0.2l-0.5 0.2l-0.5 0.5l-0.5 1.4l-0.5 -11.2l-0.5 10.7l-0.5 -0.8l-0.5 -2.4l-0.5 -0.1l-0.5 0.5l-0.5 -9.3l-0.5 10.3l-0.5 -2.3l-0.5 0l-0.5 0.4l-0.5 0.2l-0.5 1.6l-0.5 -0.6l-0.5 -4l-0.5 3.4l-0.5 -1.6l-0.5 -2l-0.5 -8.4l-0.5 4.4l-0.5 -1l-0.5 -1.6l-0.5 1.7l-0.5 0.2l-0.5 -0.4l-0.5 -4.1l-0.5 4l-0.5 0.5l-0.5 -0.7l-0.5 -1.3l-0.5 0l-0.5 -0.2l-0.5 0l-0.5 0.5l-0.5 0.3l-0.5 0.8l-0.5 -0.9l-0.5 0l-0.5 -7.7l-0.5 7.7l-0.5 0l-0.5 -0.2l-0.5 0l-0.5 -0.6l-0.5 -3.3l-0.5 3.7l-0.5 0l-0.5 -0.3l-0.5 1.4l-0.5 0.4ZM280.25 225.2l0.25 0l0.5 0.9l0.5 0l0.5 -2.2l0.5 1.8l0.5 -0.8l0.5 0.3l0.5 0l0.5 -0.2l0.5 -0.2l0.5 0.2l0.5 -0.5l0.5 0l0.5 -0.4l0.5 -0.5l0.5 1.4l0.5 0.9l0.5 -0.5l0.5 0l0.5 -0.9l0.5 0.1l0.5 0l0.5 -0.7l0.5 0.1l0.5 0.9l0.5 0l0.5 1.6l0.5 0.2l0.5 -0.6l0.5 -0.8l0.5 -0.6l0.5 -0.2l0.5 0.6l0.5 1.6l0.5 -1.3l0.5 0l0.5 -0.4l0.5 0l0.5 -9.9l0.5 9.2l0.5 0.9l0.5 -0.2l0.5 -0.2l0.5 -0.3l0.5 0.5l0.5 -0.2l0.5 -7.6l0.5 6.9l0.5 0.4l0.5 0.3l0.5 -0.9l0.5 0.5l0.5 1.2l0.5 -2l0.5 -1.5l0.5 2.9l0.5 0.3l0.5 -0.9l0.5 0l0.5 -3.9l0.5 4.4l0.5 0.1l0.5 -4.8l0.5 4.3l0.5 0.2l0.5 0.8l0.5 -1l0.5 0.4l0.5 -0.1l0.5 -0.1l0.5 -5l0.5 0.6l0.5 5.7l0.5 0.4l0.5 -1.2l0.5 -0.1l0.5 -1.1l0.5 0l0.25 0L319.25 244.9l-0.25 0l-0.5 -0.1l-0.5 0l-0.5 0.1l-0.5 0.9l-0.5 -0.3l-0.5 -3.7l-0.5 0.4l-0.5 5l-0.5 0.1l-0.5 -0.5l-0.5 -0.4l-0.5 -4.6l-0.5 4.3l-0.5 -0.2l-0.5 -6.4l-0.5 4.8l-0.5 -0.1l-0.5 -4.3l-0.5 5.6l-0.5 0l-0.5 0.6l-0.5 1l-0.5 -3l-0.5 1.6l-0.5 -0.1l-0.5 -1.2l-0.5 1l-0.5 0.8l-0.5 -0.3l-0.5 -0.4l-0.5 -9.1l-0.5 7.6l-0.5 0l-0.5 0l-0.5 0.3l-0.5 0.7l-0.5 1.4l-0.5 -0.9l-0.5 -9.2l-0.5 8.7l-0.5 0l-0.5 0.4l-0.5 0l-0.5 -5.9l-0.5 6l-0.5 -0.7l-0.5 -1.3l-0.5 0.5l-0.5 0.8l-0.5 0.6l-0.5 1.2l-0.5 -1.6l-0.5 -0.2l-0.5 -0.4l-0.5 -0.1l-0.5 0.7l-0.5 0l-0.5 0.5l-0.5 1l-0.5 -0.1l-0.5 0.5l-0.5 -1.3l-0.5 -1.4l-0.5 0.5l-0.5 0.4l-0.5 0l-0.5 0.1l-0.5 1.4l-0.5 0.1l-0.5 -1.2l-0.5 0l-0.5 -0.3l-0.5 0.7l-0.5 -1.8l-0.5 2.1l-0.5 0l-0.5 -0.9ZM360.25 227.7l0.25 0l0.5 0.4l0.5 -2.8l0.5 1.1l0.5 0.1l0.5 0.1l0.5 1.7l0.5 -0.7l0.5 0.2l0.5 0.1l0.5 0.3l0.5 0.1l0.5 -0.3l0.5 -2.4l0.5 2.1l0.5 -1.2l0.5 -1.8l0.5 -0.5l0.5 0.5l0.5 -0.4l0.5 -0.3l0.5 -8l0.5 8.4l0.5 0.5l0.5 -0.5l0.5 -12.3l0.5 11l0.5 0.5l0.5 0l0.5 0.5l0.5 0l0.5 0.3l0.5 -7.9l0.5 7.9l0.5 -0.4l0.5 0.4l0.5 -6.3l0.5 6.6l0.5 -0.1l0.5 -0.5l0.5 0l0.5 0.3l0.5 0.7l0.5 -0.6l0.5 0l0.5 -6.2l0.5 5.8l0.5 -0.7l0.5 -3.2l0.5 4.2l0.5 0.9l0.5 -1.6l0.5 -0.5l0.5 1.8l0.5 0.1l0.5 0l0.5 -1l0.5 -0.8l0.5 0l0.5 1.2l0.5 -0.6l0.5 0l0.5 1.5l0.5 -8.8l0.5 7.4l0.5 -0.6l0.5 0.6l0.5 0.1l0.5 -9.5l0.5 9.8l0.5 -0.7l0.5 0l0.5 -0.2l0.5 -0.8l0.5 0.6l0.5 -0.8l0.5 1.7l0.25 0L398.75 248.6l-0.25 0l-0.5 -4.3l-0.5 1.4l-0.5 -0.6l-0.5 0.9l-0.5 -1l-0.5 0l-0.5 1.7l-0.5 -9.8l-0.5 11.3l-0.5 -0.1l-0.5 -0.6l-0.5 0.6l-0.5 -8.7l-0.5 -1.2l-0.5 8.5l-0.5 0l-0.5 3l-0.5 -1.2l-0.5 0.1l-0.5 -0.6l-0.5 1l-0.5 0l-0.5 -0.1l-0.5 -0.1l-0.5 0.4l-0.5 -7.1l-0.5 5.9l-0.5 -4.2l-0.5 2.9l-0.5 0.2l-0.5 -5.9l-0.5 6.3l-0.5 -0.8l-0.5 -2.4l-0.5 5l-0.5 -0.3l-0.5 0l-0.5 -1.6l-0.5 0.1l-0.5 -6.6l-0.5 6.3l-0.5 -0.4l-0.5 0.4l-0.5 -7.2l-0.5 8.4l-0.5 -0.6l-0.5 0l-0.5 -0.5l-0.5 0l-0.5 2l-0.5 13l-0.5 -14.7l-0.5 0.4l-0.5 1.5l-0.5 -15.3l-0.5 14.9l-0.5 0l-0.5 -2.1l-0.5 -0.5l-0.5 1.2l-0.5 0.1l-0.5 1.3l-0.5 -2.1l-0.5 1l-0.5 0.3l-0.5 -0.3l-0.5 -0.4l-0.5 1.9l-0.5 -0.2l-0.5 0.7l-0.5 -3.1l-0.5 -0.1l-0.5 2.1l-0.5 -2.9l-0.5 4.2l-0.5 -0.3ZM439.25 225.0l0.25 0l0.5 1l0.5 0l0.5 0.1l0.5 -0.8l0.5 -0.5l0.5 -0.1l0.5 -0.1l0.5 -0.2l0.5 0l0.5 0.3l0.5 0.3l0.5 -0.2l0.5 -7.8l0.5 8.1l0.5 -9l0.5 10l0.5 0l0.5 -0.1l0.5 -1.1l0.5 -0.1l0.5 -4.6l0.5 5.7l0.5 0.3l0.5 -0.4l0.5 -0.9l0.5 0.2l0.5 -1.4l0.5 1l0.5 1.8l0.5 -1.9l0.5 -9.4l0.5 10.5l0.5 -0.2l0.5 0l0.5 -0.3l0.5 -0.5l0.5 -11l0.5 12.6l0.5 -0.7l0.5 0l0.5 0.8l0.5 -0.1l0.5 -0.3l0.5 -0.6l0.5 -0.1l0.5 -0.1l0.5 0l0.5 0.2l0.5 0.4l0.5 0l0.5 0l0.5 0l0.5 1.9l0.5 -1.2l0.5 -0.9l0.5 0.9l0.5 -0.6l0.5 -0.1l0.5 -9.5l0.5 9.8l0.5 -0.2l0.5 -1.2l0.5 0.3l0.5 0.2l0.5 0l0.5 -1.2l0.5 -6.2l0.5 5.8l0.5 1.2l0.5 0.1l0.5 -0.2l0.5 0.6l0.5 -4.1l0.5 -3.9l0.5 8.2l0.5 0.2l0.5 0l0.25 0L478.25 245.9l-0.25 0l-0.5 0l-0.5 0.8l-0.5 -8.1l-0.5 5.1l-0.5 4.1l-0.5 -0.7l-0.5 -1.8l-0.5 0l-0.5 4.8l-0.5 -5.7l-0.5 5.2l-0.5 -3.7l-0.5 0l-0.5 0.9l-0.5 -0.4l-0.5 1.3l-0.5 0.2l-0.5 -8.8l-0.5 9.5l-0.5 -0.3l-0.5 -3.7l-0.5 3.4l-0.5 -0.9l-0.5 -8.6l-0.5 8.1l-0.5 0l-0.5 0l-0.5 0l-0.5 -1.6l-0.5 -0.2l-0.5 0l-0.5 1.2l-0.5 0.2l-0.5 2.1l-0.5 -1.4l-0.5 0.2l-0.5 -0.1l-0.5 0l-0.5 0.7l-0.5 -12.7l-0.5 11.8l-0.5 0.4l-0.5 -0.9l-0.5 0l-0.5 0.1l-0.5 -9.9l-0.5 9.7l-0.5 1.8l-0.5 -1l-0.5 -1.1l-0.5 1.5l-0.5 -0.6l-0.5 -1l-0.5 0.4l-0.5 -0.3l-0.5 -5.7l-0.5 7.3l-0.5 0.2l-0.5 1l-0.5 -0.8l-0.5 0l-0.5 -10l-0.5 8.1l-0.5 -7.7l-0.5 8.7l-0.5 0.2l-0.5 3.7l-0.5 -0.6l-0.5 -3.9l-0.5 0.2l-0.5 -0.7l-0.5 0l-0.5 1.3l-0.5 0.8l-0.5 0l-0.5 0.5l-0.5 -1.1ZM518.75 229.4l0.25 0l0.5 -1.7l0.5 0.7l0.5 -0.8l0.5 0.5l0.5 0l0.5 -2l0.5 0l0.5 0.9l0.5 1.1l0.5 -11.6l0.5 12.1l0.5 -1l0.5 -9.7l0.5 9l0.5 0l0.5 0.5l0.5 -0.8l0.5 1.2l0.5 1.1l0.5 0.1l0.5 -23.5l0.5 22.8l0.5 -0.1l0.5 -0.2l0.5 -11.5l0.5 10.6l0.5 -0.9l0.5 1.7l0.5 -10.3l0.5 10.3l0.5 0.1l0.5 -1.4l0.5 -1.1l0.5 1.1l0.5 0.1l0.5 0.2l0.5 1.1l0.5 0l0.5 -6.7l0.5 6.8l0.5 -1l0.5 0.9l0.5 0l0.5 0.9l0.5 -11.3l0.5 10.4l0.5 -0.7l0.5 0.2l0.5 -0.4l0.5 -0.1l0.5 -11.3l0.5 0l0.5 0l0.5 0l0.5 0l0.5 0l0.5 11.5l0.5 0l0.5 -0.1l0.5 0l0.5 1.1l0.5 0.5l0.5 -0.3l0.5 -0.2l0.5 -1.1l0.5 -1.2l0.5 0l0.5 0l0.5 0.6l0.5 0.1l0.5 -0.4l0.5 1.5l0.5 0.2l0.5 1.2l0.5 -0.3l0.5 -8.4l0.5 7.8l0.25 0L557.75 249.3l-0.25 0l-0.5 -7.7l-0.5 7.6l-0.5 0.3l-0.5 -2.8l-0.5 -0.2l-0.5 -1.4l-0.5 1.4l-0.5 -0.1l-0.5 -0.6l-0.5 -0.2l-0.5 0l-0.5 1.1l-0.5 1.2l-0.5 -1.4l-0.5 0.3l-0.5 -0.6l-0.5 2.2l-0.5 0l-0.5 0.1l-0.5 0.2l-0.5 12l-0.5 0l-0.5 0l-0.5 0l-0.5 0l-0.5 0l-0.5 -12.4l-0.5 -0.5l-0.5 -1.7l-0.5 -0.2l-0.5 2.8l-0.5 -10.4l-0.5 11.3l-0.5 -1l-0.5 -0.1l-0.5 -0.9l-0.5 0.1l-0.5 -6.8l-0.5 7.2l-0.5 0l-0.5 0.1l-0.5 -0.3l-0.5 -1.5l-0.5 -1.2l-0.5 1.2l-0.5 1.2l-0.5 -0.1l-0.5 -10.3l-0.5 10.3l-0.5 -0.8l-0.5 0.9l-0.5 -10.7l-0.5 11.5l-0.5 -1.1l-0.5 0.1l-0.5 13.1l-0.5 -12.3l-0.5 -0.1l-0.5 0.5l-0.5 -1.2l-0.5 1.9l-0.5 -0.5l-0.5 -1.2l-0.5 -9l-0.5 10.2l-0.5 1l-0.5 -12.1l-0.5 11.6l-0.5 -1.4l-0.5 -0.9l-0.5 0l-0.5 1.8l-0.5 0l-0.5 3.3l-0.5 0.8l-0.5 -3.3l-0.5 -1.7Z"/>
<path fill="#a2a33a" d="M200.75 221.8l0.25 0l0.5 -0.3l0.5 -0.4l0.5 -0.1l0.5 0l0.5 -4l0.5 3.7l0.5 0.1l0.5 0l0.5 0l0.5 0l0.5 -7.8l0.5 7.9l0.5 0l0.5 0.6l0.5 0.2l0.5 -0.3l0.5 0.2l0.5 0l0.5 -0.2l0.5 0l0.5 -0.2l0.5 -0.1l0.5 0.2l0.5 -0.6l0.5 0.5l0.5 0.3l0.5 0.1l0.5 0.2l0.5 -0.2l0.5 -0.8l0.5 1.4l0.5 -2l0.5 -0.4l0.5 -0.1l0.5 2.1l0.5 -0.2l0.5 0.1l0.5 -1.8l0.5 -0.2l0.5 0.1l0.5 0l0.5 2.5l0.5 2.1l0.5 -3.4l0.5 -0.5l0.5 0l0.5 -0.5l0.5 0.2l0.5 2.4l0.5 -1.3l0.5 0.2l0.5 -0.5l0.5 -0.1l0.5 0.1l0.5 0l0.5 -1.8l0.5 1.4l0.5 -0.4l0.5 -0.4l0.5 1.7l0.5 -0.8l0.5 0.3l0.5 -8.3l0.5 7.9l0.5 -0.4l0.5 -1.9l0.5 2.2l0.5 0l0.5 -6.4l0.5 6l0.5 -0.4l0.5 0.7l0.5 0l0.5 0.7l0.5 -0.1l0.5 -0.7l0.5 0.1l0.25 0L239.75 223.2l-0.25 0l-0.5 0.4l-0.5 0.7l-0.5 0.1l-0.5 -1l-0.5 0l-0.5 -0.6l-0.5 0.3l-0.5 -6l-0.5 6.4l-0.5 0.4l-0.5 -2.1l-0.5 1.9l-0.5 0.4l-0.5 -8.3l-0.5 8.3l-0.5 -0.3l-0.5 1l-0.5 -1.7l-0.5 -0.8l-0.5 1.4l-0.5 -1.4l-0.5 1.8l-0.5 0l-0.5 0.2l-0.5 0.1l-0.5 0.5l-0.5 -1l-0.5 1.9l-0.5 -2.7l-0.5 -0.4l-0.5 0.5l-0.5 0l-0.5 0.5l-0.5 2.4l-0.5 -1.4l-0.5 -1.8l-0.5 0l-0.5 0.4l-0.5 0.2l-0.5 1.8l-0.5 -0.6l-0.5 0.6l-0.5 -2.2l-0.5 0.2l-0.5 -0.2l-0.5 1.7l-0.5 -1.6l-0.5 0.9l-0.5 0.1l-0.5 -0.2l-0.5 0.2l-0.5 -0.4l-0.5 -0.4l-0.5 1l-0.5 0.5l-0.5 0.1l-0.5 -1.2l-0.5 0l-0.5 0.2l-0.5 0l-0.5 0.5l-0.5 0.2l-0.5 0l-0.5 -0.9l-0.5 0l-0.5 -7.7l-0.5 7.7l-0.5 0l-0.5 -0.1l-0.5 0l-0.5 -0.2l-0.5 -3.3l-0.5 3.7l-0.5 0l-0.5 0.1l-0.5 1.3l-0.5 0.4ZM280.25 221.6l0.25 0l0.5 0.9l0.5 0l0.5 -2.2l0.5 0.9l0.5 0.4l0.5 -0.2l0.5 -0.6l0.5 -0.3l0.5 -0.1l0.5 0.4l0.5 -0.6l0.5 0l0.5 -0.5l0.5 -0.5l0.5 1.4l0.5 0.2l0.5 0.3l0.5 0l0.5 -0.9l0.5 0.1l0.5 0l0.5 -0.7l0.5 -0.3l0.5 0.9l0.5 -0.2l0.5 0.7l0.5 0.1l0.5 0.2l0.5 0.4l0.5 -0.6l0.5 -0.3l0.5 0.7l0.5 1.7l0.5 -2l0.5 0l0.5 -0.4l0.5 0l0.5 -9.3l0.5 9.3l0.5 0.1l0.5 -0.2l0.5 0.1l0.5 -0.4l0.5 0.5l0.5 0.2l0.5 -8l0.5 6.8l0.5 0.2l0.5 0.3l0.5 0.5l0.5 0.5l0.5 -0.2l0.5 -2l0.5 0.5l0.5 1.2l0.5 0.2l0.5 -0.9l0.5 0l0.5 -4l0.5 5.2l0.5 -0.8l0.5 -4.7l0.5 4.3l0.5 0.2l0.5 1l0.5 -1l0.5 0.3l0.5 -0.1l0.5 -0.1l0.5 -5.1l0.5 0.7l0.5 5.2l0.5 0.4l0.5 -1.2l0.5 -0.1l0.5 0.2l0.5 0.1l0.25 0L319.25 224.0l-0.25 0l-0.5 0l-0.5 1.1l-0.5 0.1l-0.5 1.2l-0.5 -0.4l-0.5 -5.7l-0.5 -0.6l-0.5 5l-0.5 0.1l-0.5 0.1l-0.5 -0.4l-0.5 1l-0.5 -0.8l-0.5 -0.2l-0.5 -4.3l-0.5 4.8l-0.5 -0.1l-0.5 -4.4l-0.5 3.9l-0.5 0l-0.5 0.9l-0.5 -0.3l-0.5 -2.9l-0.5 1.5l-0.5 2l-0.5 -1.2l-0.5 -0.5l-0.5 0.9l-0.5 -0.3l-0.5 -0.4l-0.5 -6.9l-0.5 7.6l-0.5 0.2l-0.5 -0.5l-0.5 0.3l-0.5 0.2l-0.5 0.2l-0.5 -0.9l-0.5 -9.2l-0.5 9.9l-0.5 0l-0.5 0.4l-0.5 0l-0.5 1.3l-0.5 -1.6l-0.5 -0.6l-0.5 0.2l-0.5 0.6l-0.5 0.8l-0.5 0.6l-0.5 -0.2l-0.5 -1.6l-0.5 0l-0.5 -0.9l-0.5 -0.1l-0.5 0.7l-0.5 0l-0.5 -0.1l-0.5 0.9l-0.5 0l-0.5 0.5l-0.5 -0.9l-0.5 -1.4l-0.5 0.5l-0.5 0.4l-0.5 0l-0.5 0.5l-0.5 -0.2l-0.5 0.2l-0.5 0.2l-0.5 0l-0.5 -0.3l-0.5 0.8l-0.5 -1.8l-0.5 2.2l-0.5 0l-0.5 -0.9ZM360.25 219.9l0.25 0l0.5 0.3l0.5 0.7l0.5 -1l0.5 0.1l0.5 1.9l0.5 -1.2l0.5 -0.7l0.5 0.2l0.5 0.1l0.5 -0.1l0.5 0l0.5 0.2l0.5 0.7l0.5 -1l0.5 -0.9l0.5 0.3l0.5 1.6l0.5 0.3l0.5 -0.4l0.5 -0.3l0.5 -7.6l0.5 7.5l0.5 0.3l0.5 0.4l0.5 -12.3l0.5 10.9l0.5 0.4l0.5 0l0.5 0.8l0.5 0l0.5 0.3l0.5 -8.2l0.5 7.9l0.5 0.1l0.5 0.4l0.5 -6.7l0.5 6.7l0.5 -0.1l0.5 -0.5l0.5 0l0.5 -1l0.5 1.7l0.5 -0.6l0.5 0.5l0.5 -6.8l0.5 5.8l0.5 0.2l0.5 -3.6l0.5 3.3l0.5 1.7l0.5 -1.6l0.5 -1.1l0.5 1.8l0.5 0.2l0.5 0l0.5 -1.2l0.5 -0.8l0.5 0l0.5 1.2l0.5 -0.5l0.5 -0.1l0.5 2.4l0.5 -8.8l0.5 7.3l0.5 0.2l0.5 0l0.5 0.1l0.5 -9.5l0.5 9.8l0.5 -1l0.5 0l0.5 -0.2l0.5 -0.9l0.5 0.2l0.5 0.5l0.5 0.4l0.25 0L398.75 224.2l-0.25 0l-0.5 -1.7l-0.5 0.8l-0.5 -0.6l-0.5 0.8l-0.5 0.2l-0.5 0l-0.5 0.7l-0.5 -9.8l-0.5 9.5l-0.5 -0.1l-0.5 -0.6l-0.5 0.6l-0.5 -7.4l-0.5 8.8l-0.5 -1.5l-0.5 0l-0.5 0.6l-0.5 -1.2l-0.5 0l-0.5 0.8l-0.5 1l-0.5 0l-0.5 -0.1l-0.5 -1.8l-0.5 0.5l-0.5 1.6l-0.5 -0.9l-0.5 -4.2l-0.5 3.2l-0.5 0.7l-0.5 -5.8l-0.5 6.2l-0.5 0l-0.5 0.6l-0.5 -0.7l-0.5 -0.3l-0.5 0l-0.5 0.5l-0.5 0.1l-0.5 -6.6l-0.5 6.3l-0.5 -0.4l-0.5 0.4l-0.5 -7.9l-0.5 7.9l-0.5 -0.3l-0.5 0l-0.5 -0.5l-0.5 0l-0.5 -0.5l-0.5 -11l-0.5 12.3l-0.5 0.5l-0.5 -0.5l-0.5 -8.4l-0.5 8l-0.5 0.3l-0.5 0.4l-0.5 -0.5l-0.5 0.5l-0.5 1.8l-0.5 1.2l-0.5 -2.1l-0.5 2.4l-0.5 0.3l-0.5 -0.1l-0.5 -0.3l-0.5 -0.1l-0.5 -0.2l-0.5 0.7l-0.5 -1.7l-0.5 -0.1l-0.5 -0.1l-0.5 -1.1l-0.5 2.8l-0.5 -0.4ZM439.25 220.0l0.25 0l0.5 0.8l0.5 0l0.5 0.1l0.5 -0.8l0.5 0.5l0.5 -0.1l0.5 -0.1l0.5 0.8l0.5 -1.1l0.5 0.3l0.5 0.3l0.5 -0.2l0.5 -7.9l0.5 8.1l0.5 -9l0.5 9.6l0.5 0l0.5 -0.2l0.5 -1l0.5 0.1l0.5 -4.6l0.5 5.7l0.5 -0.1l0.5 0.1l0.5 -0.8l0.5 -0.2l0.5 -0.7l0.5 0.3l0.5 1.8l0.5 -0.1l0.5 -10.9l0.5 10.4l0.5 -0.4l0.5 0l0.5 -0.4l0.5 -0.5l0.5 -8.6l0.5 10.1l0.5 -1.3l0.5 0l0.5 0.8l0.5 0.1l0.5 -0.3l0.5 0.7l0.5 -0.2l0.5 -0.1l0.5 0l0.5 -0.1l0.5 0.4l0.5 0l0.5 0l0.5 -1l0.5 1.9l0.5 -1.2l0.5 -0.1l0.5 0.9l0.5 -0.9l0.5 -0.1l0.5 -9.5l0.5 9.5l0.5 -0.1l0.5 0.5l0.5 -0.6l0.5 0.1l0.5 0l0.5 -1.5l0.5 -6.2l0.5 6.6l0.5 1.3l0.5 0.1l0.5 -0.7l0.5 0.7l0.5 -4.1l0.5 -3.9l0.5 7.1l0.5 0.2l0.5 0l0.25 0L478.25 225.7l-0.25 0l-0.5 0l-0.5 -0.2l-0.5 -8.2l-0.5 3.9l-0.5 4.1l-0.5 -0.6l-0.5 0.2l-0.5 -0.1l-0.5 -1.2l-0.5 -5.8l-0.5 6.2l-0.5 1.2l-0.5 0l-0.5 -0.2l-0.5 -0.3l-0.5 1.2l-0.5 0.2l-0.5 -9.8l-0.5 9.5l-0.5 0.1l-0.5 0.6l-0.5 -0.9l-0.5 0.9l-0.5 1.2l-0.5 -1.9l-0.5 0l-0.5 0l-0.5 0l-0.5 -0.4l-0.5 -0.2l-0.5 0l-0.5 0.1l-0.5 0.1l-0.5 0.6l-0.5 0.3l-0.5 0.1l-0.5 -0.8l-0.5 0l-0.5 0.7l-0.5 -12.6l-0.5 11l-0.5 0.5l-0.5 0.3l-0.5 0l-0.5 0.2l-0.5 -10.5l-0.5 9.4l-0.5 1.9l-0.5 -1.8l-0.5 -1l-0.5 1.4l-0.5 -0.2l-0.5 0.9l-0.5 0.4l-0.5 -0.3l-0.5 -5.7l-0.5 4.6l-0.5 0.1l-0.5 1.1l-0.5 0.1l-0.5 0l-0.5 -10l-0.5 9l-0.5 -8.1l-0.5 7.8l-0.5 0.2l-0.5 -0.3l-0.5 -0.3l-0.5 0l-0.5 0.2l-0.5 0.1l-0.5 0.1l-0.5 0.5l-0.5 0.8l-0.5 -0.1l-0.5 0l-0.5 -1ZM518.75 222.3l0.25 0l0.5 -0.2l0.5 -1l0.5 -0.8l0.5 0.5l0.5 0l0.5 0.3l0.5 0l0.5 -0.5l0.5 -0.6l0.5 -11.5l0.5 12.2l0.5 0.2l0.5 -9.6l0.5 10.4l0.5 -0.1l0.5 0l0.5 1.1l0.5 -0.7l0.5 -0.1l0.5 0.1l0.5 -23.5l0.5 22.7l0.5 0l0.5 -0.3l0.5 -10.3l0.5 10.7l0.5 0.6l0.5 -0.4l0.5 -10.2l0.5 10.2l0.5 0l0.5 -0.3l0.5 0.6l0.5 -0.5l0.5 -0.5l0.5 0.2l0.5 0.5l0.5 0l0.5 -6.7l0.5 6.7l0.5 0.2l0.5 0.8l0.5 0l0.5 0.4l0.5 -11.3l0.5 10.4l0.5 -0.7l0.5 0l0.5 -0.4l0.5 -0.1l0.5 -24.1l0.5 0l0.5 0l0.5 0l0.5 0l0.5 0l0.5 25.5l0.5 0l0.5 -0.1l0.5 0l0.5 0.4l0.5 0.5l0.5 -0.3l0.5 -0.3l0.5 0.1l0.5 -1.2l0.5 0l0.5 0l0.5 -0.3l0.5 0.1l0.5 -0.4l0.5 1.2l0.5 -0.1l0.5 1.3l0.5 0.1l0.5 -8.4l0.5 7.4l0.25 0L557.75 228.2l-0.25 0l-0.5 -7.8l-0.5 8.4l-0.5 0.3l-0.5 -1.2l-0.5 -0.2l-0.5 -1.5l-0.5 0.4l-0.5 -0.1l-0.5 -0.6l-0.5 0l-0.5 0l-0.5 1.2l-0.5 1.1l-0.5 0.2l-0.5 0.3l-0.5 -0.5l-0.5 -1.1l-0.5 0l-0.5 0.1l-0.5 0l-0.5 -11.5l-0.5 0l-0.5 0l-0.5 0l-0.5 0l-0.5 0l-0.5 11.3l-0.5 0.1l-0.5 0.4l-0.5 -0.2l-0.5 0.7l-0.5 -10.4l-0.5 11.3l-0.5 -0.9l-0.5 0l-0.5 -0.9l-0.5 1l-0.5 -6.8l-0.5 6.7l-0.5 0l-0.5 -1.1l-0.5 -0.2l-0.5 -0.1l-0.5 -1.1l-0.5 1.1l-0.5 1.4l-0.5 -0.1l-0.5 -10.3l-0.5 10.3l-0.5 -1.7l-0.5 0.9l-0.5 -10.6l-0.5 11.5l-0.5 0.2l-0.5 0.1l-0.5 -22.8l-0.5 23.5l-0.5 -0.1l-0.5 -1.1l-0.5 -1.2l-0.5 0.8l-0.5 -0.5l-0.5 0l-0.5 -9l-0.5 9.7l-0.5 1l-0.5 -12.1l-0.5 11.6l-0.5 -1.1l-0.5 -0.9l-0.5 0l-0.5 2l-0.5 0l-0.5 -0.5l-0.5 0.8l-0.5 -0.7l-0.5 1.7Z"/>
<path fill="#5c4e15" d="M129.25 221.3l0.25 0l0.5 -0.6l0.5 -0.2l0.5 -0.3l0.5 0l0.5 0.1l0.5 -0.3l0.5 -0.4l0.5 -1.4l0.5 0.6l0.5 -0.8l0.5 -0.1l0.5 -0.7l0.5 -2.8l0.5 -0.3l0.5 1.9l0.5 -0.6l0.5 -0.3l0.5 -0.1l0.5 -0.4l0.5 -0.6l0.5 -0.3l0.5 -0.5l0.5 0.1l0.5 -0.2l0.5 0.3l0.5 -0.4l0.5 0l0.5 0.4l0.5 -1.4l0.5 -0.1l0.5 0.6l0.5 -0.4l0.5 -0.1l0.5 0.2l0.5 -0.8l0.5 0.1l0.5 0.2l0.5 0.1l0.5 1.2l0.5 -4.2l0.5 0.1l0.5 -0.1l0.5 3.2l0.5 0.3l0.5 0l0.5 0l0.5 0l0.5 0.4l0.5 0.2l0.5 0l0.5 -0.4l0.5 0l0.5 -0.7l0.5 -0.4l0.5 5.2l0.5 -2.1l0.5 -2.4l0.5 -0.1l0.5 0.1l0.5 0.9l0.5 0.1l0.5 0.1l0.5 0.3l0.5 -0.8l0.5 0l0.5 -0.1l0.5 0.2l0.5 -0.4l0.5 -0.2l0.5 -0.1l0.5 -0.7l0.5 0.2l0.5 0.4l0.5 0.4l0.5 -0.9l0.5 -1.1l0.5 0.3l0.5 -0.6l0.5 1.6l0.5 -0.2l0.5 2.8l0.5 -2.5l0.5 -0.7l0.5 0.8l0.5 0.2l0.5 -0.6l0.5 0.3l0.5 0.1l0.5 -4l0.5 4.6l0.5 0.1l0.5 0l0.5 0.2l0.5 -4.2l0.5 3.9l0.5 3l0.5 -2.6l0.5 -1.2l0.5 1l0.5 -0.2l0.5 0.3l0.5 -0.1l0.5 -0.3l0.5 0.5l0.5 4.1l0.5 -4l0.5 -1.9l0.5 1.9l0.5 0.1l0.5 -0.1l0.5 0l0.5 -3.6l0.5 3.5l0.5 -0.1l0.5 -0.5l0.5 0.1l0.5 0.3l0.5 0l0.5 0.2l0.5 0.8l0.5 0l0.5 -0.5l0.5 -0.5l0.5 -3.1l0.5 3.2l0.5 -0.2l0.5 -0.1l0.5 -0.4l0.5 0.9l0.5 0.6l0.5 0l0.5 -0.9l0.5 0.7l0.5 -0.9l0.5 0.5l0.5 -0.1l0.5 0l0.5 -0.7l0.5 -3.4l0.5 3.5l0.5 0l0.5 -2.3l0.25 0L200.75 240.4l-0.25 0l-0.5 -2.5l-0.5 -0.8l-0.5 -3.6l-0.5 2.9l-0.5 0.7l-0.5 0l-0.5 0.2l-0.5 0.8l-0.5 -0.2l-0.5 -0.7l-0.5 0.9l-0.5 0l-0.5 -0.5l-0.5 -0.6l-0.5 0.4l-0.5 0l-0.5 0.2l-0.5 -3.1l-0.5 3.1l-0.5 0.6l-0.5 -0.6l-0.5 0l-0.5 -0.8l-0.5 0.3l-0.5 0l-0.5 0.3l-0.5 0l-0.5 0.4l-0.5 -0.4l-0.5 -3.5l-0.5 3.9l-0.5 0l-0.5 0.1l-0.5 -0.4l-0.5 -1.8l-0.5 1.9l-0.5 -4.5l-0.5 4.5l-0.5 -0.5l-0.5 0.3l-0.5 0.1l-0.5 0.4l-0.5 0.1l-0.5 -0.9l-0.5 0.5l-0.5 -4.6l-0.5 3.7l-0.5 -4l-0.5 4.5l-0.5 -0.2l-0.5 0l-0.5 0.2l-0.5 -2.7l-0.5 3.8l-0.5 0.3l-0.5 0l-0.5 -0.8l-0.5 0.2l-0.5 -0.5l-0.5 1l-0.5 -2.9l-0.5 4.3l-0.5 0.2l-0.5 -0.4l-0.5 0.9l-0.5 1l-0.5 -6.5l-0.5 -0.5l-0.5 7.2l-0.5 1.1l-0.5 1.2l-0.5 -0.3l-0.5 0.2l-0.5 0.3l-0.5 0l-0.5 -0.1l-0.5 -2.2l-0.5 1.5l-0.5 0.5l-0.5 0.4l-0.5 -0.1l-0.5 -0.3l-0.5 -1.3l-0.5 -0.3l-0.5 -0.2l-0.5 -2.8l-0.5 -3.6l-0.5 5.1l-0.5 0.7l-0.5 0.4l-0.5 -0.3l-0.5 -1.6l-0.5 -0.2l-0.5 -0.5l-0.5 1.1l-0.5 -0.3l-0.5 -0.3l-0.5 -0.4l-0.5 -0.1l-0.5 4.3l-0.5 -0.4l-0.5 -0.5l-0.5 -6.2l-0.5 0.5l-0.5 -0.4l-0.5 -0.2l-0.5 -9.7l-0.5 8.4l-0.5 -0.6l-0.5 -0.2l-0.5 0l-0.5 0.6l-0.5 -0.2l-0.5 -0.9l-0.5 -0.7l-0.5 1.1l-0.5 -1.3l-0.5 -0.6l-0.5 -0.1l-0.5 0.1l-0.5 0.1l-0.5 -1.5l-0.5 0.4l-0.5 -0.3l-0.5 0l-0.5 -0.4l-0.5 -0.2l-0.5 -10.2l-0.5 -0.3l-0.5 9.3l-0.5 0.5l-0.5 -1.2l-0.5 0.1l-0.5 -1.3l-0.5 0l-0.5 -0.3l-0.5 -0.3l-0.5 -0.5l-0.5 -0.7l-0.5 -0.3l-0.5 -0.5l-0.5 -0.2ZM239.75 209.1l0.25 0l0.5 0.7l0.5 0.6l0.5 -0.3l0.5 0.6l0.5 -0.5l0.5 -0.1l0.5 1.1l0.5 0.4l0.5 0.3l0.5 -0.1l0.5 -0.1l0.5 -2l0.5 0.3l0.5 0.7l0.5 -0.2l0.5 0l0.5 1l0.5 0.5l0.5 -1.3l0.5 1l0.5 -0.9l0.5 0.5l0.5 -0.6l0.5 -0.7l0.5 0l0.5 1l0.5 0l0.5 0l0.5 -0.2l0.5 0.5l0.5 0.1l0.5 -0.1l0.5 0l0.5 -0.1l0.5 -0.1l0.5 0l0.5 0l0.5 0.4l0.5 0.2l0.5 0l0.5 0l0.5 -1l0.5 0.5l0.5 0l0.5 -0.1l0.5 0.7l0.5 0l0.5 0l0.5 -1.6l0.5 -7l0.5 0.3l0.5 1.7l0.5 5.4l0.5 0.3l0.5 -7.4l0.5 7.1l0.5 0.5l0.5 -0.5l0.5 0.7l0.5 -0.3l0.5 -3.7l0.5 3.5l0.5 -0.4l0.5 0.5l0.5 0l0.5 0.6l0.5 -0.5l0.5 -0.5l0.5 0.3l0.5 -0.4l0.5 0.8l0.5 -1.1l0.5 1l0.5 -0.1l0.5 0.6l0.5 -0.2l0.5 -0.4l0.5 0.8l0.5 0.5l0.5 -0.9l0.25 0L280.25 243.8l-0.25 0l-0.5 -0.2l-0.5 0.6l-0.5 -0.8l-0.5 0l-0.5 -0.3l-0.5 1.5l-0.5 0.1l-0.5 0.8l-0.5 -2.5l-0.5 1l-0.5 0.4l-0.5 -0.3l-0.5 0.6l-0.5 -1.1l-0.5 0.5l-0.5 0l-0.5 -0.4l-0.5 -0.4l-0.5 4.8l-0.5 -4.7l-0.5 0.4l-0.5 0.9l-0.5 0.5l-0.5 -0.5l-0.5 -7l-0.5 5.8l-0.5 -0.3l-0.5 -5.4l-0.5 1.5l-0.5 -0.3l-0.5 7l-0.5 -3.4l-0.5 0l-0.5 0l-0.5 0.9l-0.5 0.1l-0.5 0l-0.5 -0.5l-0.5 1.6l-0.5 0l-0.5 0l-0.5 -0.1l-0.5 0.7l-0.5 0.1l-0.5 0l-0.5 -0.8l-0.5 -0.6l-0.5 0l-0.5 0.1l-0.5 -0.1l-0.5 0.1l-0.5 0.2l-0.5 0l-0.5 -0.2l-0.5 0.8l-0.5 0l-0.5 -1.2l-0.5 0.7l-0.5 -0.5l-0.5 0.9l-0.5 0.8l-0.5 -2.5l-0.5 0.3l-0.5 1.2l-0.5 0l-0.5 0.2l-0.5 0.4l-0.5 -0.2l-0.5 -0.1l-0.5 0.1l-0.5 0.1l-0.5 -0.2l-0.5 0.6l-0.5 -1l-0.5 0.1l-0.5 0.5l-0.5 1.1l-0.5 0.3l-0.5 -0.6l-0.5 -0.6ZM319.25 211.6l0.25 0l0.5 0l0.5 0l0.5 -0.8l0.5 -7.9l0.5 6.9l0.5 -0.5l0.5 0.5l0.5 1.4l0.5 0.3l0.5 -1.1l0.5 1l0.5 -0.9l0.5 0l0.5 0l0.5 -0.1l0.5 0.1l0.5 -0.2l0.5 -0.3l0.5 0l0.5 0l0.5 -0.9l0.5 0.9l0.5 -0.6l0.5 1.2l0.5 -0.1l0.5 -0.4l0.5 1.3l0.5 0.5l0.5 -0.2l0.5 0l0.5 -2.3l0.5 0.1l0.5 0.4l0.5 1.1l0.5 0.2l0.5 0.2l0.5 0.1l0.5 0l0.5 -0.8l0.5 0.8l0.5 -2.8l0.5 2.2l0.5 0l0.5 0.1l0.5 -0.2l0.5 0.3l0.5 0.5l0.5 -1.1l0.5 0l0.5 0l0.5 0.1l0.5 1.3l0.5 -0.2l0.5 0.1l0.5 -0.2l0.5 -0.2l0.5 -0.4l0.5 0l0.5 0l0.5 -0.1l0.5 0l0.5 -0.1l0.5 -0.4l0.5 0.4l0.5 0l0.5 -0.2l0.5 0.1l0.5 0.3l0.5 0l0.5 -3l0.5 2.5l0.5 -0.1l0.5 -3.3l0.5 3.3l0.5 -0.1l0.5 0.2l0.5 0l0.5 0.2l0.5 -0.1l0.5 0l0.5 0l0.25 0L360.25 246.1l-0.25 0l-0.5 0.1l-0.5 0l-0.5 0.2l-0.5 -0.1l-0.5 0.1l-0.5 -0.2l-0.5 -0.2l-0.5 -3.2l-0.5 3.3l-0.5 -1.1l-0.5 -10.9l-0.5 11.3l-0.5 0l-0.5 1l-0.5 -0.1l-0.5 0.1l-0.5 0l-0.5 -0.4l-0.5 0.3l-0.5 0.1l-0.5 0l-0.5 -0.9l-0.5 0l-0.5 -0.1l-0.5 0.5l-0.5 1.3l-0.5 -0.2l-0.5 0l-0.5 0.1l-0.5 -1.3l-0.5 0.8l-0.5 0l-0.5 0l-0.5 -1.4l-0.5 1l-0.5 0.6l-0.5 0.1l-0.5 0l-0.5 -0.1l-0.5 -3.2l-0.5 2.8l-0.5 1l-0.5 -1.8l-0.5 0.1l-0.5 -0.2l-0.5 0.8l-0.5 -0.1l-0.5 1.1l-0.5 -0.3l-0.5 -0.1l-0.5 -0.7l-0.5 0l-0.5 0.3l-0.5 -0.5l-0.5 1.6l-0.5 -0.5l-0.5 0.2l-0.5 -1.1l-0.5 0.6l-0.5 1.1l-0.5 0.9l-0.5 0l-0.5 0l-0.5 -2.4l-0.5 0.2l-0.5 -0.2l-0.5 -0.1l-0.5 0l-0.5 0.1l-0.5 0.8l-0.5 1l-0.5 -1.1l-0.5 -0.2l-0.5 -0.8l-0.5 0.8l-0.5 0.6l-0.5 -7.8l-0.5 7.9l-0.5 -1.5l-0.5 0l-0.5 0ZM398.75 210.1l0.25 0l0.5 -1.5l0.5 0l0.5 0.8l0.5 0.2l0.5 0.2l0.5 0.3l0.5 -0.1l0.5 0.1l0.5 -0.1l0.5 -0.1l0.5 -5.5l0.5 6.6l0.5 -0.3l0.5 0.3l0.5 -0.9l0.5 0.9l0.5 -4.8l0.5 3.9l0.5 0.5l0.5 -0.1l0.5 -1.3l0.5 0l0.5 -0.1l0.5 0l0.5 -0.1l0.5 -0.1l0.5 0.2l0.5 -0.8l0.5 -0.2l0.5 1.4l0.5 1.1l0.5 0l0.5 -0.2l0.5 -0.1l0.5 -0.3l0.5 0l0.5 0l0.5 0.1l0.5 0l0.5 0.1l0.5 -0.8l0.5 0.4l0.5 0l0.5 -0.5l0.5 0.4l0.5 0.5l0.5 -0.3l0.5 -0.3l0.5 0.1l0.5 0.1l0.5 0.1l0.5 -0.3l0.5 0.7l0.5 0.3l0.5 0l0.5 -0.4l0.5 -1l0.5 1.5l0.5 0.1l0.5 0.5l0.5 -0.9l0.5 0l0.5 0.2l0.5 -0.7l0.5 0.4l0.5 -0.5l0.5 0.5l0.5 0.2l0.5 5.7l0.5 -5.8l0.5 0.1l0.5 -0.3l0.5 4.1l0.5 -4l0.5 0.1l0.5 0l0.5 -0.4l0.5 -0.6l0.5 0l0.5 0.5l0.25 0L439.25 247.4l-0.25 0l-0.5 -0.4l-0.5 0l-0.5 -0.8l-0.5 0.5l-0.5 -0.1l-0.5 0l-0.5 -5.4l-0.5 5.8l-0.5 -1.1l-0.5 0l-0.5 -7.5l-0.5 7.5l-0.5 0.4l-0.5 -0.6l-0.5 0.6l-0.5 -0.5l-0.5 1l-0.5 -0.2l-0.5 0l-0.5 1l-0.5 1.2l-0.5 0l-0.5 -1.5l-0.5 1l-0.5 0.2l-0.5 0l-0.5 -0.5l-0.5 -0.7l-0.5 -0.2l-0.5 -0.1l-0.5 0l-0.5 0.2l-0.5 0.3l-0.5 0.3l-0.5 0.8l-0.5 -0.7l-0.5 -0.9l-0.5 0l-0.5 -0.4l-0.5 0.8l-0.5 0.6l-0.5 0l-0.5 0l-0.5 -0.3l-0.5 0.1l-0.5 -0.9l-0.5 0.1l-0.5 0.2l-0.5 0l-0.5 1.4l-0.5 -1.4l-0.5 0.2l-0.5 -0.9l-0.5 -0.2l-0.5 1.6l-0.5 0.1l-0.5 -0.8l-0.5 0l-0.5 0l-0.5 -1.6l-0.5 0.1l-0.5 1.6l-0.5 -3.9l-0.5 4.9l-0.5 0.7l-0.5 -1.4l-0.5 -0.3l-0.5 0.3l-0.5 -8l-0.5 9.5l-0.5 0.1l-0.5 0l-0.5 -2.1l-0.5 0l-0.5 -0.3l-0.5 -0.1l-0.5 -0.3l-0.5 1l-0.5 0l-0.5 -1.5ZM478.25 208.2l0.25 0l0.5 0.3l0.5 1.3l0.5 -0.1l0.5 1.2l0.5 -0.2l0.5 -0.6l0.5 -0.2l0.5 3.6l0.5 -4.5l0.5 0.5l0.5 -0.2l0.5 0.5l0.5 0l0.5 -1.4l0.5 1.4l0.5 -0.1l0.5 -0.7l0.5 -0.5l0.5 0.5l0.5 1l0.5 -1l0.5 0.7l0.5 -0.1l0.5 -0.3l0.5 0.2l0.5 -0.2l0.5 0.5l0.5 -0.1l0.5 -0.1l0.5 -0.1l0.5 0l0.5 -0.2l0.5 -0.5l0.5 0.4l0.5 -1.3l0.5 0l0.5 0.5l0.5 0l0.5 -0.2l0.5 0l0.5 0.3l0.5 0.6l0.5 0l0.5 -0.1l0.5 0.6l0.5 0l0.5 0l0.5 0.3l0.5 -1l0.5 -0.2l0.5 5.9l0.5 -5.1l0.5 -0.1l0.5 -0.3l0.5 -0.2l0.5 -0.1l0.5 0.4l0.5 0l0.5 -0.5l0.5 -0.6l0.5 0.6l0.5 -0.2l0.5 4.1l0.5 -5.4l0.5 0.1l0.5 0.5l0.5 0.7l0.5 -0.1l0.5 0.1l0.5 -0.3l0.5 -0.9l0.5 0.3l0.5 1.2l0.5 -0.2l0.5 1.9l0.5 -0.4l0.5 -2l0.5 0.5l0.5 -0.1l0.5 -0.2l0.25 0L518.75 247.9l-0.25 0l-0.5 0.1l-0.5 0.1l-0.5 0.3l-0.5 -1.5l-0.5 0.4l-0.5 1.4l-0.5 -0.4l-0.5 -1.3l-0.5 -0.3l-0.5 0.9l-0.5 0l-0.5 0l-0.5 0l-0.5 -0.7l-0.5 2l-0.5 -0.1l-0.5 -6l-0.5 5.3l-0.5 0.1l-0.5 -0.6l-0.5 0l-0.5 -0.5l-0.5 -0.1l-0.5 -0.4l-0.5 1.4l-0.5 0.2l-0.5 0.3l-0.5 -0.1l-0.5 -8.6l-0.5 7.7l-0.5 -0.5l-0.5 0.4l-0.5 -0.4l-0.5 0.1l-0.5 -0.1l-0.5 0.9l-0.5 0.3l-0.5 0l-0.5 -0.6l-0.5 0.5l-0.5 0l-0.5 1.1l-0.5 0l-0.5 -0.5l-0.5 -0.1l-0.5 -1.6l-0.5 -0.4l-0.5 0.5l-0.5 -0.1l-0.5 -0.1l-0.5 0.1l-0.5 0.3l-0.5 0l-0.5 0l-0.5 0.2l-0.5 -0.2l-0.5 0.1l-0.5 0.1l-0.5 0.6l-0.5 -0.8l-0.5 1.2l-0.5 -0.5l-0.5 0.5l-0.5 -0.8l-0.5 0.1l-0.5 0.2l-0.5 1.3l-0.5 0l-0.5 -0.5l-0.5 -0.2l-0.5 -0.5l-0.5 -5.7l-0.5 4.8l-0.5 1.3l-0.5 -0.7l-0.5 0.1l-0.5 -1.2l-0.5 0l-0.5 2.2l-0.5 -0.4ZM557.75 209.2l0.25 0l0.5 0l0.5 -0.8l0.5 0.4l0.5 0l0.5 0l0.5 0.6l0.5 -0.1l0.5 -0.2l0.5 0l0.5 -0.5l0.5 0.2l0.5 -0.1l0.5 -0.2l0.5 0.9l0.5 -0.2l0.5 -0.1l0.5 0l0.5 -0.5l0.5 0.9l0.5 0.1l0.5 0l0.5 -0.3l0.5 0.3l0.5 -0.3l0.5 0l0.5 -0.4l0.5 0.1l0.25 0L571.75 247.1l-0.25 0l-0.5 0l-0.5 -0.5l-0.5 -0.1l-0.5 -0.3l-0.5 -0.4l-0.5 0.3l-0.5 1.9l-0.5 -0.1l-0.5 -0.9l-0.5 0.1l-0.5 0l-0.5 0.1l-0.5 0.2l-0.5 0.1l-0.5 0.2l-0.5 0.1l-0.5 -0.2l-0.5 -0.7l-0.5 0l-0.5 0.2l-0.5 -0.3l-0.5 -0.6l-0.5 0l-0.5 0l-0.5 0.5l-0.5 0.8l-0.5 -0.1Z"/>
<path fill="#1fef82" d="M115.25 213.1l0.25 0l0.5 -1.4l0.5 -1.5l0.5 -1.2l0.5 -0.4l0.5 0.1l0.5 -0.3l0.5 -0.3l0.5 -0.4l0.5 -0.6l0.5 -0.1l0.5 -0.8l0.5 0l0.5 -0.9l0.5 -0.2l0.5 -0.2l0.5 -0.5l0.5 0.2l0.5 -0.2l0.5 -0.2l0.5 -0.5l0.5 0.5l0.5 -0.2l0.5 -0.4l0.5 0.1l0.5 -0.2l0.5 -0.1l0.5 0.1l0.5 -1.2l0.5 -0.5l0.5 -0.2l0.5 -0.3l0.5 -0.7l0.5 0.2l0.5 -0.4l0.5 -0.2l0.5 -1.2l0.5 0.8l0.5 -0.7l0.5 -0.2l0.5 -0.5l0.5 7.6l0.5 -0.2l0.5 -8l0.5 -0.5l0.5 -0.2l0.5 0.1l0.5 -0.1l0.5 -0.4l0.5 -0.1l0.5 0.2l0.5 0l0.5 -0.3l0.5 0.2l0.5 -1.1l0.5 -0.1l0.5 0.3l0.5 -1.5l0.5 -0.2l0.5 0.5l0.5 0.1l0.5 -0.2l0.5 -0.8l0.5 7.3l0.5 -7.8l0.5 -0.3l0.5 -0.5l0.5 0.8l0.5 -5l0.5 -0.5l0.5 -0.4l0.5 3l0.5 -0.5l0.5 -0.3l0.5 -0.3l0.5 -0.3l0.5 0.7l0.5 -0.2l0.5 -0.4l0.5 -0.6l0.5 -0.4l0.5 -0.3l0.5 -0.8l0.5 5l0.5 -2.4l0.5 -2.2l0.5 -0.5l0.5 -0.1l0.5 -1.7l0.5 -0.3l0.5 0l0.5 0.1l0.5 0.8l0.5 -0.2l0.5 -0.2l0.5 -0.2l0.5 0.1l0.5 0.3l0.5 0.6l0.5 -0.2l0.5 1l0.5 0.8l0.5 5.9l0.5 -0.6l0.5 -5l0.5 0.6l0.5 -0.1l0.5 0.8l0.5 0.3l0.5 3.8l0.5 -2.5l0.5 -0.2l0.5 0.6l0.5 0.2l0.5 -0.7l0.5 0.3l0.5 -0.1l0.5 4.5l0.5 -3.8l0.5 0l0.5 0l0.5 0.2l0.5 5.6l0.5 -5l0.5 1.2l0.5 -2.6l0.5 -1.2l0.5 0.9l0.5 0l0.5 0.2l0.5 0.1l0.5 -0.3l0.5 0.8l0.5 3.4l0.5 -4l0.5 2.5l0.5 -2.5l0.5 0.4l0.5 0l0.5 0l0.5 4.8l0.5 -4.6l0.5 -0.1l0.5 -0.5l0.5 0.3l0.5 0.3l0.5 0l0.5 -1.4l0.5 0.8l0.5 0l0.5 -0.5l0.5 0.7l0.5 3.8l0.5 -3.7l0.5 0.1l0.5 -0.1l0.5 -0.4l0.5 0.9l0.5 -0.6l0.5 0.1l0.5 -0.9l0.5 0.6l0.5 0.3l0.5 0.5l0.5 -0.4l0.5 0l0.5 -0.8l0.5 5.5l0.5 -4.7l0.5 0l0.5 -1.8l0.25 0L200.75 210.0l-0.25 0l-0.5 2.3l-0.5 0l-0.5 -3.5l-0.5 3.4l-0.5 0.7l-0.5 0l-0.5 0.1l-0.5 -0.5l-0.5 0.9l-0.5 -0.7l-0.5 0.9l-0.5 0l-0.5 -0.6l-0.5 -0.9l-0.5 0.4l-0.5 0.1l-0.5 0.2l-0.5 -3.2l-0.5 3.1l-0.5 0.5l-0.5 0.5l-0.5 0l-0.5 -0.8l-0.5 -0.2l-0.5 0l-0.5 -0.3l-0.5 -0.1l-0.5 0.5l-0.5 0.1l-0.5 -3.5l-0.5 3.6l-0.5 0l-0.5 0.1l-0.5 -0.1l-0.5 -1.9l-0.5 1.9l-0.5 4l-0.5 -4.1l-0.5 -0.5l-0.5 0.3l-0.5 0.1l-0.5 -0.3l-0.5 0.2l-0.5 -1l-0.5 1.2l-0.5 2.6l-0.5 -3l-0.5 -3.9l-0.5 4.2l-0.5 -0.2l-0.5 0l-0.5 -0.1l-0.5 -4.6l-0.5 4l-0.5 -0.1l-0.5 -0.3l-0.5 0.6l-0.5 -0.2l-0.5 -0.8l-0.5 0.7l-0.5 2.5l-0.5 -2.8l-0.5 0.2l-0.5 -1.6l-0.5 0.6l-0.5 -0.3l-0.5 1.1l-0.5 0.9l-0.5 -0.4l-0.5 -0.4l-0.5 -0.2l-0.5 0.7l-0.5 0.1l-0.5 0.2l-0.5 0.4l-0.5 -0.2l-0.5 0.1l-0.5 0l-0.5 0.8l-0.5 -0.3l-0.5 -0.1l-0.5 -0.1l-0.5 -0.9l-0.5 -0.1l-0.5 0.1l-0.5 2.4l-0.5 2.1l-0.5 -5.2l-0.5 0.4l-0.5 0.7l-0.5 0l-0.5 0.4l-0.5 0l-0.5 -0.2l-0.5 -0.4l-0.5 0l-0.5 0l-0.5 0l-0.5 -0.3l-0.5 -3.2l-0.5 0.1l-0.5 -0.1l-0.5 4.2l-0.5 -1.2l-0.5 -0.1l-0.5 -0.2l-0.5 -0.1l-0.5 0.8l-0.5 -0.2l-0.5 0.1l-0.5 0.4l-0.5 -0.6l-0.5 0.1l-0.5 1.4l-0.5 -0.4l-0.5 0l-0.5 0.4l-0.5 -0.3l-0.5 0.2l-0.5 -0.1l-0.5 0.5l-0.5 0.3l-0.5 0.6l-0.5 0.4l-0.5 0.1l-0.5 0.3l-0.5 0.6l-0.5 -1.9l-0.5 0.3l-0.5 2.8l-0.5 0.7l-0.5 0.1l-0.5 0.8l-0.5 -0.6l-0.5 1.4l-0.5 0.4l-0.5 0.3l-0.5 -0.1l-0.5 0l-0.5 0.3l-0.5 0.2l-0.5 0.6l-0.5 1.6l-0.5 0l-0.5 0.1l-0.5 0.1l-0.5 0l-0.5 0.3l-0.5 0.2l-0.5 -0.6l-0.5 0.5l-0.5 -0.3l-0.5 0l-0.5 -0.9l-0.5 -0.1l-0.5 -0.3l-0.5 -0.3l-0.5 0.2l-0.5 -0.5l-0.5 0.1l-0.5 -0.3l-0.5 -0.9l-0.5 -0.2l-0.5 -0.3l-0.5 -0.2l-0.5 -0.1l-0.5 -0.2l-0.5 -0.7l-0.5 -0.7l-0.5 -0.4ZM239.75 182.9l0.25 0l0.5 0.7l0.5 -0.6l0.5 -0.3l0.5 0.6l0.5 0.7l0.5 0l0.5 -1.3l0.5 0.4l0.5 0.3l0.5 0.4l0.5 -0.1l0.5 -0.5l0.5 0.3l0.5 0.8l0.5 -0.2l0.5 0.3l0.5 1l0.5 0.3l0.5 -1.4l0.5 1.1l0.5 -0.2l0.5 0.5l0.5 -0.6l0.5 -1.6l0.5 0.1l0.5 0.9l0.5 0.4l0.5 0.1l0.5 -0.2l0.5 0l0.5 0.2l0.5 -0.1l0.5 0.1l0.5 -0.9l0.5 -0.1l0.5 0l0.5 0l0.5 0.5l0.5 -0.1l0.5 0.1l0.5 0l0.5 0.5l0.5 0.5l0.5 0l0.5 0.2l0.5 0.6l0.5 0l0.5 0l0.5 -2.3l0.5 8.5l0.5 -0.6l0.5 1.1l0.5 -7.5l0.5 -0.4l0.5 7.9l0.5 -8.8l0.5 0.6l0.5 -0.5l0.5 0.7l0.5 0.5l0.5 -3.6l0.5 3.5l0.5 -0.4l0.5 -0.5l0.5 0l0.5 0.7l0.5 -0.5l0.5 0.7l0.5 -0.6l0.5 0.1l0.5 0.8l0.5 -1.1l0.5 1.1l0.5 -0.3l0.5 1.3l0.5 -0.2l0.5 -0.3l0.5 -0.4l0.5 0.4l0.5 -0.8l0.25 0L280.25 211.4l-0.25 0l-0.5 0.9l-0.5 -0.5l-0.5 -0.8l-0.5 0.4l-0.5 0.2l-0.5 -0.6l-0.5 0.1l-0.5 -1l-0.5 1.1l-0.5 -0.8l-0.5 0.4l-0.5 -0.3l-0.5 0.5l-0.5 0.5l-0.5 -0.6l-0.5 0l-0.5 -0.5l-0.5 0.4l-0.5 -3.5l-0.5 3.7l-0.5 0.3l-0.5 -0.7l-0.5 0.5l-0.5 -0.5l-0.5 -7.1l-0.5 7.4l-0.5 -0.3l-0.5 -5.4l-0.5 -1.7l-0.5 -0.3l-0.5 7l-0.5 1.6l-0.5 0l-0.5 0l-0.5 -0.7l-0.5 0.1l-0.5 0l-0.5 -0.5l-0.5 1l-0.5 0l-0.5 0l-0.5 -0.2l-0.5 -0.4l-0.5 0l-0.5 0l-0.5 0.1l-0.5 0.1l-0.5 0l-0.5 0.1l-0.5 -0.1l-0.5 -0.5l-0.5 0.2l-0.5 0l-0.5 0l-0.5 -1l-0.5 0l-0.5 0.7l-0.5 0.6l-0.5 -0.5l-0.5 0.9l-0.5 -1l-0.5 1.3l-0.5 -0.5l-0.5 -1l-0.5 0l-0.5 0.2l-0.5 -0.7l-0.5 -0.3l-0.5 2l-0.5 0.1l-0.5 0.1l-0.5 -0.3l-0.5 -0.4l-0.5 -1.1l-0.5 0.1l-0.5 0.5l-0.5 -0.6l-0.5 0.3l-0.5 -0.6l-0.5 -0.7ZM319.25 181.9l0.25 0l0.5 0l0.5 0l0.5 -1.5l0.5 10.2l0.5 -10.8l0.5 1.6l0.5 0.6l0.5 -1.2l0.5 0.2l0.5 0l0.5 0.9l0.5 1.1l0.5 -1.5l0.5 0l0.5 0l0.5 0.1l0.5 0.4l0.5 -2.2l0.5 0l0.5 0l0.5 1.1l0.5 0.9l0.5 0.1l0.5 -0.7l0.5 0l0.5 -0.4l0.5 1.2l0.5 -0.9l0.5 0.6l0.5 0l0.5 0.1l0.5 0l0.5 0.4l0.5 1.1l0.5 -1l0.5 0.2l0.5 0.2l0.5 0l0.5 -1.5l0.5 0.8l0.5 3.5l0.5 -3.9l0.5 0.1l0.5 0l0.5 0.2l0.5 0.2l0.5 0.6l0.5 -1.1l0.5 0.6l0.5 0l0.5 0.1l0.5 -1.1l0.5 -0.2l0.5 0l0.5 -0.1l0.5 1.3l0.5 0.5l0.5 0.1l0.5 0l0.5 -0.9l0.5 0l0.5 -0.1l0.5 0.5l0.5 -0.4l0.5 0l0.5 -0.1l0.5 0.1l0.5 0.9l0.5 0l0.5 12.2l0.5 -12.5l0.5 -0.1l0.5 4l0.5 -4.1l0.5 -0.4l0.5 0.2l0.5 0l0.5 0.2l0.5 0.2l0.5 0l0.5 -0.6l0.25 0L360.25 210.6l-0.25 0l-0.5 0l-0.5 0l-0.5 0.1l-0.5 -0.2l-0.5 0l-0.5 -0.2l-0.5 0.1l-0.5 -3.3l-0.5 3.3l-0.5 0.1l-0.5 -2.5l-0.5 3l-0.5 0l-0.5 -0.3l-0.5 -0.1l-0.5 0.2l-0.5 0l-0.5 -0.4l-0.5 0.4l-0.5 0.1l-0.5 0l-0.5 0.1l-0.5 0l-0.5 0l-0.5 0.4l-0.5 0.2l-0.5 0.2l-0.5 -0.1l-0.5 0.2l-0.5 -1.3l-0.5 -0.1l-0.5 0l-0.5 0l-0.5 1.1l-0.5 -0.5l-0.5 -0.3l-0.5 0.2l-0.5 -0.1l-0.5 0l-0.5 -2.2l-0.5 2.8l-0.5 -0.8l-0.5 0.8l-0.5 0l-0.5 -0.1l-0.5 -0.2l-0.5 -0.2l-0.5 -1.1l-0.5 -0.4l-0.5 -0.1l-0.5 2.3l-0.5 0l-0.5 0.2l-0.5 -0.5l-0.5 -1.3l-0.5 0.4l-0.5 0.1l-0.5 -1.2l-0.5 0.6l-0.5 -0.9l-0.5 0.9l-0.5 0l-0.5 0l-0.5 0.3l-0.5 0.2l-0.5 -0.1l-0.5 0.1l-0.5 0l-0.5 0l-0.5 0.9l-0.5 -1l-0.5 1.1l-0.5 -0.3l-0.5 -1.4l-0.5 -0.5l-0.5 0.5l-0.5 -6.9l-0.5 7.9l-0.5 0.8l-0.5 0l-0.5 0ZM398.75 182.7l0.25 0l0.5 -1.5l0.5 0l0.5 0.8l0.5 -0.3l0.5 0.1l0.5 0.3l0.5 0l0.5 -2.7l0.5 -0.1l0.5 0.4l0.5 11.1l0.5 -9.9l0.5 0.3l0.5 -0.4l0.5 -0.9l0.5 1l0.5 6.2l0.5 -5l0.5 0.6l0.5 0.1l0.5 -1.4l0.5 0l0.5 0l0.5 -0.6l0.5 0.1l0.5 1.6l0.5 0.2l0.5 -0.7l0.5 -0.3l0.5 -1.1l0.5 1.1l0.5 0l0.5 -0.2l0.5 0.3l0.5 -0.3l0.5 -0.7l0.5 0.3l0.5 0.1l0.5 0l0.5 0.6l0.5 -0.7l0.5 0.2l0.5 0l0.5 -0.5l0.5 -0.3l0.5 0.5l0.5 0.7l0.5 -0.3l0.5 0.2l0.5 -0.2l0.5 0.1l0.5 -0.4l0.5 -0.9l0.5 0.2l0.5 0l0.5 -0.4l0.5 1.3l0.5 -1.9l0.5 0.1l0.5 0.6l0.5 1.2l0.5 0l0.5 0.3l0.5 1.2l0.5 -0.6l0.5 -0.5l0.5 0.5l0.5 0.2l0.5 5.7l0.5 -5.8l0.5 0.1l0.5 -0.9l0.5 4.3l0.5 -3.9l0.5 0l0.5 0l0.5 0.5l0.5 -0.3l0.5 0l0.5 -0.6l0.25 0L439.25 209.9l-0.25 0l-0.5 -0.5l-0.5 0l-0.5 0.6l-0.5 0.4l-0.5 0l-0.5 -0.1l-0.5 4l-0.5 -4.1l-0.5 0.3l-0.5 -0.1l-0.5 5.8l-0.5 -5.7l-0.5 -0.2l-0.5 -0.5l-0.5 0.5l-0.5 -0.4l-0.5 0.7l-0.5 -0.2l-0.5 0l-0.5 0.9l-0.5 -0.5l-0.5 -0.1l-0.5 -1.5l-0.5 1l-0.5 0.4l-0.5 0l-0.5 -0.3l-0.5 -0.7l-0.5 0.3l-0.5 -0.1l-0.5 -0.1l-0.5 -0.1l-0.5 0.3l-0.5 0.3l-0.5 -0.5l-0.5 -0.4l-0.5 0.5l-0.5 0l-0.5 -0.4l-0.5 0.8l-0.5 -0.1l-0.5 0l-0.5 -0.1l-0.5 0l-0.5 0l-0.5 0.3l-0.5 0.1l-0.5 0.2l-0.5 0l-0.5 -1.1l-0.5 -1.4l-0.5 0.2l-0.5 0.8l-0.5 -0.2l-0.5 0.1l-0.5 0.1l-0.5 0l-0.5 0.1l-0.5 0l-0.5 1.3l-0.5 0.1l-0.5 -0.5l-0.5 -3.9l-0.5 4.8l-0.5 -0.9l-0.5 0.9l-0.5 -0.3l-0.5 0.3l-0.5 -6.6l-0.5 5.5l-0.5 0.1l-0.5 0.1l-0.5 -0.1l-0.5 0.1l-0.5 -0.3l-0.5 -0.2l-0.5 -0.2l-0.5 -0.8l-0.5 0l-0.5 1.5ZM478.25 179.4l0.25 0l0.5 0.4l0.5 1.8l0.5 0l0.5 -1.2l0.5 0.2l0.5 -0.6l0.5 1.5l0.5 3.6l0.5 -4.4l0.5 -0.6l0.5 -0.2l0.5 -0.3l0.5 0l0.5 0.7l0.5 1.4l0.5 0l0.5 -1l0.5 -0.5l0.5 0.5l0.5 1l0.5 -0.7l0.5 0.5l0.5 -0.1l0.5 -0.2l0.5 0.3l0.5 -0.2l0.5 -0.1l0.5 0l0.5 0.5l0.5 0l0.5 0l0.5 -0.2l0.5 -0.3l0.5 0.4l0.5 -1.3l0.5 0.2l0.5 -0.6l0.5 0l0.5 1.1l0.5 0l0.5 0.3l0.5 -0.6l0.5 0l0.5 0.3l0.5 0.7l0.5 -0.3l0.5 -0.1l0.5 0.4l0.5 -0.2l0.5 -0.2l0.5 6l0.5 -7l0.5 -0.1l0.5 0.7l0.5 -0.2l0.5 1.3l0.5 0.5l0.5 0l0.5 -0.5l0.5 -0.3l0.5 -0.7l0.5 -0.2l0.5 4.1l0.5 -4.5l0.5 0.1l0.5 0.6l0.5 0.2l0.5 0l0.5 0.1l0.5 -0.2l0.5 0.5l0.5 0.3l0.5 -1.6l0.5 -0.3l0.5 1l0.5 0.5l0.5 -0.9l0.5 0.2l0.5 0.1l0.5 -0.2l0.25 0L518.75 208.3l-0.25 0l-0.5 0.2l-0.5 0.1l-0.5 -0.5l-0.5 2l-0.5 0.4l-0.5 -1.9l-0.5 0.2l-0.5 -1.2l-0.5 -0.3l-0.5 0.9l-0.5 0.3l-0.5 -0.1l-0.5 0.1l-0.5 -0.7l-0.5 -0.5l-0.5 -0.1l-0.5 5.4l-0.5 -4.1l-0.5 0.2l-0.5 -0.6l-0.5 0.6l-0.5 0.5l-0.5 0l-0.5 -0.4l-0.5 0.1l-0.5 0.2l-0.5 0.3l-0.5 0.1l-0.5 5.1l-0.5 -5.9l-0.5 0.2l-0.5 1l-0.5 -0.3l-0.5 0l-0.5 0l-0.5 -0.6l-0.5 0.1l-0.5 0l-0.5 -0.6l-0.5 -0.3l-0.5 0l-0.5 0.2l-0.5 0l-0.5 -0.5l-0.5 0l-0.5 1.3l-0.5 -0.4l-0.5 0.5l-0.5 0.2l-0.5 0l-0.5 0.1l-0.5 0.1l-0.5 0.1l-0.5 -0.5l-0.5 0.2l-0.5 -0.2l-0.5 0.3l-0.5 0.1l-0.5 -0.7l-0.5 1l-0.5 -1l-0.5 -0.5l-0.5 0.5l-0.5 0.7l-0.5 0.1l-0.5 -1.4l-0.5 1.4l-0.5 0l-0.5 -0.5l-0.5 0.2l-0.5 -0.5l-0.5 4.5l-0.5 -3.6l-0.5 0.2l-0.5 0.6l-0.5 0.2l-0.5 -1.2l-0.5 0.1l-0.5 -1.3l-0.5 -0.3ZM557.75 181.3l0.25 0l0.5 0l0.5 1.1l0.5 0.4l0.5 0l0.5 0l0.5 -0.7l0.5 -0.2l0.5 -0.1l0.5 0l0.5 -0.3l0.5 0.2l0.5 -0.1l0.5 -0.2l0.5 0.5l0.5 0.3l0.5 -0.1l0.5 0l0.5 -0.5l0.5 -1.1l0.5 0.1l0.5 1.9l0.5 -0.3l0.5 0.3l0.5 -0.3l0.5 0l0.5 -0.4l0.5 0.1l0.25 0L571.75 209.0l-0.25 0l-0.5 -0.1l-0.5 0.4l-0.5 0l-0.5 0.3l-0.5 -0.3l-0.5 0.3l-0.5 0l-0.5 -0.1l-0.5 -0.9l-0.5 0.5l-0.5 0l-0.5 0.1l-0.5 0.2l-0.5 -0.9l-0.5 0.2l-0.5 0.1l-0.5 -0.2l-0.5 0.5l-0.5 0l-0.5 0.2l-0.5 0.1l-0.5 -0.6l-0.5 0l-0.5 0l-0.5 -0.4l-0.5 0.8l-0.5 0Z"/>
<path fill="#a00508" d="M200.75 177.5l0.25 0l0.5 0.5l0.5 1.9l0.5 0l0.5 0l0.5 8.7l0.5 -7.6l0.5 -0.9l0.5 0l0.5 -0.1l0.5 0l0.5 17.1l0.5 -17.2l0.5 0l0.5 -1.5l0.5 0.2l0.5 0.7l0.5 0.2l0.5 0l0.5 0.2l0.5 0l0.5 -1.1l0.5 -0.2l0.5 0.2l0.5 3.5l0.5 -3l0.5 -0.8l0.5 0l0.5 0.2l0.5 -0.7l0.5 0.8l0.5 0.9l0.5 -2l0.5 -0.9l0.5 -0.7l0.5 -1.9l0.5 -1.8l0.5 -0.4l0.5 3.6l0.5 0.8l0.5 0.2l0.5 0l0.5 -4.1l0.5 2.1l0.5 -0.7l0.5 -0.5l0.5 1.5l0.5 -0.6l0.5 -0.7l0.5 2.4l0.5 -4.5l0.5 0.2l0.5 1.2l0.5 -0.1l0.5 0.1l0.5 0l0.5 0.9l0.5 1.4l0.5 0.1l0.5 -0.4l0.5 -2.2l0.5 0.5l0.5 0.3l0.5 18.4l0.5 -16.5l0.5 -0.4l0.5 -1.9l0.5 2.1l0.5 -1.8l0.5 14.1l0.5 -11.4l0.5 -0.3l0.5 0.6l0.5 0l0.5 -1.9l0.5 -0.1l0.5 -0.6l0.5 0.3l0.25 0L239.75 220.4l-0.25 0l-0.5 -0.1l-0.5 0.7l-0.5 0.1l-0.5 -0.7l-0.5 0l-0.5 -0.7l-0.5 0.4l-0.5 -6l-0.5 6.4l-0.5 0l-0.5 -2.2l-0.5 1.9l-0.5 0.4l-0.5 -7.9l-0.5 8.3l-0.5 -0.3l-0.5 0.8l-0.5 -1.7l-0.5 0.4l-0.5 0.4l-0.5 -1.4l-0.5 1.8l-0.5 0l-0.5 -0.1l-0.5 0.1l-0.5 0.5l-0.5 -0.2l-0.5 1.3l-0.5 -2.4l-0.5 -0.2l-0.5 0.5l-0.5 0l-0.5 0.5l-0.5 3.4l-0.5 -2.1l-0.5 -2.5l-0.5 0l-0.5 -0.1l-0.5 0.2l-0.5 1.8l-0.5 -0.1l-0.5 0.2l-0.5 -2.1l-0.5 0.1l-0.5 0.4l-0.5 2l-0.5 -1.4l-0.5 0.8l-0.5 0.2l-0.5 -0.2l-0.5 -0.1l-0.5 -0.3l-0.5 -0.5l-0.5 0.6l-0.5 -0.2l-0.5 0.1l-0.5 0.2l-0.5 0l-0.5 0.2l-0.5 0l-0.5 -0.2l-0.5 0.3l-0.5 -0.2l-0.5 -0.6l-0.5 0l-0.5 -7.9l-0.5 7.8l-0.5 0l-0.5 0l-0.5 0l-0.5 -0.1l-0.5 -3.7l-0.5 4l-0.5 0l-0.5 0.1l-0.5 0.4l-0.5 0.3ZM280.25 173.7l0.25 0l0.5 -2l0.5 0l0.5 4.7l0.5 -2.9l0.5 0.3l0.5 -0.2l0.5 1.1l0.5 -0.3l0.5 -0.1l0.5 0.3l0.5 0.9l0.5 0l0.5 -3.4l0.5 1.1l0.5 1.4l0.5 -1.6l0.5 0.3l0.5 0l0.5 2l0.5 0.2l0.5 0l0.5 -0.8l0.5 0.2l0.5 0.9l0.5 -0.1l0.5 -2.4l0.5 0.5l0.5 0.2l0.5 0.4l0.5 -0.6l0.5 -0.4l0.5 0.6l0.5 1.7l0.5 -1.4l0.5 0l0.5 0.8l0.5 0l0.5 20.5l0.5 -20.5l0.5 -0.9l0.5 1.1l0.5 0.2l0.5 0.8l0.5 -0.8l0.5 -0.2l0.5 17l0.5 -18.5l0.5 -0.5l0.5 1.4l0.5 0.5l0.5 -0.3l0.5 -1l0.5 -2.1l0.5 0.9l0.5 1.2l0.5 0.2l0.5 1.8l0.5 -0.1l0.5 9.7l0.5 -10.6l0.5 0.9l0.5 10.5l0.5 -10.9l0.5 -0.4l0.5 1l0.5 -1l0.5 -0.7l0.5 -0.1l0.5 -0.1l0.5 10.5l0.5 -0.2l0.5 -10.4l0.5 0.3l0.5 1.3l0.5 -0.1l0.5 0.2l0.5 0.1l0.25 0L319.25 220.4l-0.25 0l-0.5 -0.1l-0.5 -0.2l-0.5 0.1l-0.5 1.2l-0.5 -0.4l-0.5 -5.2l-0.5 -0.7l-0.5 5.1l-0.5 0.1l-0.5 0.1l-0.5 -0.3l-0.5 1l-0.5 -1l-0.5 -0.2l-0.5 -4.3l-0.5 4.7l-0.5 0.8l-0.5 -5.2l-0.5 4l-0.5 0l-0.5 0.9l-0.5 -0.2l-0.5 -1.2l-0.5 -0.5l-0.5 2l-0.5 0.2l-0.5 -0.5l-0.5 -0.5l-0.5 -0.3l-0.5 -0.2l-0.5 -6.8l-0.5 8l-0.5 -0.2l-0.5 -0.5l-0.5 0.4l-0.5 -0.1l-0.5 0.2l-0.5 -0.1l-0.5 -9.3l-0.5 9.3l-0.5 0l-0.5 0.4l-0.5 0l-0.5 2l-0.5 -1.7l-0.5 -0.7l-0.5 0.3l-0.5 0.6l-0.5 -0.4l-0.5 -0.2l-0.5 -0.1l-0.5 -0.7l-0.5 0.2l-0.5 -0.9l-0.5 0.3l-0.5 0.7l-0.5 0l-0.5 -0.1l-0.5 0.9l-0.5 0l-0.5 -0.3l-0.5 -0.2l-0.5 -1.4l-0.5 0.5l-0.5 0.5l-0.5 0l-0.5 0.6l-0.5 -0.4l-0.5 0.1l-0.5 0.3l-0.5 0.6l-0.5 0.2l-0.5 -0.4l-0.5 -0.9l-0.5 2.2l-0.5 0l-0.5 -0.9ZM360.25 172.3l0.25 0l0.5 -0.6l0.5 2.9l0.5 -1l0.5 1l0.5 -2.2l0.5 -1.2l0.5 1.6l0.5 0.2l0.5 0.1l0.5 -0.2l0.5 -0.3l0.5 0.1l0.5 0.8l0.5 -1l0.5 -0.3l0.5 0.4l0.5 1.5l0.5 -0.9l0.5 -0.5l0.5 0.5l0.5 21.1l0.5 -21.7l0.5 0.3l0.5 0.3l0.5 10.8l0.5 -9.6l0.5 0.5l0.5 0l0.5 -1.4l0.5 0l0.5 -0.9l0.5 18l0.5 -16.9l0.5 0.1l0.5 -0.9l0.5 14.3l0.5 -14.3l0.5 0.2l0.5 -0.3l0.5 0l0.5 1.1l0.5 -1l0.5 -0.6l0.5 0.5l0.5 14.5l0.5 -13.1l0.5 0.2l0.5 7.4l0.5 -8.4l0.5 1.7l0.5 -1.7l0.5 1.4l0.5 -3.1l0.5 0.2l0.5 0l0.5 2.3l0.5 -0.5l0.5 0l0.5 -1.4l0.5 2.7l0.5 0l0.5 1.7l0.5 13.4l0.5 -17.2l0.5 0.2l0.5 -0.6l0.5 0.2l0.5 22l0.5 -21.7l0.5 2.7l0.5 0l0.5 -0.2l0.5 -0.9l0.5 -0.8l0.5 0.5l0.5 -3.7l0.25 0L398.75 220.6l-0.25 0l-0.5 -0.4l-0.5 -0.5l-0.5 -0.2l-0.5 0.9l-0.5 0.2l-0.5 0l-0.5 1l-0.5 -9.8l-0.5 9.5l-0.5 -0.1l-0.5 0l-0.5 -0.2l-0.5 -7.3l-0.5 8.8l-0.5 -2.4l-0.5 0.1l-0.5 0.5l-0.5 -1.2l-0.5 0l-0.5 0.8l-0.5 1.2l-0.5 0l-0.5 -0.2l-0.5 -1.8l-0.5 1.1l-0.5 1.6l-0.5 -1.7l-0.5 -3.3l-0.5 3.6l-0.5 -0.2l-0.5 -5.8l-0.5 6.8l-0.5 -0.5l-0.5 0.6l-0.5 -1.7l-0.5 1l-0.5 0l-0.5 0.5l-0.5 0.1l-0.5 -6.7l-0.5 6.7l-0.5 -0.4l-0.5 -0.1l-0.5 -7.9l-0.5 8.2l-0.5 -0.3l-0.5 0l-0.5 -0.8l-0.5 0l-0.5 -0.4l-0.5 -10.9l-0.5 12.3l-0.5 -0.4l-0.5 -0.3l-0.5 -7.5l-0.5 7.6l-0.5 0.3l-0.5 0.4l-0.5 -0.3l-0.5 -1.6l-0.5 -0.3l-0.5 0.9l-0.5 1l-0.5 -0.7l-0.5 -0.2l-0.5 0l-0.5 0.1l-0.5 -0.1l-0.5 -0.2l-0.5 0.7l-0.5 1.2l-0.5 -1.9l-0.5 -0.1l-0.5 1l-0.5 -0.7l-0.5 -0.3ZM439.25 175.0l0.25 0l0.5 -2l0.5 0l0.5 0.1l0.5 1.7l0.5 0.4l0.5 0l0.5 -0.2l0.5 -0.8l0.5 -1.1l0.5 -0.6l0.5 1.8l0.5 0.3l0.5 17.8l0.5 -17.6l0.5 19.4l0.5 -21.9l0.5 0l0.5 -0.1l0.5 2.4l0.5 0.1l0.5 11.5l0.5 -12.2l0.5 -0.2l0.5 0.2l0.5 0.4l0.5 -0.2l0.5 -0.7l0.5 -1.3l0.5 -0.4l0.5 2l0.5 22.5l0.5 -22.6l0.5 0.8l0.5 0l0.5 -0.3l0.5 -0.6l0.5 23.5l0.5 -24.9l0.5 2.6l0.5 0l0.5 -1.4l0.5 0.1l0.5 -0.3l0.5 0.7l0.5 0.3l0.5 0.8l0.5 0l0.5 -0.1l0.5 -1.6l0.5 0l0.5 0l0.5 1.2l0.5 2l0.5 -3.2l0.5 -0.1l0.5 0.4l0.5 -0.9l0.5 0l0.5 20.8l0.5 -21.4l0.5 -0.2l0.5 0.6l0.5 0.5l0.5 0.1l0.5 0l0.5 -1.5l0.5 13l0.5 -12l0.5 0.8l0.5 0.1l0.5 -0.2l0.5 -1.5l0.5 8.5l0.5 11.1l0.5 -18.5l0.5 0.2l0.5 0.3l0.25 0L478.25 220.3l-0.25 0l-0.5 0l-0.5 -0.2l-0.5 -7.1l-0.5 3.9l-0.5 4.1l-0.5 -0.7l-0.5 0.7l-0.5 -0.1l-0.5 -1.3l-0.5 -6.6l-0.5 6.2l-0.5 1.5l-0.5 0l-0.5 -0.1l-0.5 0.6l-0.5 -0.5l-0.5 0.1l-0.5 -9.5l-0.5 9.5l-0.5 0.1l-0.5 0.9l-0.5 -0.9l-0.5 0.1l-0.5 1.2l-0.5 -1.9l-0.5 1l-0.5 0l-0.5 0l-0.5 -0.4l-0.5 0.1l-0.5 0l-0.5 0.1l-0.5 0.2l-0.5 -0.7l-0.5 0.3l-0.5 -0.1l-0.5 -0.8l-0.5 0l-0.5 1.3l-0.5 -10.1l-0.5 8.6l-0.5 0.5l-0.5 0.4l-0.5 0l-0.5 0.4l-0.5 -10.4l-0.5 10.9l-0.5 0.1l-0.5 -1.8l-0.5 -0.3l-0.5 0.7l-0.5 0.2l-0.5 0.8l-0.5 -0.1l-0.5 0.1l-0.5 -5.7l-0.5 4.6l-0.5 -0.1l-0.5 1l-0.5 0.2l-0.5 0l-0.5 -9.6l-0.5 9l-0.5 -8.1l-0.5 7.9l-0.5 0.2l-0.5 -0.3l-0.5 -0.3l-0.5 1.1l-0.5 -0.8l-0.5 0.1l-0.5 0.1l-0.5 -0.5l-0.5 0.8l-0.5 -0.1l-0.5 0l-0.5 -0.8ZM518.75 170.8l0.25 0l0.5 -0.2l0.5 -1l0.5 1.6l0.5 1.2l0.5 0l0.5 1.6l0.5 0l0.5 -0.4l0.5 -0.6l0.5 25.4l0.5 -26.8l0.5 0.2l0.5 21.6l0.5 -21.5l0.5 -0.1l0.5 -0.5l0.5 0.2l0.5 -0.4l0.5 -0.1l0.5 0.1l0.5 27.4l0.5 -25.7l0.5 -0.1l0.5 -0.2l0.5 24.4l0.5 -24.1l0.5 0.2l0.5 -0.7l0.5 22.5l0.5 -22.5l0.5 0l0.5 1.6l0.5 0.6l0.5 -0.6l0.5 -0.4l0.5 -0.5l0.5 -1.1l0.5 0l0.5 15.1l0.5 -15l0.5 0.3l0.5 -1.9l0.5 -0.1l0.5 -1.2l0.5 24.8l0.5 -22.8l0.5 2.6l0.5 0l0.5 -0.4l0.5 -0.1l0.5 23.5l0.5 0l0.5 0l0.5 0l0.5 0l0.5 0l0.5 -25.7l0.5 0.1l0.5 0.2l0.5 0l0.5 0.4l0.5 -1.2l0.5 0.8l0.5 -0.3l0.5 1l0.5 2.5l0.5 0l0.5 0l0.5 -0.3l0.5 -0.2l0.5 1.3l0.5 -2.8l0.5 -0.1l0.5 -3.6l0.5 0.1l0.5 18.3l0.5 -16.7l0.25 0L557.75 222.2l-0.25 0l-0.5 -7.4l-0.5 8.4l-0.5 -0.1l-0.5 -1.3l-0.5 0.1l-0.5 -1.2l-0.5 0.4l-0.5 -0.1l-0.5 0.3l-0.5 0l-0.5 0l-0.5 1.2l-0.5 -0.1l-0.5 0.3l-0.5 0.3l-0.5 -0.5l-0.5 -0.4l-0.5 0l-0.5 0.1l-0.5 0l-0.5 -25.5l-0.5 0l-0.5 0l-0.5 0l-0.5 0l-0.5 0l-0.5 24.1l-0.5 0.1l-0.5 0.4l-0.5 0l-0.5 0.7l-0.5 -10.4l-0.5 11.3l-0.5 -0.4l-0.5 0l-0.5 -0.8l-0.5 -0.2l-0.5 -6.7l-0.5 6.7l-0.5 0l-0.5 -0.5l-0.5 -0.2l-0.5 0.5l-0.5 0.5l-0.5 -0.6l-0.5 0.3l-0.5 0l-0.5 -10.2l-0.5 10.2l-0.5 0.4l-0.5 -0.6l-0.5 -10.7l-0.5 10.3l-0.5 0.3l-0.5 0l-0.5 -22.7l-0.5 23.5l-0.5 -0.1l-0.5 0.1l-0.5 0.7l-0.5 -1.1l-0.5 0l-0.5 0.1l-0.5 -10.4l-0.5 9.6l-0.5 -0.2l-0.5 -12.2l-0.5 11.5l-0.5 0.6l-0.5 0.5l-0.5 0l-0.5 -0.3l-0.5 0l-0.5 -0.5l-0.5 0.8l-0.5 1l-0.5 0.2Z"/>
<path fill="#2e5e9e" d="M74.25 211.6l0.25 0l0.5 -1.3l0.5 -0.1l0.5 0l0.5 -0.1l0.5 0.5l0.5 0l0.5 -0.5l0.5 0.2l0.5 -0.5l0.5 1.5l0.5 0l0.5 -2.2l0.5 0.3l0.5 0l0.5 -0.2l0.5 0.6l0.5 0.4l0.5 -0.1l0.5 0l0.5 -0.8l0.5 -0.1l0.5 0l0.5 -0.9l0.5 1.4l0.5 0l0.5 -0.1l0.5 0.4l0.5 -0.1l0.5 -1.1l0.5 0l0.5 -0.1l0.5 0.7l0.5 -0.3l0.5 0.6l0.5 -0.3l0.5 0.1l0.5 -0.3l0.5 -0.4l0.5 -0.4l0.5 1.2l0.5 0l0.5 -0.1l0.5 -1l0.5 -0.2l0.5 1.8l0.5 -0.1l0.5 0.1l0.5 -0.1l0.5 -1.5l0.5 -0.2l0.5 0l0.5 -2.4l0.5 -1l0.5 0.7l0.5 -0.1l0.5 2.3l0.5 -0.1l0.5 -0.1l0.5 -0.1l0.5 0l0.5 -1l0.5 0.1l0.5 -1l0.5 0.8l0.5 -0.1l0.5 0.5l0.5 0.3l0.5 0.4l0.5 -1.2l0.5 -0.4l0.5 0.9l0.5 -1.5l0.5 0.5l0.5 -3.2l0.5 -0.2l0.5 -0.8l0.5 3.5l0.5 -0.1l0.5 -0.9l0.5 3.3l0.5 -0.7l0.5 -1.2l0.5 -2.3l0.5 0.1l0.5 -0.8l0.5 0l0.5 -0.5l0.5 -0.4l0.5 -0.3l0.5 -0.3l0.5 -1.9l0.5 -0.2l0.5 -0.7l0.5 -0.1l0.5 2.3l0.5 -0.7l0.5 -0.3l0.5 -0.4l0.5 -2.4l0.5 -0.2l0.5 -0.3l0.5 -0.9l0.5 0.5l0.5 0.8l0.5 1.6l0.5 -0.1l0.5 -0.2l0.5 -0.1l0.5 0.1l0.5 -1.2l0.5 0.1l0.5 -0.2l0.5 -0.3l0.5 -0.7l0.5 -1.2l0.5 -0.3l0.5 -0.2l0.5 -1.2l0.5 -0.7l0.5 -0.7l0.5 -0.2l0.5 2.6l0.5 10.2l0.5 -0.1l0.5 -11.6l0.5 0.8l0.5 -0.8l0.5 0.1l0.5 -0.1l0.5 -1.6l0.5 -0.1l0.5 0.3l0.5 0l0.5 0.5l0.5 -2l0.5 -1l0.5 -0.1l0.5 0.3l0.5 0.8l0.5 -0.3l0.5 0.5l0.5 0.2l0.5 -0.1l0.5 -0.7l0.5 9.6l0.5 -9.6l0.5 -0.3l0.5 -0.4l0.5 -0.5l0.5 -5l0.5 -0.4l0.5 -0.3l0.5 3.7l0.5 -0.5l0.5 -0.2l0.5 -0.3l0.5 0.1l0.5 0.6l0.5 -0.1l0.5 -0.4l0.5 -2.6l0.5 -0.3l0.5 2.1l0.5 -0.8l0.5 5l0.5 -3.5l0.5 -2.2l0.5 0.1l0.5 -0.2l0.5 -1.6l0.5 -0.3l0.5 -0.2l0.5 0.1l0.5 0.8l0.5 -0.1l0.5 -0.9l0.5 -0.2l0.5 0.3l0.5 0.4l0.5 -0.2l0.5 0l0.5 1l0.5 0.9l0.5 7.3l0.5 0l0.5 -6l0.5 0.9l0.5 0l0.5 -0.4l0.5 0.4l0.5 3.8l0.5 -1.7l0.5 -0.3l0.5 0.6l0.5 0.4l0.5 -0.7l0.5 -0.5l0.5 0.7l0.5 5.4l0.5 -3.9l0.5 0l0.5 0l0.5 -0.5l0.5 5.7l0.5 -5l0.5 1.6l0.5 -2.4l0.5 -1.1l0.5 0.9l0.5 0l0.5 0.5l0.5 0.1l0.5 -1.8l0.5 0.7l0.5 3.4l0.5 -2.7l0.5 2.5l0.5 -3.8l0.5 0.4l0.5 0l0.5 0l0.5 5.1l0.5 -4.6l0.5 -0.2l0.5 1.5l0.5 -0.4l0.5 0.2l0.5 0l0.5 -1.4l0.5 0.3l0.5 0l0.5 -0.4l0.5 0.9l0.5 3.9l0.5 -3.8l0.5 0.1l0.5 0.1l0.5 -0.4l0.5 -1.3l0.5 -0.7l0.5 0.1l0.5 0.1l0.5 0.7l0.5 0.2l0.5 0.5l0.5 1.1l0.5 0l0.5 -0.3l0.5 5.4l0.5 -4.6l0.5 -1.7l0.5 -1.8l0.25 0L200.75 189.5l-0.25 0l-0.5 1.8l-0.5 0l-0.5 4.7l-0.5 -5.5l-0.5 0.8l-0.5 0l-0.5 0.4l-0.5 -0.5l-0.5 -0.3l-0.5 -0.6l-0.5 0.9l-0.5 -0.1l-0.5 0.6l-0.5 -0.9l-0.5 0.4l-0.5 0.1l-0.5 -0.1l-0.5 3.7l-0.5 -3.8l-0.5 -0.7l-0.5 0.5l-0.5 0l-0.5 -0.8l-0.5 1.4l-0.5 0l-0.5 -0.3l-0.5 -0.3l-0.5 0.5l-0.5 0.1l-0.5 4.6l-0.5 -4.8l-0.5 0l-0.5 0l-0.5 -0.4l-0.5 2.5l-0.5 -2.5l-0.5 4l-0.5 -3.4l-0.5 -0.8l-0.5 0.3l-0.5 -0.1l-0.5 -0.2l-0.5 0l-0.5 -0.9l-0.5 1.2l-0.5 2.6l-0.5 -1.2l-0.5 5l-0.5 -5.6l-0.5 -0.2l-0.5 0l-0.5 0l-0.5 3.8l-0.5 -4.5l-0.5 0.1l-0.5 -0.3l-0.5 0.7l-0.5 -0.2l-0.5 -0.6l-0.5 0.2l-0.5 2.5l-0.5 -3.8l-0.5 -0.3l-0.5 -0.8l-0.5 0.1l-0.5 -0.6l-0.5 5l-0.5 0.6l-0.5 -5.9l-0.5 -0.8l-0.5 -1l-0.5 0.2l-0.5 -0.6l-0.5 -0.3l-0.5 -0.1l-0.5 0.2l-0.5 0.2l-0.5 0.2l-0.5 -0.8l-0.5 -0.1l-0.5 0l-0.5 0.3l-0.5 1.7l-0.5 0.1l-0.5 0.5l-0.5 2.2l-0.5 2.4l-0.5 -5l-0.5 0.8l-0.5 0.3l-0.5 0.4l-0.5 0.6l-0.5 0.4l-0.5 0.2l-0.5 -0.7l-0.5 0.3l-0.5 0.3l-0.5 0.3l-0.5 0.5l-0.5 -3l-0.5 0.4l-0.5 0.5l-0.5 5l-0.5 -0.8l-0.5 0.5l-0.5 0.3l-0.5 7.8l-0.5 -7.3l-0.5 0.8l-0.5 0.2l-0.5 -0.1l-0.5 -0.5l-0.5 0.2l-0.5 1.5l-0.5 -0.3l-0.5 0.1l-0.5 1.1l-0.5 -0.2l-0.5 0.3l-0.5 0l-0.5 -0.2l-0.5 0.1l-0.5 0.4l-0.5 0.1l-0.5 -0.1l-0.5 0.2l-0.5 0.5l-0.5 8l-0.5 0.2l-0.5 -7.6l-0.5 0.5l-0.5 0.2l-0.5 0.7l-0.5 -0.8l-0.5 1.2l-0.5 0.2l-0.5 0.4l-0.5 -0.2l-0.5 0.7l-0.5 0.3l-0.5 0.2l-0.5 0.5l-0.5 1.2l-0.5 -0.1l-0.5 0.1l-0.5 0.2l-0.5 -0.1l-0.5 0.4l-0.5 0.2l-0.5 -0.5l-0.5 0.5l-0.5 0.2l-0.5 0.2l-0.5 -0.2l-0.5 0.5l-0.5 0.2l-0.5 0.2l-0.5 0.9l-0.5 0l-0.5 0.8l-0.5 0.1l-0.5 0.6l-0.5 0.4l-0.5 0.3l-0.5 0.3l-0.5 -0.1l-0.5 0.4l-0.5 1.2l-0.5 1.5l-0.5 1.4l-0.5 1.6l-0.5 1.1l-0.5 -0.4l-0.5 0.9l-0.5 0.1l-0.5 0.6l-0.5 -0.3l-0.5 0.2l-0.5 -0.7l-0.5 0l-0.5 -0.3l-0.5 -1.1l-0.5 0.3l-0.5 0.7l-0.5 0l-0.5 -0.4l-0.5 0.2l-0.5 -0.1l-0.5 -0.9l-0.5 0l-0.5 -0.3l-0.5 1l-0.5 0l-0.5 -0.1l-0.5 0l-0.5 0l-0.5 0.5l-0.5 0l-0.5 -0.9l-0.5 0.9l-0.5 -0.6l-0.5 0l-0.5 0l-0.5 -0.4l-0.5 0l-0.5 -0.1l-0.5 0l-0.5 0.1l-0.5 0l-0.5 -0.2l-0.5 0l-0.5 -0.1l-0.5 -0.6l-0.5 0.3l-0.5 0.4l-0.5 0l-0.5 -0.1l-0.5 0l-0.5 -0.6l-0.5 0.6l-0.5 0.2l-0.5 0l-0.5 -0.1l-0.5 -0.2l-0.5 0.1l-0.5 0l-0.5 0l-0.5 0l-0.5 -0.7l-0.5 0.8l-0.5 0l-0.5 -0.1l-0.5 -0.1l-0.5 0l-0.5 0l-0.5 0.1l-0.5 0l-0.5 0.1l-0.5 -0.1l-0.5 -0.3l-0.5 -0.5l-0.5 0l-0.5 0l-0.5 0.3l-0.5 0.1l-0.5 -0.7l-0.5 0l-0.5 0.7l-0.5 0l-0.5 0l-0.5 0l-0.5 -0.3ZM239.75 179.0l0.25 0l0.5 0.3l0.5 -0.7l0.5 1.1l0.5 1.1l0.5 0.7l0.5 0.2l0.5 -1.3l0.5 0.4l0.5 -1.1l0.5 0.3l0.5 0.1l0.5 -0.5l0.5 1l0.5 0.7l0.5 -0.1l0.5 -0.4l0.5 0.9l0.5 0.2l0.5 -1.3l0.5 -0.4l0.5 -0.1l0.5 0.9l0.5 0.9l0.5 -0.1l0.5 0l0.5 -0.2l0.5 -1l0.5 0l0.5 1.3l0.5 0.1l0.5 -0.7l0.5 -0.1l0.5 0.1l0.5 -0.1l0.5 -1.8l0.5 0l0.5 0.1l0.5 0.5l0.5 0.4l0.5 0l0.5 0l0.5 0.5l0.5 0.9l0.5 0l0.5 0.1l0.5 1.7l0.5 0l0.5 0l0.5 -3.8l0.5 8.6l0.5 -0.2l0.5 1l0.5 -6.4l0.5 -0.4l0.5 7.9l0.5 -8.8l0.5 -1.5l0.5 1.1l0.5 0.7l0.5 0.3l0.5 -3.6l0.5 4l0.5 -0.3l0.5 -0.6l0.5 0.1l0.5 -0.1l0.5 -0.4l0.5 0.6l0.5 0l0.5 0.1l0.5 0.8l0.5 -1.8l0.5 -0.2l0.5 0.6l0.5 1.3l0.5 -0.2l0.5 0.8l0.5 -1.8l0.5 0.4l0.5 -0.8l0.25 0L280.25 185.4l-0.25 0l-0.5 0.8l-0.5 -0.4l-0.5 0.4l-0.5 0.3l-0.5 0.2l-0.5 -1.3l-0.5 0.3l-0.5 -1.1l-0.5 1.1l-0.5 -0.8l-0.5 -0.1l-0.5 0.6l-0.5 -0.7l-0.5 0.5l-0.5 -0.7l-0.5 0l-0.5 0.5l-0.5 0.4l-0.5 -3.5l-0.5 3.6l-0.5 -0.5l-0.5 -0.7l-0.5 0.5l-0.5 -0.6l-0.5 8.8l-0.5 -7.9l-0.5 0.4l-0.5 7.5l-0.5 -1.1l-0.5 0.6l-0.5 -8.5l-0.5 2.3l-0.5 0l-0.5 0l-0.5 -0.6l-0.5 -0.2l-0.5 0l-0.5 -0.5l-0.5 -0.5l-0.5 0l-0.5 -0.1l-0.5 0.1l-0.5 -0.5l-0.5 0l-0.5 0l-0.5 0.1l-0.5 0.9l-0.5 -0.1l-0.5 0.1l-0.5 -0.2l-0.5 0l-0.5 0.2l-0.5 -0.1l-0.5 -0.4l-0.5 -0.9l-0.5 -0.1l-0.5 1.6l-0.5 0.6l-0.5 -0.5l-0.5 0.2l-0.5 -1.1l-0.5 1.4l-0.5 -0.3l-0.5 -1l-0.5 -0.3l-0.5 0.2l-0.5 -0.8l-0.5 -0.3l-0.5 0.5l-0.5 0.1l-0.5 -0.4l-0.5 -0.3l-0.5 -0.4l-0.5 1.3l-0.5 0l-0.5 -0.7l-0.5 -0.6l-0.5 0.3l-0.5 0.6l-0.5 -0.7ZM319.25 179.8l0.25 0l0.5 0l0.5 0l0.5 -1.1l0.5 10.2l0.5 -10.3l0.5 1.6l0.5 0.6l0.5 -1.2l0.5 -0.5l0.5 0l0.5 0.3l0.5 1.1l0.5 -0.1l0.5 0l0.5 -0.1l0.5 -0.7l0.5 0.4l0.5 -2.3l0.5 0l0.5 -0.3l0.5 1l0.5 0.9l0.5 0.1l0.5 -0.7l0.5 0l0.5 -0.4l0.5 1.3l0.5 -0.3l0.5 0.6l0.5 0l0.5 0.1l0.5 -0.3l0.5 0.3l0.5 0.3l0.5 -0.7l0.5 0l0.5 0.3l0.5 0.1l0.5 -1.5l0.5 0.8l0.5 3.7l0.5 -3.9l0.5 0.1l0.5 0.7l0.5 0.1l0.5 0.3l0.5 0.6l0.5 -1.1l0.5 0.6l0.5 0l0.5 0.2l0.5 -2.1l0.5 0.6l0.5 -0.5l0.5 -0.2l0.5 1.4l0.5 0.7l0.5 0l0.5 0l0.5 -0.9l0.5 -0.1l0.5 0.6l0.5 0.4l0.5 -0.9l0.5 0l0.5 0.7l0.5 -0.5l0.5 0.9l0.5 0l0.5 12.2l0.5 -12.9l0.5 -0.1l0.5 4.6l0.5 -4.3l0.5 0.1l0.5 -0.4l0.5 0.3l0.5 -0.9l0.5 0.2l0.5 0l0.5 1l0.25 0L360.25 181.9l-0.25 0l-0.5 0.6l-0.5 0l-0.5 -0.2l-0.5 -0.2l-0.5 0l-0.5 -0.2l-0.5 0.4l-0.5 4.1l-0.5 -4l-0.5 0.1l-0.5 12.5l-0.5 -12.2l-0.5 0l-0.5 -0.9l-0.5 -0.1l-0.5 0.1l-0.5 0l-0.5 0.4l-0.5 -0.5l-0.5 0.1l-0.5 0l-0.5 0.9l-0.5 0l-0.5 -0.1l-0.5 -0.5l-0.5 -1.3l-0.5 0.1l-0.5 0l-0.5 0.2l-0.5 1.1l-0.5 -0.1l-0.5 0l-0.5 -0.6l-0.5 1.1l-0.5 -0.6l-0.5 -0.2l-0.5 -0.2l-0.5 0l-0.5 -0.1l-0.5 3.9l-0.5 -3.5l-0.5 -0.8l-0.5 1.5l-0.5 0l-0.5 -0.2l-0.5 -0.2l-0.5 1l-0.5 -1.1l-0.5 -0.4l-0.5 0l-0.5 -0.1l-0.5 0l-0.5 -0.6l-0.5 0.9l-0.5 -1.2l-0.5 0.4l-0.5 0l-0.5 0.7l-0.5 -0.1l-0.5 -0.9l-0.5 -1.1l-0.5 0l-0.5 0l-0.5 2.2l-0.5 -0.4l-0.5 -0.1l-0.5 0l-0.5 0l-0.5 1.5l-0.5 -1.1l-0.5 -0.9l-0.5 0l-0.5 -0.2l-0.5 1.2l-0.5 -0.6l-0.5 -1.6l-0.5 10.8l-0.5 -10.2l-0.5 1.5l-0.5 0l-0.5 0ZM398.75 180.1l0.25 0l0.5 -0.9l0.5 0l0.5 0.8l0.5 -0.4l0.5 -2.1l0.5 0.3l0.5 0l0.5 -1.5l0.5 0.2l0.5 0.4l0.5 10.9l0.5 -9.9l0.5 0.3l0.5 -0.4l0.5 -1.7l0.5 1.3l0.5 6.2l0.5 -5l0.5 1.4l0.5 0.1l0.5 -1.3l0.5 0l0.5 0.3l0.5 -0.9l0.5 0.2l0.5 1.6l0.5 -0.9l0.5 -0.8l0.5 -0.3l0.5 -1l0.5 1.2l0.5 0l0.5 0.6l0.5 0.2l0.5 -1.5l0.5 1.1l0.5 -1.1l0.5 0.1l0.5 0l0.5 0.6l0.5 0.7l0.5 -0.1l0.5 0l0.5 -0.5l0.5 -0.2l0.5 0.8l0.5 0.6l0.5 -0.3l0.5 0.2l0.5 0.1l0.5 0.1l0.5 -0.4l0.5 -1l0.5 -1.6l0.5 0l0.5 1.3l0.5 1.3l0.5 -1.9l0.5 -0.7l0.5 1.8l0.5 1.2l0.5 0l0.5 0.3l0.5 0.3l0.5 -0.5l0.5 -0.5l0.5 0.5l0.5 0.2l0.5 6.1l0.5 -5.8l0.5 0.2l0.5 -0.8l0.5 4.3l0.5 -4.7l0.5 -0.1l0.5 0l0.5 0.5l0.5 -1l0.5 0l0.5 -0.6l0.25 0L439.25 181.5l-0.25 0l-0.5 0.6l-0.5 0l-0.5 0.3l-0.5 -0.5l-0.5 0l-0.5 0l-0.5 3.9l-0.5 -4.3l-0.5 0.9l-0.5 -0.1l-0.5 5.8l-0.5 -5.7l-0.5 -0.2l-0.5 -0.5l-0.5 0.5l-0.5 0.6l-0.5 -1.2l-0.5 -0.3l-0.5 0l-0.5 -1.2l-0.5 -0.6l-0.5 -0.1l-0.5 1.9l-0.5 -1.3l-0.5 0.4l-0.5 0l-0.5 -0.2l-0.5 0.9l-0.5 0.4l-0.5 -0.1l-0.5 0.2l-0.5 -0.2l-0.5 0.3l-0.5 -0.7l-0.5 -0.5l-0.5 0.3l-0.5 0.5l-0.5 0l-0.5 -0.2l-0.5 0.7l-0.5 -0.6l-0.5 0l-0.5 -0.1l-0.5 -0.3l-0.5 0.7l-0.5 0.3l-0.5 -0.3l-0.5 0.2l-0.5 0l-0.5 -1.1l-0.5 1.1l-0.5 0.3l-0.5 0.7l-0.5 -0.2l-0.5 -1.6l-0.5 -0.1l-0.5 0.6l-0.5 0l-0.5 0l-0.5 1.4l-0.5 -0.1l-0.5 -0.6l-0.5 5l-0.5 -6.2l-0.5 -1l-0.5 0.9l-0.5 0.4l-0.5 -0.3l-0.5 9.9l-0.5 -11.1l-0.5 -0.4l-0.5 0.1l-0.5 2.7l-0.5 0l-0.5 -0.3l-0.5 -0.1l-0.5 0.3l-0.5 -0.8l-0.5 0l-0.5 1.5ZM478.25 177.8l0.25 0l0.5 0.4l0.5 1.8l0.5 0l0.5 -2l0.5 0.2l0.5 -0.5l0.5 1.4l0.5 3.6l0.5 -4.5l0.5 -0.5l0.5 0l0.5 -0.1l0.5 0l0.5 -0.2l0.5 1.4l0.5 -0.2l0.5 -0.2l0.5 -0.5l0.5 0.5l0.5 0.8l0.5 -0.8l0.5 0.4l0.5 -0.1l0.5 1l0.5 -1.2l0.5 0.9l0.5 -0.1l0.5 0l0.5 0.3l0.5 -0.1l0.5 0.2l0.5 -0.2l0.5 -0.3l0.5 0.4l0.5 -1.2l0.5 0.2l0.5 -0.6l0.5 0l0.5 0.7l0.5 0l0.5 0.4l0.5 -0.9l0.5 0l0.5 0.4l0.5 0.7l0.5 0.3l0.5 -0.1l0.5 0.4l0.5 -0.1l0.5 -0.7l0.5 6l0.5 -6.8l0.5 0l0.5 -0.1l0.5 0.8l0.5 1.6l0.5 -0.7l0.5 0l0.5 -0.4l0.5 -0.6l0.5 -0.8l0.5 0.3l0.5 4l0.5 -4.4l0.5 0l0.5 1l0.5 0.2l0.5 0l0.5 -0.3l0.5 0.3l0.5 0.5l0.5 0.3l0.5 -1.6l0.5 -0.4l0.5 0.9l0.5 0.5l0.5 -0.9l0.5 0l0.5 0.1l0.5 0.6l0.25 0L518.75 180.8l-0.25 0l-0.5 0.2l-0.5 -0.1l-0.5 -0.2l-0.5 0.9l-0.5 -0.5l-0.5 -1l-0.5 0.3l-0.5 1.6l-0.5 -0.3l-0.5 -0.5l-0.5 0.2l-0.5 -0.1l-0.5 0l-0.5 -0.2l-0.5 -0.6l-0.5 -0.1l-0.5 4.5l-0.5 -4.1l-0.5 0.2l-0.5 0.7l-0.5 0.3l-0.5 0.5l-0.5 0l-0.5 -0.5l-0.5 -1.3l-0.5 0.2l-0.5 -0.7l-0.5 0.1l-0.5 7l-0.5 -6l-0.5 0.2l-0.5 0.2l-0.5 -0.4l-0.5 0.1l-0.5 0.3l-0.5 -0.7l-0.5 -0.3l-0.5 0l-0.5 0.6l-0.5 -0.3l-0.5 0l-0.5 -1.1l-0.5 0l-0.5 0.6l-0.5 -0.2l-0.5 1.3l-0.5 -0.4l-0.5 0.3l-0.5 0.2l-0.5 0l-0.5 0l-0.5 -0.5l-0.5 0l-0.5 0.1l-0.5 0.2l-0.5 -0.3l-0.5 0.2l-0.5 0.1l-0.5 -0.5l-0.5 0.7l-0.5 -1l-0.5 -0.5l-0.5 0.5l-0.5 1l-0.5 0l-0.5 -1.4l-0.5 -0.7l-0.5 0l-0.5 0.3l-0.5 0.2l-0.5 0.6l-0.5 4.4l-0.5 -3.6l-0.5 -1.5l-0.5 0.6l-0.5 -0.2l-0.5 1.2l-0.5 0l-0.5 -1.8l-0.5 -0.4ZM557.75 178.9l0.25 0l0.5 -0.2l0.5 1.1l0.5 0.4l0.5 0l0.5 0l0.5 -0.7l0.5 -0.2l0.5 0.5l0.5 0l0.5 -0.7l0.5 -0.9l0.5 -0.1l0.5 -0.1l0.5 1.2l0.5 0.3l0.5 -0.2l0.5 0l0.5 0.5l0.5 -1.1l0.5 0.1l0.5 1.9l0.5 -0.3l0.5 -0.4l0.5 -0.4l0.5 0.1l0.5 -0.4l0.5 -0.4l0.25 0L571.75 181.9l-0.25 0l-0.5 -0.1l-0.5 0.4l-0.5 0l-0.5 0.3l-0.5 -0.3l-0.5 0.3l-0.5 -1.9l-0.5 -0.1l-0.5 1.1l-0.5 0.5l-0.5 0l-0.5 0.1l-0.5 -0.3l-0.5 -0.5l-0.5 0.2l-0.5 0.1l-0.5 -0.2l-0.5 0.3l-0.5 0l-0.5 0.1l-0.5 0.2l-0.5 0.7l-0.5 0l-0.5 0l-0.5 -0.4l-0.5 -1.1l-0.5 0Z"/>
<path fill="#ff7f7f" d="M61.25 205.3l0.25 0l0.5 0l0.5 0l0.5 0l0.5 0l0.5 0l0.5 0l0.5 0l0.5 0l0.5 0l0.5 0l0.5 0l0.5 0l0.5 0l0.5 -8l0.5 0l0.5 0l0.5 0l0.5 0l0.5 0l0.5 0l0.5 0l0.5 0l0.5 0l0.5 0l0.5 0l0.5 -1.7l0.5 -1.3l0.5 -0.1l0.5 0l0.5 -0.1l0.5 8.5l0.5 0l0.5 -7.7l0.5 0.5l0.5 4.6l0.5 -2.5l0.5 0.2l0.5 -2.1l0.5 -5.5l0.5 -1.1l0.5 1.7l0.5 -0.5l0.5 0.4l0.5 0.2l0.5 -0.6l0.5 0.4l0.5 -0.3l0.5 -0.3l0.5 12.2l0.5 -11.8l0.5 -0.4l0.5 0.5l0.5 -0.7l0.5 0.8l0.5 -0.2l0.5 -1l0.5 0.2l0.5 0.8l0.5 8.4l0.5 -8.7l0.5 0.6l0.5 -1.5l0.5 1.3l0.5 5.3l0.5 5.2l0.5 -10.2l0.5 -1.5l0.5 0.5l0.5 -1.7l0.5 1.2l0.5 -2.8l0.5 0.2l0.5 -1.6l0.5 0.4l0.5 -2.4l0.5 0.8l0.5 -0.2l0.5 -2.4l0.5 13.2l0.5 -12.4l0.5 -0.8l0.5 2.2l0.5 0.8l0.5 -0.2l0.5 -0.7l0.5 -0.3l0.5 14.4l0.5 -3.7l0.5 2.5l0.5 -13.6l0.5 -0.7l0.5 1.1l0.5 -5.5l0.5 -0.8l0.5 11.3l0.5 4.2l0.5 -15.6l0.5 -1l0.5 -1l0.5 -2.8l0.5 2.5l0.5 -2l0.5 1.3l0.5 1.3l0.5 13.5l0.5 -11.3l0.5 14.5l0.5 -14.5l0.5 6.2l0.5 -0.3l0.5 -0.1l0.5 0.1l0.5 -1l0.5 0.8l0.5 -1.1l0.5 0.2l0.5 -2.3l0.5 -1l0.5 5.3l0.5 -4.1l0.5 0.5l0.5 -0.3l0.5 -1.3l0.5 1.3l0.5 -3.6l0.5 1.1l0.5 -1l0.5 8.3l0.5 -9l0.5 1.1l0.5 1.4l0.5 -0.4l0.5 2.7l0.5 1.2l0.5 -0.9l0.5 -1.8l0.5 1.7l0.5 -1.4l0.5 0l0.5 -0.8l0.5 -2l0.5 0.6l0.5 -0.4l0.5 10.1l0.5 -12l0.5 7.1l0.5 -7.2l0.5 2l0.5 19.4l0.5 -0.3l0.5 -19.8l0.5 0.2l0.5 -0.5l0.5 0l0.5 -0.4l0.5 8.7l0.5 -9.7l0.5 0.4l0.5 0.2l0.5 0.4l0.5 -2l0.5 -1.7l0.5 8.3l0.5 -7.5l0.5 1.1l0.5 -0.3l0.5 0.7l0.5 -0.2l0.5 -0.5l0.5 0.3l0.5 12.3l0.5 -18.2l0.5 0.4l0.5 -0.7l0.5 -0.8l0.5 -5.1l0.5 -1l0.5 -0.4l0.5 4.3l0.5 1.5l0.5 -0.9l0.5 -0.1l0.5 -1.6l0.5 3.2l0.5 -3l0.5 0.9l0.5 -2.4l0.5 0l0.5 1.3l0.5 10.1l0.5 -4.8l0.5 -4.4l0.5 -1.5l0.5 0.7l0.5 -1.4l0.5 -0.7l0.5 -0.7l0.5 -0.5l0.5 1.3l0.5 0.5l0.5 11.2l0.5 -12.2l0.5 0l0.5 -0.3l0.5 0.6l0.5 -0.5l0.5 0.2l0.5 2.1l0.5 1.9l0.5 11.5l0.5 0.7l0.5 -11.1l0.5 1.6l0.5 8.2l0.5 -8.5l0.5 -0.1l0.5 2.1l0.5 -2.5l0.5 10.4l0.5 -8.8l0.5 -1l0.5 0.1l0.5 -0.9l0.5 0.5l0.5 6.2l0.5 -5.1l0.5 1l0.5 0.3l0.5 -1.5l0.5 5.5l0.5 -5.3l0.5 11.6l0.5 -11.2l0.5 12l0.5 -13.5l0.5 1.5l0.5 0.1l0.5 0.3l0.5 7.1l0.5 -8.1l0.5 2.6l0.5 -2.5l0.5 2.2l0.5 1.2l0.5 -5.4l0.5 1.2l0.5 -0.8l0.5 5.8l0.5 -4l0.5 -1.6l0.5 2.7l0.5 -1.1l0.5 0.3l0.5 0.2l0.5 9.8l0.5 -11l0.5 0l0.5 -0.2l0.5 0.7l0.5 4.7l0.5 -6l0.5 1.6l0.5 0.5l0.5 5.7l0.5 -7.2l0.5 -0.9l0.5 -0.6l0.5 11.6l0.5 -9.7l0.5 -1.3l0.5 1.7l0.5 0.8l0.5 0l0.5 10.3l0.5 -5.9l0.5 -3.9l0.5 -2.8l0.5 -1.9l0.25 0L200.75 185.5l-0.25 0l-0.5 1.8l-0.5 1.7l-0.5 4.6l-0.5 -5.4l-0.5 0.3l-0.5 0l-0.5 -1.1l-0.5 -0.5l-0.5 -0.2l-0.5 -0.7l-0.5 -0.1l-0.5 -0.1l-0.5 0.7l-0.5 1.3l-0.5 0.4l-0.5 -0.1l-0.5 -0.1l-0.5 3.8l-0.5 -3.9l-0.5 -0.9l-0.5 0.4l-0.5 0l-0.5 -0.3l-0.5 1.4l-0.5 0l-0.5 -0.2l-0.5 0.4l-0.5 -1.5l-0.5 0.2l-0.5 4.6l-0.5 -5.1l-0.5 0l-0.5 0l-0.5 -0.4l-0.5 3.8l-0.5 -2.5l-0.5 2.7l-0.5 -3.4l-0.5 -0.7l-0.5 1.8l-0.5 -0.1l-0.5 -0.5l-0.5 0l-0.5 -0.9l-0.5 1.1l-0.5 2.4l-0.5 -1.6l-0.5 5l-0.5 -5.7l-0.5 0.5l-0.5 0l-0.5 0l-0.5 3.9l-0.5 -5.4l-0.5 -0.7l-0.5 0.5l-0.5 0.7l-0.5 -0.4l-0.5 -0.6l-0.5 0.3l-0.5 1.7l-0.5 -3.8l-0.5 -0.4l-0.5 0.4l-0.5 0l-0.5 -0.9l-0.5 6l-0.5 0l-0.5 -7.3l-0.5 -0.9l-0.5 -1l-0.5 0l-0.5 0.2l-0.5 -0.4l-0.5 -0.3l-0.5 0.2l-0.5 0.9l-0.5 0.1l-0.5 -0.8l-0.5 -0.1l-0.5 0.2l-0.5 0.3l-0.5 1.6l-0.5 0.2l-0.5 -0.1l-0.5 2.2l-0.5 3.5l-0.5 -5l-0.5 0.8l-0.5 -2.1l-0.5 0.3l-0.5 2.6l-0.5 0.4l-0.5 0.1l-0.5 -0.6l-0.5 -0.1l-0.5 0.3l-0.5 0.2l-0.5 0.5l-0.5 -3.7l-0.5 0.3l-0.5 0.4l-0.5 5l-0.5 0.5l-0.5 0.4l-0.5 0.3l-0.5 9.6l-0.5 -9.6l-0.5 0.7l-0.5 0.1l-0.5 -0.2l-0.5 -0.5l-0.5 0.3l-0.5 -0.8l-0.5 -0.3l-0.5 0.1l-0.5 1l-0.5 2l-0.5 -0.5l-0.5 0l-0.5 -0.3l-0.5 0.1l-0.5 1.6l-0.5 0.1l-0.5 -0.1l-0.5 0.8l-0.5 -0.8l-0.5 11.6l-0.5 0.1l-0.5 -10.2l-0.5 -2.6l-0.5 0.2l-0.5 0.7l-0.5 0.7l-0.5 1.2l-0.5 0.2l-0.5 0.3l-0.5 1.2l-0.5 0.7l-0.5 0.3l-0.5 0.2l-0.5 -0.1l-0.5 1.2l-0.5 -0.1l-0.5 0.1l-0.5 0.2l-0.5 0.1l-0.5 -1.6l-0.5 -0.8l-0.5 -0.5l-0.5 0.9l-0.5 0.3l-0.5 0.2l-0.5 2.4l-0.5 0.4l-0.5 0.3l-0.5 0.7l-0.5 -2.3l-0.5 0.1l-0.5 0.7l-0.5 0.2l-0.5 1.9l-0.5 0.3l-0.5 0.3l-0.5 0.4l-0.5 0.5l-0.5 0l-0.5 0.8l-0.5 -0.1l-0.5 2.3l-0.5 1.2l-0.5 0.7l-0.5 -3.3l-0.5 0.9l-0.5 0.1l-0.5 -3.5l-0.5 0.8l-0.5 0.2l-0.5 3.2l-0.5 -0.5l-0.5 1.5l-0.5 -0.9l-0.5 0.4l-0.5 1.2l-0.5 -0.4l-0.5 -0.3l-0.5 -0.5l-0.5 0.1l-0.5 -0.8l-0.5 1l-0.5 -0.1l-0.5 1l-0.5 0l-0.5 0.1l-0.5 0.1l-0.5 0.1l-0.5 -2.3l-0.5 0.1l-0.5 -0.7l-0.5 1l-0.5 2.4l-0.5 0l-0.5 0.2l-0.5 1.5l-0.5 0.1l-0.5 -0.1l-0.5 0.1l-0.5 -1.8l-0.5 0.2l-0.5 1l-0.5 0.1l-0.5 0l-0.5 -1.2l-0.5 0.4l-0.5 0.4l-0.5 0.3l-0.5 -0.1l-0.5 0.3l-0.5 -0.6l-0.5 0.3l-0.5 -0.7l-0.5 0.1l-0.5 0l-0.5 1.1l-0.5 0.1l-0.5 -0.4l-0.5 0.1l-0.5 0l-0.5 -1.4l-0.5 0.9l-0.5 0l-0.5 0.1l-0.5 0.8l-0.5 0l-0.5 0.1l-0.5 -0.4l-0.5 -0.6l-0.5 0.2l-0.5 0l-0.5 -0.3l-0.5 2.2l-0.5 0l-0.5 -1.5l-0.5 0.5l-0.5 -0.2l-0.5 0.5l-0.5 0l-0.5 -0.5l-0.5 0.1l-0.5 0l-0.5 0.1l-0.5 1.3l-0.5 1.7l-0.5 0l-0.5 0l-0.5 0l-0.5 0l-0.5 0l-0.5 0l-0.5 0l-0.5 0l-0.5 0l-0.5 0l-0.5 0l-0.5 -0.5l-0.5 0l-0.5 0l-0.5 0l-0.5 0l-0.5 0l-0.5 0l-0.5 0l-0.5 0l-0.5 0l-0.5 0l-0.5 0l-0.5 0l-0.5 0ZM239.75 172.1l0.25 0l0.5 -9.4l0.5 -1.2l0.5 1l0.5 2.2l0.5 0.7l0.5 0.5l0.5 -1.3l0.5 0.4l0.5 -1.1l0.5 -1.3l0.5 1.9l0.5 6.2l0.5 -5.8l0.5 -3l0.5 2.9l0.5 -0.3l0.5 0.7l0.5 -0.4l0.5 -7l0.5 -0.4l0.5 9.2l0.5 -8.3l0.5 6.6l0.5 -0.1l0.5 0l0.5 -0.2l0.5 -0.9l0.5 0l0.5 -0.4l0.5 0.1l0.5 -0.5l0.5 1.6l0.5 -0.6l0.5 -0.1l0.5 -1.8l0.5 0.5l0.5 0l0.5 0.6l0.5 -1.2l0.5 0l0.5 0.1l0.5 10.1l0.5 -8.5l0.5 0l0.5 0.1l0.5 -1.1l0.5 0l0.5 0l0.5 -3.9l0.5 12l0.5 -0.4l0.5 1.1l0.5 -6.1l0.5 -0.2l0.5 7.9l0.5 -10.6l0.5 -3.6l0.5 4.3l0.5 0.7l0.5 0.8l0.5 -3.6l0.5 4.6l0.5 0.2l0.5 -0.8l0.5 0.1l0.5 -0.1l0.5 -3.9l0.5 0.7l0.5 -0.1l0.5 2.6l0.5 0.8l0.5 -7.3l0.5 -0.2l0.5 0.6l0.5 1.3l0.5 -0.3l0.5 0.7l0.5 -2.1l0.5 0.5l0.5 5l0.25 0L280.25 181.0l-0.25 0l-0.5 0.8l-0.5 -0.4l-0.5 1.8l-0.5 -0.8l-0.5 0.2l-0.5 -1.3l-0.5 -0.6l-0.5 0.2l-0.5 1.8l-0.5 -0.8l-0.5 -0.1l-0.5 0l-0.5 -0.6l-0.5 0.4l-0.5 0.1l-0.5 -0.1l-0.5 0.6l-0.5 0.3l-0.5 -4l-0.5 3.6l-0.5 -0.3l-0.5 -0.7l-0.5 -1.1l-0.5 1.5l-0.5 8.8l-0.5 -7.9l-0.5 0.4l-0.5 6.4l-0.5 -1l-0.5 0.2l-0.5 -8.6l-0.5 3.8l-0.5 0l-0.5 0l-0.5 -1.7l-0.5 -0.1l-0.5 0l-0.5 -0.9l-0.5 -0.5l-0.5 0l-0.5 0l-0.5 -0.4l-0.5 -0.5l-0.5 -0.1l-0.5 0l-0.5 1.8l-0.5 0.1l-0.5 -0.1l-0.5 0.1l-0.5 0.7l-0.5 -0.1l-0.5 -1.3l-0.5 0l-0.5 1l-0.5 0.2l-0.5 0l-0.5 0.1l-0.5 -0.9l-0.5 -0.9l-0.5 0.1l-0.5 0.4l-0.5 1.3l-0.5 -0.2l-0.5 -0.9l-0.5 0.4l-0.5 0.1l-0.5 -0.7l-0.5 -1l-0.5 0.5l-0.5 -0.1l-0.5 -0.3l-0.5 1.1l-0.5 -0.4l-0.5 1.3l-0.5 -0.2l-0.5 -0.7l-0.5 -1.1l-0.5 -1.1l-0.5 0.7l-0.5 -0.3ZM319.25 163.6l0.25 0l0.5 0l0.5 0.1l0.5 -1l0.5 10.2l0.5 -4.8l0.5 -3.9l0.5 0.6l0.5 -1.1l0.5 -1.9l0.5 -5l0.5 0.3l0.5 1.1l0.5 6.5l0.5 0l0.5 -0.1l0.5 -0.7l0.5 -0.7l0.5 -2.3l0.5 0.1l0.5 -0.3l0.5 2l0.5 0.9l0.5 4.8l0.5 -6.5l0.5 1.9l0.5 -0.4l0.5 1.2l0.5 -0.2l0.5 -1.2l0.5 0.3l0.5 -0.7l0.5 -0.4l0.5 -5.4l0.5 0.3l0.5 4.9l0.5 4.1l0.5 -2.7l0.5 0.2l0.5 -1.6l0.5 0.3l0.5 3.6l0.5 -3.3l0.5 -1.5l0.5 -1.4l0.5 0.1l0.5 2l0.5 2.4l0.5 -1.1l0.5 -3.7l0.5 0l0.5 5.1l0.5 -3.1l0.5 0.6l0.5 0.8l0.5 -0.1l0.5 1.3l0.5 0.8l0.5 -0.7l0.5 0l0.5 -0.9l0.5 0.2l0.5 0l0.5 0.5l0.5 -0.7l0.5 0l0.5 0.6l0.5 -0.5l0.5 0.9l0.5 -0.1l0.5 12.2l0.5 -5.2l0.5 -7.4l0.5 4.6l0.5 -4.4l0.5 0.1l0.5 -1.6l0.5 0.3l0.5 -0.5l0.5 0.5l0.5 0l0.5 1.1l0.25 0L360.25 180.5l-0.25 0l-0.5 -1l-0.5 0l-0.5 -0.2l-0.5 0.9l-0.5 -0.3l-0.5 0.4l-0.5 -0.1l-0.5 4.3l-0.5 -4.6l-0.5 0.1l-0.5 12.9l-0.5 -12.2l-0.5 0l-0.5 -0.9l-0.5 0.5l-0.5 -0.7l-0.5 0l-0.5 0.9l-0.5 -0.4l-0.5 -0.6l-0.5 0.1l-0.5 0.9l-0.5 0l-0.5 0l-0.5 -0.7l-0.5 -1.4l-0.5 0.2l-0.5 0.5l-0.5 -0.6l-0.5 2.1l-0.5 -0.2l-0.5 0l-0.5 -0.6l-0.5 1.1l-0.5 -0.6l-0.5 -0.3l-0.5 -0.1l-0.5 -0.7l-0.5 -0.1l-0.5 3.9l-0.5 -3.7l-0.5 -0.8l-0.5 1.5l-0.5 -0.1l-0.5 -0.3l-0.5 0l-0.5 0.7l-0.5 -0.3l-0.5 -0.3l-0.5 0.3l-0.5 -0.1l-0.5 0l-0.5 -0.6l-0.5 0.3l-0.5 -1.3l-0.5 0.4l-0.5 0l-0.5 0.7l-0.5 -0.1l-0.5 -0.9l-0.5 -1l-0.5 0.3l-0.5 0l-0.5 2.3l-0.5 -0.4l-0.5 0.7l-0.5 0.1l-0.5 0l-0.5 0.1l-0.5 -1.1l-0.5 -0.3l-0.5 0l-0.5 0.5l-0.5 1.2l-0.5 -0.6l-0.5 -1.6l-0.5 10.3l-0.5 -10.2l-0.5 1.1l-0.5 0l-0.5 0ZM398.75 164.4l0.25 0l0.5 0l0.5 0l0.5 0.8l0.5 -0.4l0.5 2.6l0.5 -4.2l0.5 0.3l0.5 -1.4l0.5 0.2l0.5 -1.2l0.5 10.9l0.5 -9.9l0.5 1l0.5 -0.4l0.5 -1.3l0.5 -2.6l0.5 6.2l0.5 -4.9l0.5 4.9l0.5 0.7l0.5 -1.3l0.5 0l0.5 0.3l0.5 -1.6l0.5 0.2l0.5 1.6l0.5 -0.9l0.5 -0.3l0.5 4.1l0.5 -6.7l0.5 1.2l0.5 0l0.5 0.6l0.5 0l0.5 -1.5l0.5 1.1l0.5 -1.1l0.5 -1l0.5 0l0.5 0.7l0.5 8.7l0.5 -4.8l0.5 0l0.5 -2.1l0.5 -4l0.5 0.8l0.5 -1.2l0.5 4.8l0.5 0.2l0.5 0l0.5 -1.7l0.5 2.1l0.5 -1l0.5 -1.9l0.5 0.4l0.5 1.1l0.5 1.3l0.5 -1.9l0.5 0.4l0.5 1.8l0.5 1.3l0.5 0l0.5 -3.8l0.5 3.1l0.5 -0.5l0.5 7.8l0.5 -7.8l0.5 0.9l0.5 6.1l0.5 -5.8l0.5 -1.4l0.5 -1.9l0.5 6.6l0.5 -4.7l0.5 -0.1l0.5 -0.5l0.5 1l0.5 -1l0.5 0l0.5 -0.6l0.25 0L439.25 178.0l-0.25 0l-0.5 0.6l-0.5 0l-0.5 1l-0.5 -0.5l-0.5 0l-0.5 0.1l-0.5 4.7l-0.5 -4.3l-0.5 0.8l-0.5 -0.2l-0.5 5.8l-0.5 -6.1l-0.5 -0.2l-0.5 -0.5l-0.5 0.5l-0.5 0.5l-0.5 -0.3l-0.5 -0.3l-0.5 0l-0.5 -1.2l-0.5 -1.8l-0.5 0.7l-0.5 1.9l-0.5 -1.3l-0.5 -1.3l-0.5 0l-0.5 1.6l-0.5 1l-0.5 0.4l-0.5 -0.1l-0.5 -0.1l-0.5 -0.2l-0.5 0.3l-0.5 -0.6l-0.5 -0.8l-0.5 0.2l-0.5 0.5l-0.5 0l-0.5 0.1l-0.5 -0.7l-0.5 -0.6l-0.5 0l-0.5 -0.1l-0.5 1.1l-0.5 -1.1l-0.5 1.5l-0.5 -0.2l-0.5 -0.6l-0.5 0l-0.5 -1.2l-0.5 1l-0.5 0.3l-0.5 0.8l-0.5 0.9l-0.5 -1.6l-0.5 -0.2l-0.5 0.9l-0.5 -0.3l-0.5 0l-0.5 1.3l-0.5 -0.1l-0.5 -1.4l-0.5 5l-0.5 -6.2l-0.5 -1.3l-0.5 1.7l-0.5 0.4l-0.5 -0.3l-0.5 9.9l-0.5 -10.9l-0.5 -0.4l-0.5 -0.2l-0.5 1.5l-0.5 0l-0.5 -0.3l-0.5 2.1l-0.5 0.4l-0.5 -0.8l-0.5 0l-0.5 0.9ZM478.25 167.5l0.25 0l0.5 -5.4l0.5 1.8l0.5 -0.1l0.5 -2l0.5 0.2l0.5 -0.6l0.5 1.1l0.5 4.7l0.5 -4.4l0.5 -0.6l0.5 -0.5l0.5 -3.5l0.5 0l0.5 10l0.5 -10l0.5 1.1l0.5 0.3l0.5 7.8l0.5 -7.9l0.5 0.9l0.5 0.8l0.5 0.4l0.5 0.7l0.5 1l0.5 -1.2l0.5 0.9l0.5 -0.3l0.5 0l0.5 0.2l0.5 0.7l0.5 -1l0.5 0.8l0.5 6.1l0.5 -5.8l0.5 -1.1l0.5 -1.7l0.5 -1.3l0.5 0l0.5 2.8l0.5 0.3l0.5 0.4l0.5 -0.8l0.5 0l0.5 0l0.5 0.7l0.5 0.3l0.5 0.7l0.5 -5l0.5 5.2l0.5 -0.6l0.5 6.3l0.5 -8.6l0.5 -0.1l0.5 -0.1l0.5 0.8l0.5 1.6l0.5 -4l0.5 0l0.5 -0.4l0.5 3.6l0.5 -0.8l0.5 1.5l0.5 4l0.5 -4.4l0.5 -1.2l0.5 8.9l0.5 -7.7l0.5 0.6l0.5 -0.3l0.5 0.3l0.5 5.2l0.5 -4.5l0.5 -1.8l0.5 -0.5l0.5 0.9l0.5 0.3l0.5 -0.9l0.5 0l0.5 0.6l0.5 0.6l0.25 0L518.75 179.2l-0.25 0l-0.5 -0.6l-0.5 -0.1l-0.5 0l-0.5 0.9l-0.5 -0.5l-0.5 -0.9l-0.5 0.4l-0.5 1.6l-0.5 -0.3l-0.5 -0.5l-0.5 -0.3l-0.5 0.3l-0.5 0l-0.5 -0.2l-0.5 -1l-0.5 0l-0.5 4.4l-0.5 -4l-0.5 -0.3l-0.5 0.8l-0.5 0.6l-0.5 0.4l-0.5 0l-0.5 0.7l-0.5 -1.6l-0.5 -0.8l-0.5 0.1l-0.5 0l-0.5 6.8l-0.5 -6l-0.5 0.7l-0.5 0.1l-0.5 -0.4l-0.5 0.1l-0.5 -0.3l-0.5 -0.7l-0.5 -0.4l-0.5 0l-0.5 0.9l-0.5 -0.4l-0.5 0l-0.5 -0.7l-0.5 0l-0.5 0.6l-0.5 -0.2l-0.5 1.2l-0.5 -0.4l-0.5 0.3l-0.5 0.2l-0.5 -0.2l-0.5 0.1l-0.5 -0.3l-0.5 0l-0.5 0.1l-0.5 -0.9l-0.5 1.2l-0.5 -1l-0.5 0.1l-0.5 -0.4l-0.5 0.8l-0.5 -0.8l-0.5 -0.5l-0.5 0.5l-0.5 0.2l-0.5 0.2l-0.5 -1.4l-0.5 0.2l-0.5 0l-0.5 0.1l-0.5 0l-0.5 0.5l-0.5 4.5l-0.5 -3.6l-0.5 -1.4l-0.5 0.5l-0.5 -0.2l-0.5 2l-0.5 0l-0.5 -1.8l-0.5 -0.4ZM557.75 163.4l0.25 0l0.5 -0.2l0.5 0.4l0.5 0.4l0.5 0l0.5 0l0.5 -1.2l0.5 -0.2l0.5 1.1l0.5 0l0.5 -1l0.5 -0.9l0.5 1.5l0.5 2.4l0.5 -5.7l0.5 0.2l0.5 1.8l0.5 0l0.5 2.3l0.5 -1.1l0.5 -1.3l0.5 1.5l0.5 4.4l0.5 -3.7l0.5 0.5l0.5 -0.6l0.5 -0.2l0.5 -0.4l0.25 0L571.75 178.9l-0.25 0l-0.5 0.4l-0.5 0.4l-0.5 -0.1l-0.5 0.4l-0.5 0.4l-0.5 0.3l-0.5 -1.9l-0.5 -0.1l-0.5 1.1l-0.5 -0.5l-0.5 0l-0.5 0.2l-0.5 -0.3l-0.5 -1.2l-0.5 0.1l-0.5 0.1l-0.5 0.9l-0.5 0.7l-0.5 0l-0.5 -0.5l-0.5 0.2l-0.5 0.7l-0.5 0l-0.5 0l-0.5 -0.4l-0.5 -1.1l-0.5 0.2Z"/>
</g>
<rect x="0" y="0" width="29" height="339" fill="#fff"/>
<g stroke="#000" stroke-width="1" fill="none" stroke-linecap="square">
<path d="M28.5 0.5H597.5V291.5H28.5"/>
<path d="M29.01 0V292"/>
<path d="M29 146H597.5"/>
</g>
<line x1="42.0" y1="291.5" x2="42.0" y2="303" stroke="#000" stroke-width="1"/><line x1="121.3" y1="291.5" x2="121.3" y2="303" stroke="#000" stroke-width="1"/><line x1="201.0" y1="291.5" x2="201.0" y2="303" stroke="#000" stroke-width="1"/><line x1="280.4" y1="291.5" x2="280.4" y2="303" stroke="#000" stroke-width="1"/><line x1="359.7" y1="291.5" x2="359.7" y2="303" stroke="#000" stroke-width="1"/><line x1="439.4" y1="291.5" x2="439.4" y2="303" stroke="#000" stroke-width="1"/><line x1="518.7" y1="291.5" x2="518.7" y2="303" stroke="#000" stroke-width="1"/>
<text x="42.0" y="320.0" text-anchor="middle" class="t" textLength="67.5" lengthAdjust="spacingAndGlyphs">Jan-2020</text><text x="121.3" y="320.0" text-anchor="middle" class="t" textLength="67.5" lengthAdjust="spacingAndGlyphs">Jan-2021</text><text x="201.0" y="320.0" text-anchor="middle" class="t" textLength="67.5" lengthAdjust="spacingAndGlyphs">Jan-2022</text><text x="280.4" y="320.0" text-anchor="middle" class="t" textLength="67.5" lengthAdjust="spacingAndGlyphs">Jan-2023</text><text x="359.7" y="320.0" text-anchor="middle" class="t" textLength="67.5" lengthAdjust="spacingAndGlyphs">Jan-2024</text><text x="439.4" y="320.0" text-anchor="middle" class="t" textLength="67.5" lengthAdjust="spacingAndGlyphs">Jan-2025</text><text x="518.7" y="320.0" text-anchor="middle" class="t" textLength="67.5" lengthAdjust="spacingAndGlyphs">Jan-2026</text>
<text class="t" x="313.3" y="339.0" text-anchor="middle" textLength="36" lengthAdjust="spacingAndGlyphs">Date</text>
<text class="y" transform="translate(9.0,118.1) rotate(-90)" textLength="90.5" lengthAdjust="spacingAndGlyphs">Water injection</text>
<text class="y" transform="translate(9.0,257) rotate(-90)" textLength="77" lengthAdjust="spacingAndGlyphs">Gas injection</text>
<rect x="603.6" y="68.6" width="80.4" height="135" rx="2.5" fill="#fff" fill-opacity="0.8" stroke="#cccccc" stroke-width="1"/>
<rect x="607.7" y="73.30" width="23.4" height="8" fill="#4b9ef0"/><text x="640.5" y="81.60" class="l" textLength="38.6" lengthAdjust="spacingAndGlyphs">IRK004</text><rect x="607.7" y="89.84" width="23.4" height="8" fill="#fd2f72"/><text x="640.5" y="98.14" class="l" textLength="38.6" lengthAdjust="spacingAndGlyphs">IRK028</text><rect x="607.7" y="106.38" width="23.4" height="8" fill="#a2a33a"/><text x="640.5" y="114.68" class="l" textLength="38.6" lengthAdjust="spacingAndGlyphs">IRK029</text><rect x="607.7" y="122.92" width="23.4" height="8" fill="#5c4e15"/><text x="640.5" y="131.22" class="l" textLength="38.6" lengthAdjust="spacingAndGlyphs">IRK036</text><rect x="607.7" y="139.46" width="23.4" height="8" fill="#1fef82"/><text x="640.5" y="147.76" class="l" textLength="38.6" lengthAdjust="spacingAndGlyphs">IRK049</text><rect x="607.7" y="156.00" width="23.4" height="8" fill="#a00508"/><text x="640.5" y="164.30" class="l" textLength="38.6" lengthAdjust="spacingAndGlyphs">IRK050</text><rect x="607.7" y="172.54" width="23.4" height="8" fill="#2e5e9e"/><text x="640.5" y="180.84" class="l" textLength="38.6" lengthAdjust="spacingAndGlyphs">IRK056</text><rect x="607.7" y="189.08" width="23.4" height="8" fill="#ff7f7f"/><text x="640.5" y="197.38" class="l" textLength="38.6" lengthAdjust="spacingAndGlyphs">IRK063</text>
</svg>
</body></html>
